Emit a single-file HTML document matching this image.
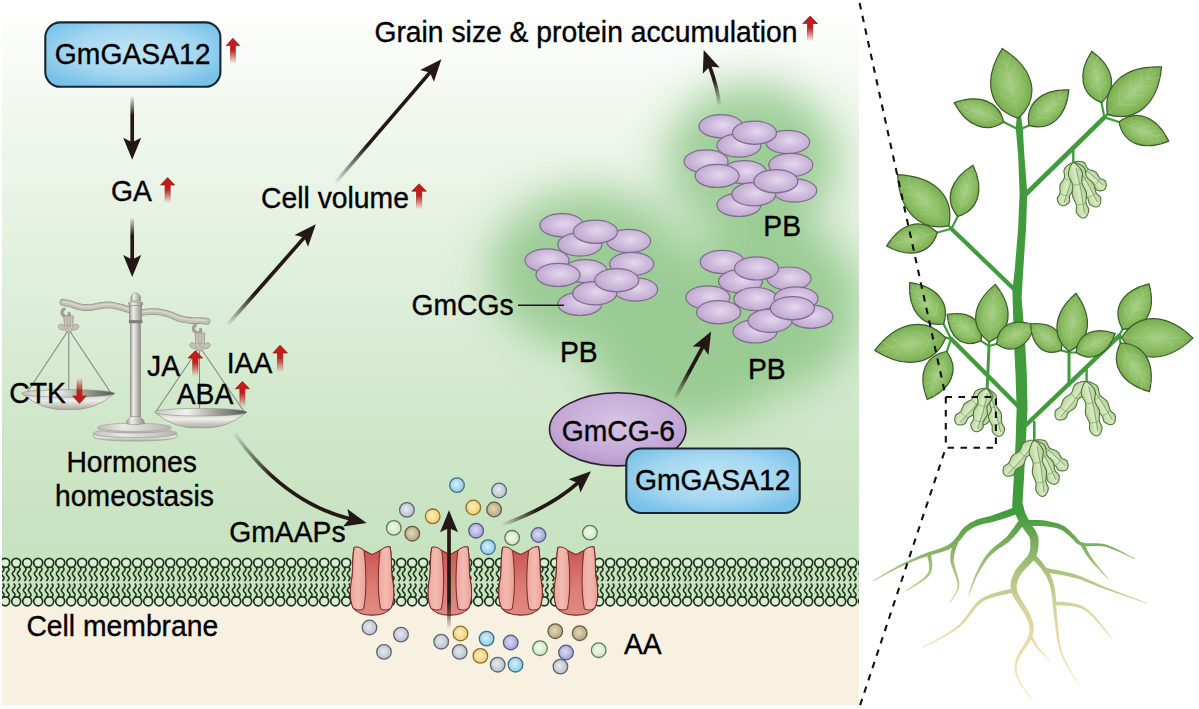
<!DOCTYPE html><html><head><meta charset="utf-8"><style>html,body{margin:0;padding:0;background:#fff;}svg{display:block;}</style></head><body><svg width="1199" height="709" viewBox="0 0 1199 709" font-family='"Liberation Sans", sans-serif'>
<defs>
 <linearGradient id="bg" x1="0" y1="0" x2="0" y2="1" gradientUnits="objectBoundingBox">
  <stop offset="0" stop-color="#ffffff"/>
  <stop offset="0.15" stop-color="#f4f9f2"/>
  <stop offset="0.45" stop-color="#e2f0de"/>
  <stop offset="0.78" stop-color="#cde6c7"/>
  <stop offset="1" stop-color="#c6e2bf"/>
 </linearGradient>
 <radialGradient id="blue" cx="0.5" cy="0.45" r="0.6">
  <stop offset="0" stop-color="#c0e5f6"/>
  <stop offset="0.6" stop-color="#a4d6f0"/>
  <stop offset="1" stop-color="#78c2e9"/>
 </radialGradient>
 <radialGradient id="purp" cx="0.5" cy="0.4" r="0.6">
  <stop offset="0" stop-color="#d7c5e5"/>
  <stop offset="0.7" stop-color="#c5aad7"/>
  <stop offset="1" stop-color="#b698c9"/>
 </radialGradient>
 <radialGradient id="pb" cx="0.55" cy="0.45" r="0.6">
  <stop offset="0" stop-color="#e4d8ed"/>
  <stop offset="0.5" stop-color="#cfbcdd"/>
  <stop offset="1" stop-color="#bca5ce"/>
 </radialGradient>
 <linearGradient id="redar" x1="0" y1="0" x2="0" y2="1">
  <stop offset="0" stop-color="#c21c1c"/>
  <stop offset="0.45" stop-color="#c21c1c"/>
  <stop offset="1" stop-color="#c21c1c" stop-opacity="0"/>
 </linearGradient>
 <linearGradient id="redard" x1="0" y1="1" x2="0" y2="0">
  <stop offset="0" stop-color="#c21c1c"/>
  <stop offset="0.45" stop-color="#c21c1c"/>
  <stop offset="1" stop-color="#c21c1c" stop-opacity="0"/>
 </linearGradient>
 <filter id="blur20" x="-50%" y="-50%" width="200%" height="200%"><feGaussianBlur stdDeviation="22"/></filter>
 <clipPath id="panelclip"><rect x="2" y="5" width="857" height="700.5"/></clipPath>
</defs>
<rect width="1199" height="709" fill="#ffffff"/><g clip-path="url(#panelclip)"><rect x="2" y="5" width="857" height="560" fill="url(#bg)"/><rect x="2" y="560" width="857" height="145.5" fill="#f8f0e0"/><rect x="2" y="555" width="857" height="47" fill="#c8e3c0"/><g filter="url(#blur20)" fill="#8fc688" opacity="0.85"><ellipse cx="752" cy="160" rx="86" ry="76"/><ellipse cx="590" cy="270" rx="100" ry="80"/><ellipse cx="768" cy="305" rx="92" ry="88"/><ellipse cx="690" cy="360" rx="95" ry="65"/></g></g><g clip-path="url(#panelclip)"><path d="M2.70,567.00 L3.47,567.88 L3.97,568.75 L4.00,569.62 L3.57,570.50 L2.82,571.38 L2.02,572.25 L1.48,573.12 L1.37,574.00 L1.75,574.88 L2.47,575.75 L3.27,576.62 L3.87,577.50 L4.04,578.38 L3.73,579.25 L3.05,580.12 L2.24,581.00 M7.70,567.00 L8.47,567.88 L8.97,568.75 L9.00,569.62 L8.57,570.50 L7.82,571.38 L7.03,572.25 L6.48,573.12 L6.37,574.00 L6.75,574.88 L7.47,575.75 L8.27,576.62 L8.87,577.50 L9.04,578.38 L8.73,579.25 L8.05,580.12 L7.24,581.00 M2.70,583.50 L3.47,584.38 L3.97,585.25 L4.00,586.12 L3.57,587.00 L2.82,587.88 L2.02,588.75 L1.48,589.62 L1.37,590.50 L1.75,591.38 L2.47,592.25 L3.27,593.12 L3.87,594.00 L4.04,594.88 L3.73,595.75 L3.05,596.62 L2.24,597.50 M7.70,583.50 L8.47,584.38 L8.97,585.25 L9.00,586.12 L8.57,587.00 L7.82,587.88 L7.03,588.75 L6.48,589.62 L6.37,590.50 L6.75,591.38 L7.47,592.25 L8.27,593.12 L8.87,594.00 L9.04,594.88 L8.73,595.75 L8.05,596.62 L7.24,597.50 M13.70,567.00 L14.47,567.88 L14.97,568.75 L15.00,569.62 L14.57,570.50 L13.82,571.38 L13.02,572.25 L12.48,573.12 L12.37,574.00 L12.75,574.88 L13.47,575.75 L14.27,576.62 L14.87,577.50 L15.04,578.38 L14.73,579.25 L14.05,580.12 L13.24,581.00 M18.70,567.00 L19.47,567.88 L19.97,568.75 L20.00,569.62 L19.57,570.50 L18.82,571.38 L18.02,572.25 L17.48,573.12 L17.37,574.00 L17.75,574.88 L18.47,575.75 L19.27,576.62 L19.87,577.50 L20.04,578.38 L19.73,579.25 L19.05,580.12 L18.24,581.00 M13.70,583.50 L14.47,584.38 L14.97,585.25 L15.00,586.12 L14.57,587.00 L13.82,587.88 L13.02,588.75 L12.48,589.62 L12.37,590.50 L12.75,591.38 L13.47,592.25 L14.27,593.12 L14.87,594.00 L15.04,594.88 L14.73,595.75 L14.05,596.62 L13.24,597.50 M18.70,583.50 L19.47,584.38 L19.97,585.25 L20.00,586.12 L19.57,587.00 L18.82,587.88 L18.02,588.75 L17.48,589.62 L17.37,590.50 L17.75,591.38 L18.47,592.25 L19.27,593.12 L19.87,594.00 L20.04,594.88 L19.73,595.75 L19.05,596.62 L18.24,597.50 M24.70,567.00 L25.47,567.88 L25.97,568.75 L26.00,569.62 L25.57,570.50 L24.82,571.38 L24.02,572.25 L23.48,573.12 L23.37,574.00 L23.75,574.88 L24.47,575.75 L25.27,576.62 L25.87,577.50 L26.04,578.38 L25.73,579.25 L25.05,580.12 L24.24,581.00 M29.70,567.00 L30.47,567.88 L30.97,568.75 L31.00,569.62 L30.57,570.50 L29.82,571.38 L29.02,572.25 L28.48,573.12 L28.37,574.00 L28.75,574.88 L29.47,575.75 L30.27,576.62 L30.87,577.50 L31.04,578.38 L30.73,579.25 L30.05,580.12 L29.24,581.00 M24.70,583.50 L25.47,584.38 L25.97,585.25 L26.00,586.12 L25.57,587.00 L24.82,587.88 L24.02,588.75 L23.48,589.62 L23.37,590.50 L23.75,591.38 L24.47,592.25 L25.27,593.12 L25.87,594.00 L26.04,594.88 L25.73,595.75 L25.05,596.62 L24.24,597.50 M29.70,583.50 L30.47,584.38 L30.97,585.25 L31.00,586.12 L30.57,587.00 L29.82,587.88 L29.02,588.75 L28.48,589.62 L28.37,590.50 L28.75,591.38 L29.47,592.25 L30.27,593.12 L30.87,594.00 L31.04,594.88 L30.73,595.75 L30.05,596.62 L29.24,597.50 M35.70,567.00 L36.47,567.88 L36.97,568.75 L37.00,569.62 L36.57,570.50 L35.82,571.38 L35.03,572.25 L34.48,573.12 L34.37,574.00 L34.75,574.88 L35.47,575.75 L36.27,576.62 L36.87,577.50 L37.04,578.38 L36.73,579.25 L36.05,580.12 L35.24,581.00 M40.70,567.00 L41.47,567.88 L41.97,568.75 L42.00,569.62 L41.57,570.50 L40.82,571.38 L40.03,572.25 L39.48,573.12 L39.37,574.00 L39.75,574.88 L40.47,575.75 L41.27,576.62 L41.87,577.50 L42.04,578.38 L41.73,579.25 L41.05,580.12 L40.24,581.00 M35.70,583.50 L36.47,584.38 L36.97,585.25 L37.00,586.12 L36.57,587.00 L35.82,587.88 L35.03,588.75 L34.48,589.62 L34.37,590.50 L34.75,591.38 L35.47,592.25 L36.27,593.12 L36.87,594.00 L37.04,594.88 L36.73,595.75 L36.05,596.62 L35.24,597.50 M40.70,583.50 L41.47,584.38 L41.97,585.25 L42.00,586.12 L41.57,587.00 L40.82,587.88 L40.03,588.75 L39.48,589.62 L39.37,590.50 L39.75,591.38 L40.47,592.25 L41.27,593.12 L41.87,594.00 L42.04,594.88 L41.73,595.75 L41.05,596.62 L40.24,597.50 M46.70,567.00 L47.47,567.88 L47.97,568.75 L48.00,569.62 L47.57,570.50 L46.82,571.38 L46.03,572.25 L45.48,573.12 L45.37,574.00 L45.75,574.88 L46.47,575.75 L47.27,576.62 L47.87,577.50 L48.04,578.38 L47.73,579.25 L47.05,580.12 L46.24,581.00 M51.70,567.00 L52.47,567.88 L52.97,568.75 L53.00,569.62 L52.57,570.50 L51.82,571.38 L51.03,572.25 L50.48,573.12 L50.37,574.00 L50.75,574.88 L51.47,575.75 L52.27,576.62 L52.87,577.50 L53.04,578.38 L52.73,579.25 L52.05,580.12 L51.24,581.00 M46.70,583.50 L47.47,584.38 L47.97,585.25 L48.00,586.12 L47.57,587.00 L46.82,587.88 L46.03,588.75 L45.48,589.62 L45.37,590.50 L45.75,591.38 L46.47,592.25 L47.27,593.12 L47.87,594.00 L48.04,594.88 L47.73,595.75 L47.05,596.62 L46.24,597.50 M51.70,583.50 L52.47,584.38 L52.97,585.25 L53.00,586.12 L52.57,587.00 L51.82,587.88 L51.03,588.75 L50.48,589.62 L50.37,590.50 L50.75,591.38 L51.47,592.25 L52.27,593.12 L52.87,594.00 L53.04,594.88 L52.73,595.75 L52.05,596.62 L51.24,597.50 M57.70,567.00 L58.47,567.88 L58.97,568.75 L59.00,569.62 L58.57,570.50 L57.82,571.38 L57.03,572.25 L56.48,573.12 L56.37,574.00 L56.75,574.88 L57.47,575.75 L58.27,576.62 L58.87,577.50 L59.04,578.38 L58.73,579.25 L58.05,580.12 L57.24,581.00 M62.70,567.00 L63.47,567.88 L63.97,568.75 L64.00,569.62 L63.57,570.50 L62.82,571.38 L62.03,572.25 L61.48,573.12 L61.37,574.00 L61.75,574.88 L62.47,575.75 L63.27,576.62 L63.87,577.50 L64.04,578.38 L63.73,579.25 L63.05,580.12 L62.24,581.00 M57.70,583.50 L58.47,584.38 L58.97,585.25 L59.00,586.12 L58.57,587.00 L57.82,587.88 L57.03,588.75 L56.48,589.62 L56.37,590.50 L56.75,591.38 L57.47,592.25 L58.27,593.12 L58.87,594.00 L59.04,594.88 L58.73,595.75 L58.05,596.62 L57.24,597.50 M62.70,583.50 L63.47,584.38 L63.97,585.25 L64.00,586.12 L63.57,587.00 L62.82,587.88 L62.03,588.75 L61.48,589.62 L61.37,590.50 L61.75,591.38 L62.47,592.25 L63.27,593.12 L63.87,594.00 L64.04,594.88 L63.73,595.75 L63.05,596.62 L62.24,597.50 M68.70,567.00 L69.47,567.88 L69.97,568.75 L70.00,569.62 L69.57,570.50 L68.82,571.38 L68.03,572.25 L67.48,573.12 L67.37,574.00 L67.75,574.88 L68.47,575.75 L69.27,576.62 L69.87,577.50 L70.04,578.38 L69.73,579.25 L69.05,580.12 L68.24,581.00 M73.70,567.00 L74.47,567.88 L74.97,568.75 L75.00,569.62 L74.57,570.50 L73.82,571.38 L73.03,572.25 L72.48,573.12 L72.37,574.00 L72.75,574.88 L73.47,575.75 L74.27,576.62 L74.87,577.50 L75.04,578.38 L74.73,579.25 L74.05,580.12 L73.24,581.00 M68.70,583.50 L69.47,584.38 L69.97,585.25 L70.00,586.12 L69.57,587.00 L68.82,587.88 L68.03,588.75 L67.48,589.62 L67.37,590.50 L67.75,591.38 L68.47,592.25 L69.27,593.12 L69.87,594.00 L70.04,594.88 L69.73,595.75 L69.05,596.62 L68.24,597.50 M73.70,583.50 L74.47,584.38 L74.97,585.25 L75.00,586.12 L74.57,587.00 L73.82,587.88 L73.03,588.75 L72.48,589.62 L72.37,590.50 L72.75,591.38 L73.47,592.25 L74.27,593.12 L74.87,594.00 L75.04,594.88 L74.73,595.75 L74.05,596.62 L73.24,597.50 M79.70,567.00 L80.47,567.88 L80.97,568.75 L81.00,569.62 L80.57,570.50 L79.82,571.38 L79.03,572.25 L78.48,573.12 L78.37,574.00 L78.75,574.88 L79.47,575.75 L80.27,576.62 L80.87,577.50 L81.04,578.38 L80.73,579.25 L80.05,580.12 L79.24,581.00 M84.70,567.00 L85.47,567.88 L85.97,568.75 L86.00,569.62 L85.57,570.50 L84.82,571.38 L84.03,572.25 L83.48,573.12 L83.37,574.00 L83.75,574.88 L84.47,575.75 L85.27,576.62 L85.87,577.50 L86.04,578.38 L85.73,579.25 L85.05,580.12 L84.24,581.00 M79.70,583.50 L80.47,584.38 L80.97,585.25 L81.00,586.12 L80.57,587.00 L79.82,587.88 L79.03,588.75 L78.48,589.62 L78.37,590.50 L78.75,591.38 L79.47,592.25 L80.27,593.12 L80.87,594.00 L81.04,594.88 L80.73,595.75 L80.05,596.62 L79.24,597.50 M84.70,583.50 L85.47,584.38 L85.97,585.25 L86.00,586.12 L85.57,587.00 L84.82,587.88 L84.03,588.75 L83.48,589.62 L83.37,590.50 L83.75,591.38 L84.47,592.25 L85.27,593.12 L85.87,594.00 L86.04,594.88 L85.73,595.75 L85.05,596.62 L84.24,597.50 M90.70,567.00 L91.47,567.88 L91.97,568.75 L92.00,569.62 L91.57,570.50 L90.82,571.38 L90.03,572.25 L89.48,573.12 L89.37,574.00 L89.75,574.88 L90.47,575.75 L91.27,576.62 L91.87,577.50 L92.04,578.38 L91.73,579.25 L91.05,580.12 L90.24,581.00 M95.70,567.00 L96.47,567.88 L96.97,568.75 L97.00,569.62 L96.57,570.50 L95.82,571.38 L95.03,572.25 L94.48,573.12 L94.37,574.00 L94.75,574.88 L95.47,575.75 L96.27,576.62 L96.87,577.50 L97.04,578.38 L96.73,579.25 L96.05,580.12 L95.24,581.00 M90.70,583.50 L91.47,584.38 L91.97,585.25 L92.00,586.12 L91.57,587.00 L90.82,587.88 L90.03,588.75 L89.48,589.62 L89.37,590.50 L89.75,591.38 L90.47,592.25 L91.27,593.12 L91.87,594.00 L92.04,594.88 L91.73,595.75 L91.05,596.62 L90.24,597.50 M95.70,583.50 L96.47,584.38 L96.97,585.25 L97.00,586.12 L96.57,587.00 L95.82,587.88 L95.03,588.75 L94.48,589.62 L94.37,590.50 L94.75,591.38 L95.47,592.25 L96.27,593.12 L96.87,594.00 L97.04,594.88 L96.73,595.75 L96.05,596.62 L95.24,597.50 M101.70,567.00 L102.47,567.88 L102.97,568.75 L103.00,569.62 L102.57,570.50 L101.82,571.38 L101.03,572.25 L100.48,573.12 L100.37,574.00 L100.75,574.88 L101.47,575.75 L102.27,576.62 L102.87,577.50 L103.04,578.38 L102.73,579.25 L102.05,580.12 L101.24,581.00 M106.70,567.00 L107.47,567.88 L107.97,568.75 L108.00,569.62 L107.57,570.50 L106.82,571.38 L106.03,572.25 L105.48,573.12 L105.37,574.00 L105.75,574.88 L106.47,575.75 L107.27,576.62 L107.87,577.50 L108.04,578.38 L107.73,579.25 L107.05,580.12 L106.24,581.00 M101.70,583.50 L102.47,584.38 L102.97,585.25 L103.00,586.12 L102.57,587.00 L101.82,587.88 L101.03,588.75 L100.48,589.62 L100.37,590.50 L100.75,591.38 L101.47,592.25 L102.27,593.12 L102.87,594.00 L103.04,594.88 L102.73,595.75 L102.05,596.62 L101.24,597.50 M106.70,583.50 L107.47,584.38 L107.97,585.25 L108.00,586.12 L107.57,587.00 L106.82,587.88 L106.03,588.75 L105.48,589.62 L105.37,590.50 L105.75,591.38 L106.47,592.25 L107.27,593.12 L107.87,594.00 L108.04,594.88 L107.73,595.75 L107.05,596.62 L106.24,597.50 M112.70,567.00 L113.47,567.88 L113.97,568.75 L114.00,569.62 L113.57,570.50 L112.82,571.38 L112.03,572.25 L111.48,573.12 L111.37,574.00 L111.75,574.88 L112.47,575.75 L113.27,576.62 L113.87,577.50 L114.04,578.38 L113.73,579.25 L113.05,580.12 L112.24,581.00 M117.70,567.00 L118.47,567.88 L118.97,568.75 L119.00,569.62 L118.57,570.50 L117.82,571.38 L117.03,572.25 L116.48,573.12 L116.37,574.00 L116.75,574.88 L117.47,575.75 L118.27,576.62 L118.87,577.50 L119.04,578.38 L118.73,579.25 L118.05,580.12 L117.24,581.00 M112.70,583.50 L113.47,584.38 L113.97,585.25 L114.00,586.12 L113.57,587.00 L112.82,587.88 L112.03,588.75 L111.48,589.62 L111.37,590.50 L111.75,591.38 L112.47,592.25 L113.27,593.12 L113.87,594.00 L114.04,594.88 L113.73,595.75 L113.05,596.62 L112.24,597.50 M117.70,583.50 L118.47,584.38 L118.97,585.25 L119.00,586.12 L118.57,587.00 L117.82,587.88 L117.03,588.75 L116.48,589.62 L116.37,590.50 L116.75,591.38 L117.47,592.25 L118.27,593.12 L118.87,594.00 L119.04,594.88 L118.73,595.75 L118.05,596.62 L117.24,597.50 M123.70,567.00 L124.47,567.88 L124.97,568.75 L125.00,569.62 L124.57,570.50 L123.82,571.38 L123.03,572.25 L122.48,573.12 L122.37,574.00 L122.75,574.88 L123.47,575.75 L124.27,576.62 L124.87,577.50 L125.04,578.38 L124.73,579.25 L124.05,580.12 L123.24,581.00 M128.70,567.00 L129.47,567.88 L129.97,568.75 L130.00,569.62 L129.57,570.50 L128.82,571.38 L128.02,572.25 L127.48,573.12 L127.37,574.00 L127.75,574.88 L128.47,575.75 L129.27,576.62 L129.87,577.50 L130.04,578.38 L129.73,579.25 L129.05,580.12 L128.24,581.00 M123.70,583.50 L124.47,584.38 L124.97,585.25 L125.00,586.12 L124.57,587.00 L123.82,587.88 L123.03,588.75 L122.48,589.62 L122.37,590.50 L122.75,591.38 L123.47,592.25 L124.27,593.12 L124.87,594.00 L125.04,594.88 L124.73,595.75 L124.05,596.62 L123.24,597.50 M128.70,583.50 L129.47,584.38 L129.97,585.25 L130.00,586.12 L129.57,587.00 L128.82,587.88 L128.02,588.75 L127.48,589.62 L127.37,590.50 L127.75,591.38 L128.47,592.25 L129.27,593.12 L129.87,594.00 L130.04,594.88 L129.73,595.75 L129.05,596.62 L128.24,597.50 M134.70,567.00 L135.47,567.88 L135.97,568.75 L136.00,569.62 L135.57,570.50 L134.82,571.38 L134.02,572.25 L133.48,573.12 L133.37,574.00 L133.75,574.88 L134.47,575.75 L135.27,576.62 L135.87,577.50 L136.04,578.38 L135.73,579.25 L135.05,580.12 L134.24,581.00 M139.70,567.00 L140.47,567.88 L140.97,568.75 L141.00,569.62 L140.57,570.50 L139.82,571.38 L139.02,572.25 L138.48,573.12 L138.37,574.00 L138.75,574.88 L139.47,575.75 L140.27,576.62 L140.87,577.50 L141.04,578.38 L140.73,579.25 L140.05,580.12 L139.24,581.00 M134.70,583.50 L135.47,584.38 L135.97,585.25 L136.00,586.12 L135.57,587.00 L134.82,587.88 L134.02,588.75 L133.48,589.62 L133.37,590.50 L133.75,591.38 L134.47,592.25 L135.27,593.12 L135.87,594.00 L136.04,594.88 L135.73,595.75 L135.05,596.62 L134.24,597.50 M139.70,583.50 L140.47,584.38 L140.97,585.25 L141.00,586.12 L140.57,587.00 L139.82,587.88 L139.02,588.75 L138.48,589.62 L138.37,590.50 L138.75,591.38 L139.47,592.25 L140.27,593.12 L140.87,594.00 L141.04,594.88 L140.73,595.75 L140.05,596.62 L139.24,597.50 M145.70,567.00 L146.47,567.88 L146.97,568.75 L147.00,569.62 L146.57,570.50 L145.82,571.38 L145.02,572.25 L144.48,573.12 L144.37,574.00 L144.75,574.88 L145.47,575.75 L146.27,576.62 L146.87,577.50 L147.04,578.38 L146.73,579.25 L146.05,580.12 L145.24,581.00 M150.70,567.00 L151.47,567.88 L151.97,568.75 L152.00,569.62 L151.57,570.50 L150.82,571.38 L150.02,572.25 L149.48,573.12 L149.37,574.00 L149.75,574.88 L150.47,575.75 L151.27,576.62 L151.87,577.50 L152.04,578.38 L151.73,579.25 L151.05,580.12 L150.24,581.00 M145.70,583.50 L146.47,584.38 L146.97,585.25 L147.00,586.12 L146.57,587.00 L145.82,587.88 L145.02,588.75 L144.48,589.62 L144.37,590.50 L144.75,591.38 L145.47,592.25 L146.27,593.12 L146.87,594.00 L147.04,594.88 L146.73,595.75 L146.05,596.62 L145.24,597.50 M150.70,583.50 L151.47,584.38 L151.97,585.25 L152.00,586.12 L151.57,587.00 L150.82,587.88 L150.02,588.75 L149.48,589.62 L149.37,590.50 L149.75,591.38 L150.47,592.25 L151.27,593.12 L151.87,594.00 L152.04,594.88 L151.73,595.75 L151.05,596.62 L150.24,597.50 M156.70,567.00 L157.47,567.88 L157.97,568.75 L158.00,569.62 L157.57,570.50 L156.82,571.38 L156.02,572.25 L155.48,573.12 L155.37,574.00 L155.75,574.88 L156.47,575.75 L157.27,576.62 L157.87,577.50 L158.04,578.38 L157.73,579.25 L157.05,580.12 L156.24,581.00 M161.70,567.00 L162.47,567.88 L162.97,568.75 L163.00,569.62 L162.57,570.50 L161.82,571.38 L161.02,572.25 L160.48,573.12 L160.37,574.00 L160.75,574.88 L161.47,575.75 L162.27,576.62 L162.87,577.50 L163.04,578.38 L162.73,579.25 L162.05,580.12 L161.24,581.00 M156.70,583.50 L157.47,584.38 L157.97,585.25 L158.00,586.12 L157.57,587.00 L156.82,587.88 L156.02,588.75 L155.48,589.62 L155.37,590.50 L155.75,591.38 L156.47,592.25 L157.27,593.12 L157.87,594.00 L158.04,594.88 L157.73,595.75 L157.05,596.62 L156.24,597.50 M161.70,583.50 L162.47,584.38 L162.97,585.25 L163.00,586.12 L162.57,587.00 L161.82,587.88 L161.02,588.75 L160.48,589.62 L160.37,590.50 L160.75,591.38 L161.47,592.25 L162.27,593.12 L162.87,594.00 L163.04,594.88 L162.73,595.75 L162.05,596.62 L161.24,597.50 M167.70,567.00 L168.47,567.88 L168.97,568.75 L169.00,569.62 L168.57,570.50 L167.82,571.38 L167.02,572.25 L166.48,573.12 L166.37,574.00 L166.75,574.88 L167.47,575.75 L168.27,576.62 L168.87,577.50 L169.04,578.38 L168.73,579.25 L168.05,580.12 L167.24,581.00 M172.70,567.00 L173.47,567.88 L173.97,568.75 L174.00,569.62 L173.57,570.50 L172.82,571.38 L172.02,572.25 L171.48,573.12 L171.37,574.00 L171.75,574.88 L172.47,575.75 L173.27,576.62 L173.87,577.50 L174.04,578.38 L173.73,579.25 L173.05,580.12 L172.24,581.00 M167.70,583.50 L168.47,584.38 L168.97,585.25 L169.00,586.12 L168.57,587.00 L167.82,587.88 L167.02,588.75 L166.48,589.62 L166.37,590.50 L166.75,591.38 L167.47,592.25 L168.27,593.12 L168.87,594.00 L169.04,594.88 L168.73,595.75 L168.05,596.62 L167.24,597.50 M172.70,583.50 L173.47,584.38 L173.97,585.25 L174.00,586.12 L173.57,587.00 L172.82,587.88 L172.02,588.75 L171.48,589.62 L171.37,590.50 L171.75,591.38 L172.47,592.25 L173.27,593.12 L173.87,594.00 L174.04,594.88 L173.73,595.75 L173.05,596.62 L172.24,597.50 M178.70,567.00 L179.47,567.88 L179.97,568.75 L180.00,569.62 L179.57,570.50 L178.82,571.38 L178.02,572.25 L177.48,573.12 L177.37,574.00 L177.75,574.88 L178.47,575.75 L179.27,576.62 L179.87,577.50 L180.04,578.38 L179.73,579.25 L179.05,580.12 L178.24,581.00 M183.70,567.00 L184.47,567.88 L184.97,568.75 L185.00,569.62 L184.57,570.50 L183.82,571.38 L183.02,572.25 L182.48,573.12 L182.37,574.00 L182.75,574.88 L183.47,575.75 L184.27,576.62 L184.87,577.50 L185.04,578.38 L184.73,579.25 L184.05,580.12 L183.24,581.00 M178.70,583.50 L179.47,584.38 L179.97,585.25 L180.00,586.12 L179.57,587.00 L178.82,587.88 L178.02,588.75 L177.48,589.62 L177.37,590.50 L177.75,591.38 L178.47,592.25 L179.27,593.12 L179.87,594.00 L180.04,594.88 L179.73,595.75 L179.05,596.62 L178.24,597.50 M183.70,583.50 L184.47,584.38 L184.97,585.25 L185.00,586.12 L184.57,587.00 L183.82,587.88 L183.02,588.75 L182.48,589.62 L182.37,590.50 L182.75,591.38 L183.47,592.25 L184.27,593.12 L184.87,594.00 L185.04,594.88 L184.73,595.75 L184.05,596.62 L183.24,597.50 M189.70,567.00 L190.47,567.88 L190.97,568.75 L191.00,569.62 L190.57,570.50 L189.82,571.38 L189.02,572.25 L188.48,573.12 L188.37,574.00 L188.75,574.88 L189.47,575.75 L190.27,576.62 L190.87,577.50 L191.04,578.38 L190.73,579.25 L190.05,580.12 L189.24,581.00 M194.70,567.00 L195.47,567.88 L195.97,568.75 L196.00,569.62 L195.57,570.50 L194.82,571.38 L194.02,572.25 L193.48,573.12 L193.37,574.00 L193.75,574.88 L194.47,575.75 L195.27,576.62 L195.87,577.50 L196.04,578.38 L195.73,579.25 L195.05,580.12 L194.24,581.00 M189.70,583.50 L190.47,584.38 L190.97,585.25 L191.00,586.12 L190.57,587.00 L189.82,587.88 L189.02,588.75 L188.48,589.62 L188.37,590.50 L188.75,591.38 L189.47,592.25 L190.27,593.12 L190.87,594.00 L191.04,594.88 L190.73,595.75 L190.05,596.62 L189.24,597.50 M194.70,583.50 L195.47,584.38 L195.97,585.25 L196.00,586.12 L195.57,587.00 L194.82,587.88 L194.02,588.75 L193.48,589.62 L193.37,590.50 L193.75,591.38 L194.47,592.25 L195.27,593.12 L195.87,594.00 L196.04,594.88 L195.73,595.75 L195.05,596.62 L194.24,597.50 M200.70,567.00 L201.47,567.88 L201.97,568.75 L202.00,569.62 L201.57,570.50 L200.82,571.38 L200.02,572.25 L199.48,573.12 L199.37,574.00 L199.75,574.88 L200.47,575.75 L201.27,576.62 L201.87,577.50 L202.04,578.38 L201.73,579.25 L201.05,580.12 L200.24,581.00 M205.70,567.00 L206.47,567.88 L206.97,568.75 L207.00,569.62 L206.57,570.50 L205.82,571.38 L205.02,572.25 L204.48,573.12 L204.37,574.00 L204.75,574.88 L205.47,575.75 L206.27,576.62 L206.87,577.50 L207.04,578.38 L206.73,579.25 L206.05,580.12 L205.24,581.00 M200.70,583.50 L201.47,584.38 L201.97,585.25 L202.00,586.12 L201.57,587.00 L200.82,587.88 L200.02,588.75 L199.48,589.62 L199.37,590.50 L199.75,591.38 L200.47,592.25 L201.27,593.12 L201.87,594.00 L202.04,594.88 L201.73,595.75 L201.05,596.62 L200.24,597.50 M205.70,583.50 L206.47,584.38 L206.97,585.25 L207.00,586.12 L206.57,587.00 L205.82,587.88 L205.02,588.75 L204.48,589.62 L204.37,590.50 L204.75,591.38 L205.47,592.25 L206.27,593.12 L206.87,594.00 L207.04,594.88 L206.73,595.75 L206.05,596.62 L205.24,597.50 M211.70,567.00 L212.47,567.88 L212.97,568.75 L213.00,569.62 L212.57,570.50 L211.82,571.38 L211.02,572.25 L210.48,573.12 L210.37,574.00 L210.75,574.88 L211.47,575.75 L212.27,576.62 L212.87,577.50 L213.04,578.38 L212.73,579.25 L212.05,580.12 L211.24,581.00 M216.70,567.00 L217.47,567.88 L217.97,568.75 L218.00,569.62 L217.57,570.50 L216.82,571.38 L216.02,572.25 L215.48,573.12 L215.37,574.00 L215.75,574.88 L216.47,575.75 L217.27,576.62 L217.87,577.50 L218.04,578.38 L217.73,579.25 L217.05,580.12 L216.24,581.00 M211.70,583.50 L212.47,584.38 L212.97,585.25 L213.00,586.12 L212.57,587.00 L211.82,587.88 L211.02,588.75 L210.48,589.62 L210.37,590.50 L210.75,591.38 L211.47,592.25 L212.27,593.12 L212.87,594.00 L213.04,594.88 L212.73,595.75 L212.05,596.62 L211.24,597.50 M216.70,583.50 L217.47,584.38 L217.97,585.25 L218.00,586.12 L217.57,587.00 L216.82,587.88 L216.02,588.75 L215.48,589.62 L215.37,590.50 L215.75,591.38 L216.47,592.25 L217.27,593.12 L217.87,594.00 L218.04,594.88 L217.73,595.75 L217.05,596.62 L216.24,597.50 M222.70,567.00 L223.47,567.88 L223.97,568.75 L224.00,569.62 L223.57,570.50 L222.82,571.38 L222.02,572.25 L221.48,573.12 L221.37,574.00 L221.75,574.88 L222.47,575.75 L223.27,576.62 L223.87,577.50 L224.04,578.38 L223.73,579.25 L223.05,580.12 L222.24,581.00 M227.70,567.00 L228.47,567.88 L228.97,568.75 L229.00,569.62 L228.57,570.50 L227.82,571.38 L227.02,572.25 L226.48,573.12 L226.37,574.00 L226.75,574.88 L227.47,575.75 L228.27,576.62 L228.87,577.50 L229.04,578.38 L228.73,579.25 L228.05,580.12 L227.24,581.00 M222.70,583.50 L223.47,584.38 L223.97,585.25 L224.00,586.12 L223.57,587.00 L222.82,587.88 L222.02,588.75 L221.48,589.62 L221.37,590.50 L221.75,591.38 L222.47,592.25 L223.27,593.12 L223.87,594.00 L224.04,594.88 L223.73,595.75 L223.05,596.62 L222.24,597.50 M227.70,583.50 L228.47,584.38 L228.97,585.25 L229.00,586.12 L228.57,587.00 L227.82,587.88 L227.02,588.75 L226.48,589.62 L226.37,590.50 L226.75,591.38 L227.47,592.25 L228.27,593.12 L228.87,594.00 L229.04,594.88 L228.73,595.75 L228.05,596.62 L227.24,597.50 M233.70,567.00 L234.47,567.88 L234.97,568.75 L235.00,569.62 L234.57,570.50 L233.82,571.38 L233.02,572.25 L232.48,573.12 L232.37,574.00 L232.75,574.88 L233.47,575.75 L234.27,576.62 L234.87,577.50 L235.04,578.38 L234.73,579.25 L234.05,580.12 L233.24,581.00 M238.70,567.00 L239.47,567.88 L239.97,568.75 L240.00,569.62 L239.57,570.50 L238.82,571.38 L238.02,572.25 L237.48,573.12 L237.37,574.00 L237.75,574.88 L238.47,575.75 L239.27,576.62 L239.87,577.50 L240.04,578.38 L239.73,579.25 L239.05,580.12 L238.24,581.00 M233.70,583.50 L234.47,584.38 L234.97,585.25 L235.00,586.12 L234.57,587.00 L233.82,587.88 L233.02,588.75 L232.48,589.62 L232.37,590.50 L232.75,591.38 L233.47,592.25 L234.27,593.12 L234.87,594.00 L235.04,594.88 L234.73,595.75 L234.05,596.62 L233.24,597.50 M238.70,583.50 L239.47,584.38 L239.97,585.25 L240.00,586.12 L239.57,587.00 L238.82,587.88 L238.02,588.75 L237.48,589.62 L237.37,590.50 L237.75,591.38 L238.47,592.25 L239.27,593.12 L239.87,594.00 L240.04,594.88 L239.73,595.75 L239.05,596.62 L238.24,597.50 M244.70,567.00 L245.47,567.88 L245.97,568.75 L246.00,569.62 L245.57,570.50 L244.82,571.38 L244.02,572.25 L243.48,573.12 L243.37,574.00 L243.75,574.88 L244.47,575.75 L245.27,576.62 L245.87,577.50 L246.04,578.38 L245.73,579.25 L245.05,580.12 L244.24,581.00 M249.70,567.00 L250.47,567.88 L250.97,568.75 L251.00,569.62 L250.57,570.50 L249.82,571.38 L249.02,572.25 L248.48,573.12 L248.37,574.00 L248.75,574.88 L249.47,575.75 L250.27,576.62 L250.87,577.50 L251.04,578.38 L250.73,579.25 L250.05,580.12 L249.24,581.00 M244.70,583.50 L245.47,584.38 L245.97,585.25 L246.00,586.12 L245.57,587.00 L244.82,587.88 L244.02,588.75 L243.48,589.62 L243.37,590.50 L243.75,591.38 L244.47,592.25 L245.27,593.12 L245.87,594.00 L246.04,594.88 L245.73,595.75 L245.05,596.62 L244.24,597.50 M249.70,583.50 L250.47,584.38 L250.97,585.25 L251.00,586.12 L250.57,587.00 L249.82,587.88 L249.02,588.75 L248.48,589.62 L248.37,590.50 L248.75,591.38 L249.47,592.25 L250.27,593.12 L250.87,594.00 L251.04,594.88 L250.73,595.75 L250.05,596.62 L249.24,597.50 M255.70,567.00 L256.47,567.88 L256.97,568.75 L257.00,569.62 L256.57,570.50 L255.82,571.38 L255.02,572.25 L254.48,573.12 L254.37,574.00 L254.75,574.88 L255.47,575.75 L256.27,576.62 L256.87,577.50 L257.04,578.38 L256.73,579.25 L256.05,580.12 L255.24,581.00 M260.70,567.00 L261.47,567.88 L261.97,568.75 L262.00,569.62 L261.57,570.50 L260.82,571.38 L260.02,572.25 L259.48,573.12 L259.37,574.00 L259.75,574.88 L260.47,575.75 L261.27,576.62 L261.87,577.50 L262.04,578.38 L261.73,579.25 L261.05,580.12 L260.24,581.00 M255.70,583.50 L256.47,584.38 L256.97,585.25 L257.00,586.12 L256.57,587.00 L255.82,587.88 L255.02,588.75 L254.48,589.62 L254.37,590.50 L254.75,591.38 L255.47,592.25 L256.27,593.12 L256.87,594.00 L257.04,594.88 L256.73,595.75 L256.05,596.62 L255.24,597.50 M260.70,583.50 L261.47,584.38 L261.97,585.25 L262.00,586.12 L261.57,587.00 L260.82,587.88 L260.02,588.75 L259.48,589.62 L259.37,590.50 L259.75,591.38 L260.47,592.25 L261.27,593.12 L261.87,594.00 L262.04,594.88 L261.73,595.75 L261.05,596.62 L260.24,597.50 M266.70,567.00 L267.47,567.88 L267.97,568.75 L268.00,569.62 L267.57,570.50 L266.82,571.38 L266.02,572.25 L265.48,573.12 L265.37,574.00 L265.75,574.88 L266.47,575.75 L267.27,576.62 L267.87,577.50 L268.04,578.38 L267.73,579.25 L267.05,580.12 L266.24,581.00 M271.70,567.00 L272.47,567.88 L272.97,568.75 L273.00,569.62 L272.57,570.50 L271.82,571.38 L271.02,572.25 L270.48,573.12 L270.37,574.00 L270.75,574.88 L271.47,575.75 L272.27,576.62 L272.87,577.50 L273.04,578.38 L272.73,579.25 L272.05,580.12 L271.24,581.00 M266.70,583.50 L267.47,584.38 L267.97,585.25 L268.00,586.12 L267.57,587.00 L266.82,587.88 L266.02,588.75 L265.48,589.62 L265.37,590.50 L265.75,591.38 L266.47,592.25 L267.27,593.12 L267.87,594.00 L268.04,594.88 L267.73,595.75 L267.05,596.62 L266.24,597.50 M271.70,583.50 L272.47,584.38 L272.97,585.25 L273.00,586.12 L272.57,587.00 L271.82,587.88 L271.02,588.75 L270.48,589.62 L270.37,590.50 L270.75,591.38 L271.47,592.25 L272.27,593.12 L272.87,594.00 L273.04,594.88 L272.73,595.75 L272.05,596.62 L271.24,597.50 M277.70,567.00 L278.47,567.88 L278.97,568.75 L279.00,569.62 L278.57,570.50 L277.82,571.38 L277.02,572.25 L276.48,573.12 L276.37,574.00 L276.75,574.88 L277.47,575.75 L278.27,576.62 L278.87,577.50 L279.04,578.38 L278.73,579.25 L278.05,580.12 L277.24,581.00 M282.70,567.00 L283.47,567.88 L283.97,568.75 L284.00,569.62 L283.57,570.50 L282.82,571.38 L282.02,572.25 L281.48,573.12 L281.37,574.00 L281.75,574.88 L282.47,575.75 L283.27,576.62 L283.87,577.50 L284.04,578.38 L283.73,579.25 L283.05,580.12 L282.24,581.00 M277.70,583.50 L278.47,584.38 L278.97,585.25 L279.00,586.12 L278.57,587.00 L277.82,587.88 L277.02,588.75 L276.48,589.62 L276.37,590.50 L276.75,591.38 L277.47,592.25 L278.27,593.12 L278.87,594.00 L279.04,594.88 L278.73,595.75 L278.05,596.62 L277.24,597.50 M282.70,583.50 L283.47,584.38 L283.97,585.25 L284.00,586.12 L283.57,587.00 L282.82,587.88 L282.02,588.75 L281.48,589.62 L281.37,590.50 L281.75,591.38 L282.47,592.25 L283.27,593.12 L283.87,594.00 L284.04,594.88 L283.73,595.75 L283.05,596.62 L282.24,597.50 M288.70,567.00 L289.47,567.88 L289.97,568.75 L290.00,569.62 L289.57,570.50 L288.82,571.38 L288.02,572.25 L287.48,573.12 L287.37,574.00 L287.75,574.88 L288.47,575.75 L289.27,576.62 L289.87,577.50 L290.04,578.38 L289.73,579.25 L289.05,580.12 L288.24,581.00 M293.70,567.00 L294.47,567.88 L294.97,568.75 L295.00,569.62 L294.57,570.50 L293.82,571.38 L293.02,572.25 L292.48,573.12 L292.37,574.00 L292.75,574.88 L293.47,575.75 L294.27,576.62 L294.87,577.50 L295.04,578.38 L294.73,579.25 L294.05,580.12 L293.24,581.00 M288.70,583.50 L289.47,584.38 L289.97,585.25 L290.00,586.12 L289.57,587.00 L288.82,587.88 L288.02,588.75 L287.48,589.62 L287.37,590.50 L287.75,591.38 L288.47,592.25 L289.27,593.12 L289.87,594.00 L290.04,594.88 L289.73,595.75 L289.05,596.62 L288.24,597.50 M293.70,583.50 L294.47,584.38 L294.97,585.25 L295.00,586.12 L294.57,587.00 L293.82,587.88 L293.02,588.75 L292.48,589.62 L292.37,590.50 L292.75,591.38 L293.47,592.25 L294.27,593.12 L294.87,594.00 L295.04,594.88 L294.73,595.75 L294.05,596.62 L293.24,597.50 M299.70,567.00 L300.47,567.88 L300.97,568.75 L301.00,569.62 L300.57,570.50 L299.82,571.38 L299.02,572.25 L298.48,573.12 L298.37,574.00 L298.75,574.88 L299.47,575.75 L300.27,576.62 L300.87,577.50 L301.04,578.38 L300.73,579.25 L300.05,580.12 L299.24,581.00 M304.70,567.00 L305.47,567.88 L305.97,568.75 L306.00,569.62 L305.57,570.50 L304.82,571.38 L304.02,572.25 L303.48,573.12 L303.37,574.00 L303.75,574.88 L304.47,575.75 L305.27,576.62 L305.87,577.50 L306.04,578.38 L305.73,579.25 L305.05,580.12 L304.24,581.00 M299.70,583.50 L300.47,584.38 L300.97,585.25 L301.00,586.12 L300.57,587.00 L299.82,587.88 L299.02,588.75 L298.48,589.62 L298.37,590.50 L298.75,591.38 L299.47,592.25 L300.27,593.12 L300.87,594.00 L301.04,594.88 L300.73,595.75 L300.05,596.62 L299.24,597.50 M304.70,583.50 L305.47,584.38 L305.97,585.25 L306.00,586.12 L305.57,587.00 L304.82,587.88 L304.02,588.75 L303.48,589.62 L303.37,590.50 L303.75,591.38 L304.47,592.25 L305.27,593.12 L305.87,594.00 L306.04,594.88 L305.73,595.75 L305.05,596.62 L304.24,597.50 M310.70,567.00 L311.47,567.88 L311.97,568.75 L312.00,569.62 L311.57,570.50 L310.82,571.38 L310.02,572.25 L309.48,573.12 L309.37,574.00 L309.75,574.88 L310.47,575.75 L311.27,576.62 L311.87,577.50 L312.04,578.38 L311.73,579.25 L311.05,580.12 L310.24,581.00 M315.70,567.00 L316.47,567.88 L316.97,568.75 L317.00,569.62 L316.57,570.50 L315.82,571.38 L315.02,572.25 L314.48,573.12 L314.37,574.00 L314.75,574.88 L315.47,575.75 L316.27,576.62 L316.87,577.50 L317.04,578.38 L316.73,579.25 L316.05,580.12 L315.24,581.00 M310.70,583.50 L311.47,584.38 L311.97,585.25 L312.00,586.12 L311.57,587.00 L310.82,587.88 L310.02,588.75 L309.48,589.62 L309.37,590.50 L309.75,591.38 L310.47,592.25 L311.27,593.12 L311.87,594.00 L312.04,594.88 L311.73,595.75 L311.05,596.62 L310.24,597.50 M315.70,583.50 L316.47,584.38 L316.97,585.25 L317.00,586.12 L316.57,587.00 L315.82,587.88 L315.02,588.75 L314.48,589.62 L314.37,590.50 L314.75,591.38 L315.47,592.25 L316.27,593.12 L316.87,594.00 L317.04,594.88 L316.73,595.75 L316.05,596.62 L315.24,597.50 M321.70,567.00 L322.47,567.88 L322.97,568.75 L323.00,569.62 L322.57,570.50 L321.82,571.38 L321.02,572.25 L320.48,573.12 L320.37,574.00 L320.75,574.88 L321.47,575.75 L322.27,576.62 L322.87,577.50 L323.04,578.38 L322.73,579.25 L322.05,580.12 L321.24,581.00 M326.70,567.00 L327.47,567.88 L327.97,568.75 L328.00,569.62 L327.57,570.50 L326.82,571.38 L326.02,572.25 L325.48,573.12 L325.37,574.00 L325.75,574.88 L326.47,575.75 L327.27,576.62 L327.87,577.50 L328.04,578.38 L327.73,579.25 L327.05,580.12 L326.24,581.00 M321.70,583.50 L322.47,584.38 L322.97,585.25 L323.00,586.12 L322.57,587.00 L321.82,587.88 L321.02,588.75 L320.48,589.62 L320.37,590.50 L320.75,591.38 L321.47,592.25 L322.27,593.12 L322.87,594.00 L323.04,594.88 L322.73,595.75 L322.05,596.62 L321.24,597.50 M326.70,583.50 L327.47,584.38 L327.97,585.25 L328.00,586.12 L327.57,587.00 L326.82,587.88 L326.02,588.75 L325.48,589.62 L325.37,590.50 L325.75,591.38 L326.47,592.25 L327.27,593.12 L327.87,594.00 L328.04,594.88 L327.73,595.75 L327.05,596.62 L326.24,597.50 M332.70,567.00 L333.47,567.88 L333.97,568.75 L334.00,569.62 L333.57,570.50 L332.82,571.38 L332.02,572.25 L331.48,573.12 L331.37,574.00 L331.75,574.88 L332.47,575.75 L333.27,576.62 L333.87,577.50 L334.04,578.38 L333.73,579.25 L333.05,580.12 L332.24,581.00 M337.70,567.00 L338.47,567.88 L338.97,568.75 L339.00,569.62 L338.57,570.50 L337.82,571.38 L337.02,572.25 L336.48,573.12 L336.37,574.00 L336.75,574.88 L337.47,575.75 L338.27,576.62 L338.87,577.50 L339.04,578.38 L338.73,579.25 L338.05,580.12 L337.24,581.00 M332.70,583.50 L333.47,584.38 L333.97,585.25 L334.00,586.12 L333.57,587.00 L332.82,587.88 L332.02,588.75 L331.48,589.62 L331.37,590.50 L331.75,591.38 L332.47,592.25 L333.27,593.12 L333.87,594.00 L334.04,594.88 L333.73,595.75 L333.05,596.62 L332.24,597.50 M337.70,583.50 L338.47,584.38 L338.97,585.25 L339.00,586.12 L338.57,587.00 L337.82,587.88 L337.02,588.75 L336.48,589.62 L336.37,590.50 L336.75,591.38 L337.47,592.25 L338.27,593.12 L338.87,594.00 L339.04,594.88 L338.73,595.75 L338.05,596.62 L337.24,597.50 M343.70,567.00 L344.47,567.88 L344.97,568.75 L345.00,569.62 L344.57,570.50 L343.82,571.38 L343.02,572.25 L342.48,573.12 L342.37,574.00 L342.75,574.88 L343.47,575.75 L344.27,576.62 L344.87,577.50 L345.04,578.38 L344.73,579.25 L344.05,580.12 L343.24,581.00 M348.70,567.00 L349.47,567.88 L349.97,568.75 L350.00,569.62 L349.57,570.50 L348.82,571.38 L348.02,572.25 L347.48,573.12 L347.37,574.00 L347.75,574.88 L348.47,575.75 L349.27,576.62 L349.87,577.50 L350.04,578.38 L349.73,579.25 L349.05,580.12 L348.24,581.00 M343.70,583.50 L344.47,584.38 L344.97,585.25 L345.00,586.12 L344.57,587.00 L343.82,587.88 L343.02,588.75 L342.48,589.62 L342.37,590.50 L342.75,591.38 L343.47,592.25 L344.27,593.12 L344.87,594.00 L345.04,594.88 L344.73,595.75 L344.05,596.62 L343.24,597.50 M348.70,583.50 L349.47,584.38 L349.97,585.25 L350.00,586.12 L349.57,587.00 L348.82,587.88 L348.02,588.75 L347.48,589.62 L347.37,590.50 L347.75,591.38 L348.47,592.25 L349.27,593.12 L349.87,594.00 L350.04,594.88 L349.73,595.75 L349.05,596.62 L348.24,597.50 M354.70,567.00 L355.47,567.88 L355.97,568.75 L356.00,569.62 L355.57,570.50 L354.82,571.38 L354.02,572.25 L353.48,573.12 L353.37,574.00 L353.75,574.88 L354.47,575.75 L355.27,576.62 L355.87,577.50 L356.04,578.38 L355.73,579.25 L355.05,580.12 L354.24,581.00 M359.70,567.00 L360.47,567.88 L360.97,568.75 L361.00,569.62 L360.57,570.50 L359.82,571.38 L359.02,572.25 L358.48,573.12 L358.37,574.00 L358.75,574.88 L359.47,575.75 L360.27,576.62 L360.87,577.50 L361.04,578.38 L360.73,579.25 L360.05,580.12 L359.24,581.00 M354.70,583.50 L355.47,584.38 L355.97,585.25 L356.00,586.12 L355.57,587.00 L354.82,587.88 L354.02,588.75 L353.48,589.62 L353.37,590.50 L353.75,591.38 L354.47,592.25 L355.27,593.12 L355.87,594.00 L356.04,594.88 L355.73,595.75 L355.05,596.62 L354.24,597.50 M359.70,583.50 L360.47,584.38 L360.97,585.25 L361.00,586.12 L360.57,587.00 L359.82,587.88 L359.02,588.75 L358.48,589.62 L358.37,590.50 L358.75,591.38 L359.47,592.25 L360.27,593.12 L360.87,594.00 L361.04,594.88 L360.73,595.75 L360.05,596.62 L359.24,597.50 M365.70,567.00 L366.47,567.88 L366.97,568.75 L367.00,569.62 L366.57,570.50 L365.82,571.38 L365.02,572.25 L364.48,573.12 L364.37,574.00 L364.75,574.88 L365.47,575.75 L366.27,576.62 L366.87,577.50 L367.04,578.38 L366.73,579.25 L366.05,580.12 L365.24,581.00 M370.70,567.00 L371.47,567.88 L371.97,568.75 L372.00,569.62 L371.57,570.50 L370.82,571.38 L370.02,572.25 L369.48,573.12 L369.37,574.00 L369.75,574.88 L370.47,575.75 L371.27,576.62 L371.87,577.50 L372.04,578.38 L371.73,579.25 L371.05,580.12 L370.24,581.00 M365.70,583.50 L366.47,584.38 L366.97,585.25 L367.00,586.12 L366.57,587.00 L365.82,587.88 L365.02,588.75 L364.48,589.62 L364.37,590.50 L364.75,591.38 L365.47,592.25 L366.27,593.12 L366.87,594.00 L367.04,594.88 L366.73,595.75 L366.05,596.62 L365.24,597.50 M370.70,583.50 L371.47,584.38 L371.97,585.25 L372.00,586.12 L371.57,587.00 L370.82,587.88 L370.02,588.75 L369.48,589.62 L369.37,590.50 L369.75,591.38 L370.47,592.25 L371.27,593.12 L371.87,594.00 L372.04,594.88 L371.73,595.75 L371.05,596.62 L370.24,597.50 M376.70,567.00 L377.47,567.88 L377.97,568.75 L378.00,569.62 L377.57,570.50 L376.82,571.38 L376.02,572.25 L375.48,573.12 L375.37,574.00 L375.75,574.88 L376.47,575.75 L377.27,576.62 L377.87,577.50 L378.04,578.38 L377.73,579.25 L377.05,580.12 L376.24,581.00 M381.70,567.00 L382.47,567.88 L382.97,568.75 L383.00,569.62 L382.57,570.50 L381.82,571.38 L381.02,572.25 L380.48,573.12 L380.37,574.00 L380.75,574.88 L381.47,575.75 L382.27,576.62 L382.87,577.50 L383.04,578.38 L382.73,579.25 L382.05,580.12 L381.24,581.00 M376.70,583.50 L377.47,584.38 L377.97,585.25 L378.00,586.12 L377.57,587.00 L376.82,587.88 L376.02,588.75 L375.48,589.62 L375.37,590.50 L375.75,591.38 L376.47,592.25 L377.27,593.12 L377.87,594.00 L378.04,594.88 L377.73,595.75 L377.05,596.62 L376.24,597.50 M381.70,583.50 L382.47,584.38 L382.97,585.25 L383.00,586.12 L382.57,587.00 L381.82,587.88 L381.02,588.75 L380.48,589.62 L380.37,590.50 L380.75,591.38 L381.47,592.25 L382.27,593.12 L382.87,594.00 L383.04,594.88 L382.73,595.75 L382.05,596.62 L381.24,597.50 M387.70,567.00 L388.47,567.88 L388.97,568.75 L389.00,569.62 L388.57,570.50 L387.82,571.38 L387.02,572.25 L386.48,573.12 L386.37,574.00 L386.75,574.88 L387.47,575.75 L388.27,576.62 L388.87,577.50 L389.04,578.38 L388.73,579.25 L388.05,580.12 L387.24,581.00 M392.70,567.00 L393.47,567.88 L393.97,568.75 L394.00,569.62 L393.57,570.50 L392.82,571.38 L392.02,572.25 L391.48,573.12 L391.37,574.00 L391.75,574.88 L392.47,575.75 L393.27,576.62 L393.87,577.50 L394.04,578.38 L393.73,579.25 L393.05,580.12 L392.24,581.00 M387.70,583.50 L388.47,584.38 L388.97,585.25 L389.00,586.12 L388.57,587.00 L387.82,587.88 L387.02,588.75 L386.48,589.62 L386.37,590.50 L386.75,591.38 L387.47,592.25 L388.27,593.12 L388.87,594.00 L389.04,594.88 L388.73,595.75 L388.05,596.62 L387.24,597.50 M392.70,583.50 L393.47,584.38 L393.97,585.25 L394.00,586.12 L393.57,587.00 L392.82,587.88 L392.02,588.75 L391.48,589.62 L391.37,590.50 L391.75,591.38 L392.47,592.25 L393.27,593.12 L393.87,594.00 L394.04,594.88 L393.73,595.75 L393.05,596.62 L392.24,597.50 M398.70,567.00 L399.47,567.88 L399.97,568.75 L400.00,569.62 L399.57,570.50 L398.82,571.38 L398.02,572.25 L397.48,573.12 L397.37,574.00 L397.75,574.88 L398.47,575.75 L399.27,576.62 L399.87,577.50 L400.04,578.38 L399.73,579.25 L399.05,580.12 L398.24,581.00 M403.70,567.00 L404.47,567.88 L404.97,568.75 L405.00,569.62 L404.57,570.50 L403.82,571.38 L403.02,572.25 L402.48,573.12 L402.37,574.00 L402.75,574.88 L403.47,575.75 L404.27,576.62 L404.87,577.50 L405.04,578.38 L404.73,579.25 L404.05,580.12 L403.24,581.00 M398.70,583.50 L399.47,584.38 L399.97,585.25 L400.00,586.12 L399.57,587.00 L398.82,587.88 L398.02,588.75 L397.48,589.62 L397.37,590.50 L397.75,591.38 L398.47,592.25 L399.27,593.12 L399.87,594.00 L400.04,594.88 L399.73,595.75 L399.05,596.62 L398.24,597.50 M403.70,583.50 L404.47,584.38 L404.97,585.25 L405.00,586.12 L404.57,587.00 L403.82,587.88 L403.02,588.75 L402.48,589.62 L402.37,590.50 L402.75,591.38 L403.47,592.25 L404.27,593.12 L404.87,594.00 L405.04,594.88 L404.73,595.75 L404.05,596.62 L403.24,597.50 M409.70,567.00 L410.47,567.88 L410.97,568.75 L411.00,569.62 L410.57,570.50 L409.82,571.38 L409.02,572.25 L408.48,573.12 L408.37,574.00 L408.75,574.88 L409.47,575.75 L410.27,576.62 L410.87,577.50 L411.04,578.38 L410.73,579.25 L410.05,580.12 L409.24,581.00 M414.70,567.00 L415.47,567.88 L415.97,568.75 L416.00,569.62 L415.57,570.50 L414.82,571.38 L414.02,572.25 L413.48,573.12 L413.37,574.00 L413.75,574.88 L414.47,575.75 L415.27,576.62 L415.87,577.50 L416.04,578.38 L415.73,579.25 L415.05,580.12 L414.24,581.00 M409.70,583.50 L410.47,584.38 L410.97,585.25 L411.00,586.12 L410.57,587.00 L409.82,587.88 L409.02,588.75 L408.48,589.62 L408.37,590.50 L408.75,591.38 L409.47,592.25 L410.27,593.12 L410.87,594.00 L411.04,594.88 L410.73,595.75 L410.05,596.62 L409.24,597.50 M414.70,583.50 L415.47,584.38 L415.97,585.25 L416.00,586.12 L415.57,587.00 L414.82,587.88 L414.02,588.75 L413.48,589.62 L413.37,590.50 L413.75,591.38 L414.47,592.25 L415.27,593.12 L415.87,594.00 L416.04,594.88 L415.73,595.75 L415.05,596.62 L414.24,597.50 M420.70,567.00 L421.47,567.88 L421.97,568.75 L422.00,569.62 L421.57,570.50 L420.82,571.38 L420.02,572.25 L419.48,573.12 L419.37,574.00 L419.75,574.88 L420.47,575.75 L421.27,576.62 L421.87,577.50 L422.04,578.38 L421.73,579.25 L421.05,580.12 L420.24,581.00 M425.70,567.00 L426.47,567.88 L426.97,568.75 L427.00,569.62 L426.57,570.50 L425.82,571.38 L425.02,572.25 L424.48,573.12 L424.37,574.00 L424.75,574.88 L425.47,575.75 L426.27,576.62 L426.87,577.50 L427.04,578.38 L426.73,579.25 L426.05,580.12 L425.24,581.00 M420.70,583.50 L421.47,584.38 L421.97,585.25 L422.00,586.12 L421.57,587.00 L420.82,587.88 L420.02,588.75 L419.48,589.62 L419.37,590.50 L419.75,591.38 L420.47,592.25 L421.27,593.12 L421.87,594.00 L422.04,594.88 L421.73,595.75 L421.05,596.62 L420.24,597.50 M425.70,583.50 L426.47,584.38 L426.97,585.25 L427.00,586.12 L426.57,587.00 L425.82,587.88 L425.02,588.75 L424.48,589.62 L424.37,590.50 L424.75,591.38 L425.47,592.25 L426.27,593.12 L426.87,594.00 L427.04,594.88 L426.73,595.75 L426.05,596.62 L425.24,597.50 M431.70,567.00 L432.47,567.88 L432.97,568.75 L433.00,569.62 L432.57,570.50 L431.82,571.38 L431.02,572.25 L430.48,573.12 L430.37,574.00 L430.75,574.88 L431.47,575.75 L432.27,576.62 L432.87,577.50 L433.04,578.38 L432.73,579.25 L432.05,580.12 L431.24,581.00 M436.70,567.00 L437.47,567.88 L437.97,568.75 L438.00,569.62 L437.57,570.50 L436.82,571.38 L436.02,572.25 L435.48,573.12 L435.37,574.00 L435.75,574.88 L436.47,575.75 L437.27,576.62 L437.87,577.50 L438.04,578.38 L437.73,579.25 L437.05,580.12 L436.24,581.00 M431.70,583.50 L432.47,584.38 L432.97,585.25 L433.00,586.12 L432.57,587.00 L431.82,587.88 L431.02,588.75 L430.48,589.62 L430.37,590.50 L430.75,591.38 L431.47,592.25 L432.27,593.12 L432.87,594.00 L433.04,594.88 L432.73,595.75 L432.05,596.62 L431.24,597.50 M436.70,583.50 L437.47,584.38 L437.97,585.25 L438.00,586.12 L437.57,587.00 L436.82,587.88 L436.02,588.75 L435.48,589.62 L435.37,590.50 L435.75,591.38 L436.47,592.25 L437.27,593.12 L437.87,594.00 L438.04,594.88 L437.73,595.75 L437.05,596.62 L436.24,597.50 M442.70,567.00 L443.47,567.88 L443.97,568.75 L444.00,569.62 L443.57,570.50 L442.82,571.38 L442.02,572.25 L441.48,573.12 L441.37,574.00 L441.75,574.88 L442.47,575.75 L443.27,576.62 L443.87,577.50 L444.04,578.38 L443.73,579.25 L443.05,580.12 L442.24,581.00 M447.70,567.00 L448.47,567.88 L448.97,568.75 L449.00,569.62 L448.57,570.50 L447.82,571.38 L447.02,572.25 L446.48,573.12 L446.37,574.00 L446.75,574.88 L447.47,575.75 L448.27,576.62 L448.87,577.50 L449.04,578.38 L448.73,579.25 L448.05,580.12 L447.24,581.00 M442.70,583.50 L443.47,584.38 L443.97,585.25 L444.00,586.12 L443.57,587.00 L442.82,587.88 L442.02,588.75 L441.48,589.62 L441.37,590.50 L441.75,591.38 L442.47,592.25 L443.27,593.12 L443.87,594.00 L444.04,594.88 L443.73,595.75 L443.05,596.62 L442.24,597.50 M447.70,583.50 L448.47,584.38 L448.97,585.25 L449.00,586.12 L448.57,587.00 L447.82,587.88 L447.02,588.75 L446.48,589.62 L446.37,590.50 L446.75,591.38 L447.47,592.25 L448.27,593.12 L448.87,594.00 L449.04,594.88 L448.73,595.75 L448.05,596.62 L447.24,597.50 M453.70,567.00 L454.47,567.88 L454.97,568.75 L455.00,569.62 L454.57,570.50 L453.82,571.38 L453.02,572.25 L452.48,573.12 L452.37,574.00 L452.75,574.88 L453.47,575.75 L454.27,576.62 L454.87,577.50 L455.04,578.38 L454.73,579.25 L454.05,580.12 L453.24,581.00 M458.70,567.00 L459.47,567.88 L459.97,568.75 L460.00,569.62 L459.57,570.50 L458.82,571.38 L458.02,572.25 L457.48,573.12 L457.37,574.00 L457.75,574.88 L458.47,575.75 L459.27,576.62 L459.87,577.50 L460.04,578.38 L459.73,579.25 L459.05,580.12 L458.24,581.00 M453.70,583.50 L454.47,584.38 L454.97,585.25 L455.00,586.12 L454.57,587.00 L453.82,587.88 L453.02,588.75 L452.48,589.62 L452.37,590.50 L452.75,591.38 L453.47,592.25 L454.27,593.12 L454.87,594.00 L455.04,594.88 L454.73,595.75 L454.05,596.62 L453.24,597.50 M458.70,583.50 L459.47,584.38 L459.97,585.25 L460.00,586.12 L459.57,587.00 L458.82,587.88 L458.02,588.75 L457.48,589.62 L457.37,590.50 L457.75,591.38 L458.47,592.25 L459.27,593.12 L459.87,594.00 L460.04,594.88 L459.73,595.75 L459.05,596.62 L458.24,597.50 M464.70,567.00 L465.47,567.88 L465.97,568.75 L466.00,569.62 L465.57,570.50 L464.82,571.38 L464.02,572.25 L463.48,573.12 L463.37,574.00 L463.75,574.88 L464.47,575.75 L465.27,576.62 L465.87,577.50 L466.04,578.38 L465.73,579.25 L465.05,580.12 L464.24,581.00 M469.70,567.00 L470.47,567.88 L470.97,568.75 L471.00,569.62 L470.57,570.50 L469.82,571.38 L469.02,572.25 L468.48,573.12 L468.37,574.00 L468.75,574.88 L469.47,575.75 L470.27,576.62 L470.87,577.50 L471.04,578.38 L470.73,579.25 L470.05,580.12 L469.24,581.00 M464.70,583.50 L465.47,584.38 L465.97,585.25 L466.00,586.12 L465.57,587.00 L464.82,587.88 L464.02,588.75 L463.48,589.62 L463.37,590.50 L463.75,591.38 L464.47,592.25 L465.27,593.12 L465.87,594.00 L466.04,594.88 L465.73,595.75 L465.05,596.62 L464.24,597.50 M469.70,583.50 L470.47,584.38 L470.97,585.25 L471.00,586.12 L470.57,587.00 L469.82,587.88 L469.02,588.75 L468.48,589.62 L468.37,590.50 L468.75,591.38 L469.47,592.25 L470.27,593.12 L470.87,594.00 L471.04,594.88 L470.73,595.75 L470.05,596.62 L469.24,597.50 M475.70,567.00 L476.47,567.88 L476.97,568.75 L477.00,569.62 L476.57,570.50 L475.82,571.38 L475.02,572.25 L474.48,573.12 L474.37,574.00 L474.75,574.88 L475.47,575.75 L476.27,576.62 L476.87,577.50 L477.04,578.38 L476.73,579.25 L476.05,580.12 L475.24,581.00 M480.70,567.00 L481.47,567.88 L481.97,568.75 L482.00,569.62 L481.57,570.50 L480.82,571.38 L480.02,572.25 L479.48,573.12 L479.37,574.00 L479.75,574.88 L480.47,575.75 L481.27,576.62 L481.87,577.50 L482.04,578.38 L481.73,579.25 L481.05,580.12 L480.24,581.00 M475.70,583.50 L476.47,584.38 L476.97,585.25 L477.00,586.12 L476.57,587.00 L475.82,587.88 L475.02,588.75 L474.48,589.62 L474.37,590.50 L474.75,591.38 L475.47,592.25 L476.27,593.12 L476.87,594.00 L477.04,594.88 L476.73,595.75 L476.05,596.62 L475.24,597.50 M480.70,583.50 L481.47,584.38 L481.97,585.25 L482.00,586.12 L481.57,587.00 L480.82,587.88 L480.02,588.75 L479.48,589.62 L479.37,590.50 L479.75,591.38 L480.47,592.25 L481.27,593.12 L481.87,594.00 L482.04,594.88 L481.73,595.75 L481.05,596.62 L480.24,597.50 M486.70,567.00 L487.47,567.88 L487.97,568.75 L488.00,569.62 L487.57,570.50 L486.82,571.38 L486.02,572.25 L485.48,573.12 L485.37,574.00 L485.75,574.88 L486.47,575.75 L487.27,576.62 L487.87,577.50 L488.04,578.38 L487.73,579.25 L487.05,580.12 L486.24,581.00 M491.70,567.00 L492.47,567.88 L492.97,568.75 L493.00,569.62 L492.57,570.50 L491.82,571.38 L491.02,572.25 L490.48,573.12 L490.37,574.00 L490.75,574.88 L491.47,575.75 L492.27,576.62 L492.87,577.50 L493.04,578.38 L492.73,579.25 L492.05,580.12 L491.24,581.00 M486.70,583.50 L487.47,584.38 L487.97,585.25 L488.00,586.12 L487.57,587.00 L486.82,587.88 L486.02,588.75 L485.48,589.62 L485.37,590.50 L485.75,591.38 L486.47,592.25 L487.27,593.12 L487.87,594.00 L488.04,594.88 L487.73,595.75 L487.05,596.62 L486.24,597.50 M491.70,583.50 L492.47,584.38 L492.97,585.25 L493.00,586.12 L492.57,587.00 L491.82,587.88 L491.02,588.75 L490.48,589.62 L490.37,590.50 L490.75,591.38 L491.47,592.25 L492.27,593.12 L492.87,594.00 L493.04,594.88 L492.73,595.75 L492.05,596.62 L491.24,597.50 M497.70,567.00 L498.47,567.88 L498.97,568.75 L499.00,569.62 L498.57,570.50 L497.82,571.38 L497.02,572.25 L496.48,573.12 L496.37,574.00 L496.75,574.88 L497.47,575.75 L498.27,576.62 L498.87,577.50 L499.04,578.38 L498.73,579.25 L498.05,580.12 L497.24,581.00 M502.70,567.00 L503.47,567.88 L503.97,568.75 L504.00,569.62 L503.57,570.50 L502.82,571.38 L502.02,572.25 L501.48,573.12 L501.37,574.00 L501.75,574.88 L502.47,575.75 L503.27,576.62 L503.87,577.50 L504.04,578.38 L503.73,579.25 L503.05,580.12 L502.24,581.00 M497.70,583.50 L498.47,584.38 L498.97,585.25 L499.00,586.12 L498.57,587.00 L497.82,587.88 L497.02,588.75 L496.48,589.62 L496.37,590.50 L496.75,591.38 L497.47,592.25 L498.27,593.12 L498.87,594.00 L499.04,594.88 L498.73,595.75 L498.05,596.62 L497.24,597.50 M502.70,583.50 L503.47,584.38 L503.97,585.25 L504.00,586.12 L503.57,587.00 L502.82,587.88 L502.02,588.75 L501.48,589.62 L501.37,590.50 L501.75,591.38 L502.47,592.25 L503.27,593.12 L503.87,594.00 L504.04,594.88 L503.73,595.75 L503.05,596.62 L502.24,597.50 M508.70,567.00 L509.47,567.88 L509.97,568.75 L510.00,569.62 L509.57,570.50 L508.82,571.38 L508.02,572.25 L507.48,573.12 L507.37,574.00 L507.75,574.88 L508.47,575.75 L509.27,576.62 L509.87,577.50 L510.04,578.38 L509.73,579.25 L509.05,580.12 L508.24,581.00 M513.70,567.00 L514.47,567.88 L514.97,568.75 L515.00,569.62 L514.57,570.50 L513.82,571.38 L513.03,572.25 L512.48,573.12 L512.37,574.00 L512.75,574.88 L513.47,575.75 L514.27,576.62 L514.87,577.50 L515.04,578.38 L514.73,579.25 L514.05,580.12 L513.24,581.00 M508.70,583.50 L509.47,584.38 L509.97,585.25 L510.00,586.12 L509.57,587.00 L508.82,587.88 L508.02,588.75 L507.48,589.62 L507.37,590.50 L507.75,591.38 L508.47,592.25 L509.27,593.12 L509.87,594.00 L510.04,594.88 L509.73,595.75 L509.05,596.62 L508.24,597.50 M513.70,583.50 L514.47,584.38 L514.97,585.25 L515.00,586.12 L514.57,587.00 L513.82,587.88 L513.03,588.75 L512.48,589.62 L512.37,590.50 L512.75,591.38 L513.47,592.25 L514.27,593.12 L514.87,594.00 L515.04,594.88 L514.73,595.75 L514.05,596.62 L513.24,597.50 M519.70,567.00 L520.47,567.88 L520.97,568.75 L521.00,569.62 L520.57,570.50 L519.82,571.38 L519.03,572.25 L518.48,573.12 L518.37,574.00 L518.75,574.88 L519.47,575.75 L520.27,576.62 L520.87,577.50 L521.04,578.38 L520.73,579.25 L520.05,580.12 L519.24,581.00 M524.70,567.00 L525.47,567.88 L525.97,568.75 L526.00,569.62 L525.57,570.50 L524.82,571.38 L524.03,572.25 L523.48,573.12 L523.37,574.00 L523.75,574.88 L524.47,575.75 L525.27,576.62 L525.87,577.50 L526.04,578.38 L525.73,579.25 L525.05,580.12 L524.24,581.00 M519.70,583.50 L520.47,584.38 L520.97,585.25 L521.00,586.12 L520.57,587.00 L519.82,587.88 L519.03,588.75 L518.48,589.62 L518.37,590.50 L518.75,591.38 L519.47,592.25 L520.27,593.12 L520.87,594.00 L521.04,594.88 L520.73,595.75 L520.05,596.62 L519.24,597.50 M524.70,583.50 L525.47,584.38 L525.97,585.25 L526.00,586.12 L525.57,587.00 L524.82,587.88 L524.03,588.75 L523.48,589.62 L523.37,590.50 L523.75,591.38 L524.47,592.25 L525.27,593.12 L525.87,594.00 L526.04,594.88 L525.73,595.75 L525.05,596.62 L524.24,597.50 M530.70,567.00 L531.47,567.88 L531.97,568.75 L532.00,569.62 L531.57,570.50 L530.82,571.38 L530.03,572.25 L529.48,573.12 L529.37,574.00 L529.75,574.88 L530.47,575.75 L531.27,576.62 L531.87,577.50 L532.04,578.38 L531.73,579.25 L531.05,580.12 L530.24,581.00 M535.70,567.00 L536.47,567.88 L536.97,568.75 L537.00,569.62 L536.57,570.50 L535.82,571.38 L535.03,572.25 L534.48,573.12 L534.37,574.00 L534.75,574.88 L535.47,575.75 L536.27,576.62 L536.87,577.50 L537.04,578.38 L536.73,579.25 L536.05,580.12 L535.24,581.00 M530.70,583.50 L531.47,584.38 L531.97,585.25 L532.00,586.12 L531.57,587.00 L530.82,587.88 L530.03,588.75 L529.48,589.62 L529.37,590.50 L529.75,591.38 L530.47,592.25 L531.27,593.12 L531.87,594.00 L532.04,594.88 L531.73,595.75 L531.05,596.62 L530.24,597.50 M535.70,583.50 L536.47,584.38 L536.97,585.25 L537.00,586.12 L536.57,587.00 L535.82,587.88 L535.03,588.75 L534.48,589.62 L534.37,590.50 L534.75,591.38 L535.47,592.25 L536.27,593.12 L536.87,594.00 L537.04,594.88 L536.73,595.75 L536.05,596.62 L535.24,597.50 M541.70,567.00 L542.47,567.88 L542.97,568.75 L543.00,569.62 L542.57,570.50 L541.82,571.38 L541.03,572.25 L540.48,573.12 L540.37,574.00 L540.75,574.88 L541.47,575.75 L542.27,576.62 L542.87,577.50 L543.04,578.38 L542.73,579.25 L542.05,580.12 L541.24,581.00 M546.70,567.00 L547.47,567.88 L547.97,568.75 L548.00,569.62 L547.57,570.50 L546.82,571.38 L546.03,572.25 L545.48,573.12 L545.37,574.00 L545.75,574.88 L546.47,575.75 L547.27,576.62 L547.87,577.50 L548.04,578.38 L547.73,579.25 L547.05,580.12 L546.24,581.00 M541.70,583.50 L542.47,584.38 L542.97,585.25 L543.00,586.12 L542.57,587.00 L541.82,587.88 L541.03,588.75 L540.48,589.62 L540.37,590.50 L540.75,591.38 L541.47,592.25 L542.27,593.12 L542.87,594.00 L543.04,594.88 L542.73,595.75 L542.05,596.62 L541.24,597.50 M546.70,583.50 L547.47,584.38 L547.97,585.25 L548.00,586.12 L547.57,587.00 L546.82,587.88 L546.03,588.75 L545.48,589.62 L545.37,590.50 L545.75,591.38 L546.47,592.25 L547.27,593.12 L547.87,594.00 L548.04,594.88 L547.73,595.75 L547.05,596.62 L546.24,597.50 M552.70,567.00 L553.47,567.88 L553.97,568.75 L554.00,569.62 L553.57,570.50 L552.82,571.38 L552.03,572.25 L551.48,573.12 L551.37,574.00 L551.75,574.88 L552.47,575.75 L553.27,576.62 L553.87,577.50 L554.04,578.38 L553.73,579.25 L553.05,580.12 L552.24,581.00 M557.70,567.00 L558.47,567.88 L558.97,568.75 L559.00,569.62 L558.57,570.50 L557.82,571.38 L557.03,572.25 L556.48,573.12 L556.37,574.00 L556.75,574.88 L557.47,575.75 L558.27,576.62 L558.87,577.50 L559.04,578.38 L558.73,579.25 L558.05,580.12 L557.24,581.00 M552.70,583.50 L553.47,584.38 L553.97,585.25 L554.00,586.12 L553.57,587.00 L552.82,587.88 L552.03,588.75 L551.48,589.62 L551.37,590.50 L551.75,591.38 L552.47,592.25 L553.27,593.12 L553.87,594.00 L554.04,594.88 L553.73,595.75 L553.05,596.62 L552.24,597.50 M557.70,583.50 L558.47,584.38 L558.97,585.25 L559.00,586.12 L558.57,587.00 L557.82,587.88 L557.03,588.75 L556.48,589.62 L556.37,590.50 L556.75,591.38 L557.47,592.25 L558.27,593.12 L558.87,594.00 L559.04,594.88 L558.73,595.75 L558.05,596.62 L557.24,597.50 M563.70,567.00 L564.47,567.88 L564.97,568.75 L565.00,569.62 L564.57,570.50 L563.82,571.38 L563.03,572.25 L562.48,573.12 L562.37,574.00 L562.75,574.88 L563.47,575.75 L564.27,576.62 L564.87,577.50 L565.04,578.38 L564.73,579.25 L564.05,580.12 L563.24,581.00 M568.70,567.00 L569.47,567.88 L569.97,568.75 L570.00,569.62 L569.57,570.50 L568.82,571.38 L568.03,572.25 L567.48,573.12 L567.37,574.00 L567.75,574.88 L568.47,575.75 L569.27,576.62 L569.87,577.50 L570.04,578.38 L569.73,579.25 L569.05,580.12 L568.24,581.00 M563.70,583.50 L564.47,584.38 L564.97,585.25 L565.00,586.12 L564.57,587.00 L563.82,587.88 L563.03,588.75 L562.48,589.62 L562.37,590.50 L562.75,591.38 L563.47,592.25 L564.27,593.12 L564.87,594.00 L565.04,594.88 L564.73,595.75 L564.05,596.62 L563.24,597.50 M568.70,583.50 L569.47,584.38 L569.97,585.25 L570.00,586.12 L569.57,587.00 L568.82,587.88 L568.03,588.75 L567.48,589.62 L567.37,590.50 L567.75,591.38 L568.47,592.25 L569.27,593.12 L569.87,594.00 L570.04,594.88 L569.73,595.75 L569.05,596.62 L568.24,597.50 M574.70,567.00 L575.47,567.88 L575.97,568.75 L576.00,569.62 L575.57,570.50 L574.82,571.38 L574.03,572.25 L573.48,573.12 L573.37,574.00 L573.75,574.88 L574.47,575.75 L575.27,576.62 L575.87,577.50 L576.04,578.38 L575.73,579.25 L575.05,580.12 L574.24,581.00 M579.70,567.00 L580.47,567.88 L580.97,568.75 L581.00,569.62 L580.57,570.50 L579.82,571.38 L579.03,572.25 L578.48,573.12 L578.37,574.00 L578.75,574.88 L579.47,575.75 L580.27,576.62 L580.87,577.50 L581.04,578.38 L580.73,579.25 L580.05,580.12 L579.24,581.00 M574.70,583.50 L575.47,584.38 L575.97,585.25 L576.00,586.12 L575.57,587.00 L574.82,587.88 L574.03,588.75 L573.48,589.62 L573.37,590.50 L573.75,591.38 L574.47,592.25 L575.27,593.12 L575.87,594.00 L576.04,594.88 L575.73,595.75 L575.05,596.62 L574.24,597.50 M579.70,583.50 L580.47,584.38 L580.97,585.25 L581.00,586.12 L580.57,587.00 L579.82,587.88 L579.03,588.75 L578.48,589.62 L578.37,590.50 L578.75,591.38 L579.47,592.25 L580.27,593.12 L580.87,594.00 L581.04,594.88 L580.73,595.75 L580.05,596.62 L579.24,597.50 M585.70,567.00 L586.47,567.88 L586.97,568.75 L587.00,569.62 L586.57,570.50 L585.82,571.38 L585.03,572.25 L584.48,573.12 L584.37,574.00 L584.75,574.88 L585.47,575.75 L586.27,576.62 L586.87,577.50 L587.04,578.38 L586.73,579.25 L586.05,580.12 L585.24,581.00 M590.70,567.00 L591.47,567.88 L591.97,568.75 L592.00,569.62 L591.57,570.50 L590.82,571.38 L590.03,572.25 L589.48,573.12 L589.37,574.00 L589.75,574.88 L590.47,575.75 L591.27,576.62 L591.87,577.50 L592.04,578.38 L591.73,579.25 L591.05,580.12 L590.24,581.00 M585.70,583.50 L586.47,584.38 L586.97,585.25 L587.00,586.12 L586.57,587.00 L585.82,587.88 L585.03,588.75 L584.48,589.62 L584.37,590.50 L584.75,591.38 L585.47,592.25 L586.27,593.12 L586.87,594.00 L587.04,594.88 L586.73,595.75 L586.05,596.62 L585.24,597.50 M590.70,583.50 L591.47,584.38 L591.97,585.25 L592.00,586.12 L591.57,587.00 L590.82,587.88 L590.03,588.75 L589.48,589.62 L589.37,590.50 L589.75,591.38 L590.47,592.25 L591.27,593.12 L591.87,594.00 L592.04,594.88 L591.73,595.75 L591.05,596.62 L590.24,597.50 M596.70,567.00 L597.47,567.88 L597.97,568.75 L598.00,569.62 L597.57,570.50 L596.82,571.38 L596.03,572.25 L595.48,573.12 L595.37,574.00 L595.75,574.88 L596.47,575.75 L597.27,576.62 L597.87,577.50 L598.04,578.38 L597.73,579.25 L597.05,580.12 L596.24,581.00 M601.70,567.00 L602.47,567.88 L602.97,568.75 L603.00,569.62 L602.57,570.50 L601.82,571.38 L601.03,572.25 L600.48,573.12 L600.37,574.00 L600.75,574.88 L601.47,575.75 L602.27,576.62 L602.87,577.50 L603.04,578.38 L602.73,579.25 L602.05,580.12 L601.24,581.00 M596.70,583.50 L597.47,584.38 L597.97,585.25 L598.00,586.12 L597.57,587.00 L596.82,587.88 L596.03,588.75 L595.48,589.62 L595.37,590.50 L595.75,591.38 L596.47,592.25 L597.27,593.12 L597.87,594.00 L598.04,594.88 L597.73,595.75 L597.05,596.62 L596.24,597.50 M601.70,583.50 L602.47,584.38 L602.97,585.25 L603.00,586.12 L602.57,587.00 L601.82,587.88 L601.03,588.75 L600.48,589.62 L600.37,590.50 L600.75,591.38 L601.47,592.25 L602.27,593.12 L602.87,594.00 L603.04,594.88 L602.73,595.75 L602.05,596.62 L601.24,597.50 M607.70,567.00 L608.47,567.88 L608.97,568.75 L609.00,569.62 L608.57,570.50 L607.82,571.38 L607.03,572.25 L606.48,573.12 L606.37,574.00 L606.75,574.88 L607.47,575.75 L608.27,576.62 L608.87,577.50 L609.04,578.38 L608.73,579.25 L608.05,580.12 L607.24,581.00 M612.70,567.00 L613.47,567.88 L613.97,568.75 L614.00,569.62 L613.57,570.50 L612.82,571.38 L612.03,572.25 L611.48,573.12 L611.37,574.00 L611.75,574.88 L612.47,575.75 L613.27,576.62 L613.87,577.50 L614.04,578.38 L613.73,579.25 L613.05,580.12 L612.24,581.00 M607.70,583.50 L608.47,584.38 L608.97,585.25 L609.00,586.12 L608.57,587.00 L607.82,587.88 L607.03,588.75 L606.48,589.62 L606.37,590.50 L606.75,591.38 L607.47,592.25 L608.27,593.12 L608.87,594.00 L609.04,594.88 L608.73,595.75 L608.05,596.62 L607.24,597.50 M612.70,583.50 L613.47,584.38 L613.97,585.25 L614.00,586.12 L613.57,587.00 L612.82,587.88 L612.03,588.75 L611.48,589.62 L611.37,590.50 L611.75,591.38 L612.47,592.25 L613.27,593.12 L613.87,594.00 L614.04,594.88 L613.73,595.75 L613.05,596.62 L612.24,597.50 M618.70,567.00 L619.47,567.88 L619.97,568.75 L620.00,569.62 L619.57,570.50 L618.82,571.38 L618.03,572.25 L617.48,573.12 L617.37,574.00 L617.75,574.88 L618.47,575.75 L619.27,576.62 L619.87,577.50 L620.04,578.38 L619.73,579.25 L619.05,580.12 L618.24,581.00 M623.70,567.00 L624.47,567.88 L624.97,568.75 L625.00,569.62 L624.57,570.50 L623.82,571.38 L623.03,572.25 L622.48,573.12 L622.37,574.00 L622.75,574.88 L623.47,575.75 L624.27,576.62 L624.87,577.50 L625.04,578.38 L624.73,579.25 L624.05,580.12 L623.24,581.00 M618.70,583.50 L619.47,584.38 L619.97,585.25 L620.00,586.12 L619.57,587.00 L618.82,587.88 L618.03,588.75 L617.48,589.62 L617.37,590.50 L617.75,591.38 L618.47,592.25 L619.27,593.12 L619.87,594.00 L620.04,594.88 L619.73,595.75 L619.05,596.62 L618.24,597.50 M623.70,583.50 L624.47,584.38 L624.97,585.25 L625.00,586.12 L624.57,587.00 L623.82,587.88 L623.03,588.75 L622.48,589.62 L622.37,590.50 L622.75,591.38 L623.47,592.25 L624.27,593.12 L624.87,594.00 L625.04,594.88 L624.73,595.75 L624.05,596.62 L623.24,597.50 M629.70,567.00 L630.47,567.88 L630.97,568.75 L631.00,569.62 L630.57,570.50 L629.82,571.38 L629.03,572.25 L628.48,573.12 L628.37,574.00 L628.75,574.88 L629.47,575.75 L630.27,576.62 L630.87,577.50 L631.04,578.38 L630.73,579.25 L630.05,580.12 L629.24,581.00 M634.70,567.00 L635.47,567.88 L635.97,568.75 L636.00,569.62 L635.57,570.50 L634.82,571.38 L634.03,572.25 L633.48,573.12 L633.37,574.00 L633.75,574.88 L634.47,575.75 L635.27,576.62 L635.87,577.50 L636.04,578.38 L635.73,579.25 L635.05,580.12 L634.24,581.00 M629.70,583.50 L630.47,584.38 L630.97,585.25 L631.00,586.12 L630.57,587.00 L629.82,587.88 L629.03,588.75 L628.48,589.62 L628.37,590.50 L628.75,591.38 L629.47,592.25 L630.27,593.12 L630.87,594.00 L631.04,594.88 L630.73,595.75 L630.05,596.62 L629.24,597.50 M634.70,583.50 L635.47,584.38 L635.97,585.25 L636.00,586.12 L635.57,587.00 L634.82,587.88 L634.03,588.75 L633.48,589.62 L633.37,590.50 L633.75,591.38 L634.47,592.25 L635.27,593.12 L635.87,594.00 L636.04,594.88 L635.73,595.75 L635.05,596.62 L634.24,597.50 M640.70,567.00 L641.47,567.88 L641.97,568.75 L642.00,569.62 L641.57,570.50 L640.82,571.38 L640.03,572.25 L639.48,573.12 L639.37,574.00 L639.75,574.88 L640.47,575.75 L641.27,576.62 L641.87,577.50 L642.04,578.38 L641.73,579.25 L641.05,580.12 L640.24,581.00 M645.70,567.00 L646.47,567.88 L646.97,568.75 L647.00,569.62 L646.57,570.50 L645.82,571.38 L645.03,572.25 L644.48,573.12 L644.37,574.00 L644.75,574.88 L645.47,575.75 L646.27,576.62 L646.87,577.50 L647.04,578.38 L646.73,579.25 L646.05,580.12 L645.24,581.00 M640.70,583.50 L641.47,584.38 L641.97,585.25 L642.00,586.12 L641.57,587.00 L640.82,587.88 L640.03,588.75 L639.48,589.62 L639.37,590.50 L639.75,591.38 L640.47,592.25 L641.27,593.12 L641.87,594.00 L642.04,594.88 L641.73,595.75 L641.05,596.62 L640.24,597.50 M645.70,583.50 L646.47,584.38 L646.97,585.25 L647.00,586.12 L646.57,587.00 L645.82,587.88 L645.03,588.75 L644.48,589.62 L644.37,590.50 L644.75,591.38 L645.47,592.25 L646.27,593.12 L646.87,594.00 L647.04,594.88 L646.73,595.75 L646.05,596.62 L645.24,597.50 M651.70,567.00 L652.47,567.88 L652.97,568.75 L653.00,569.62 L652.57,570.50 L651.82,571.38 L651.03,572.25 L650.48,573.12 L650.37,574.00 L650.75,574.88 L651.47,575.75 L652.27,576.62 L652.87,577.50 L653.04,578.38 L652.73,579.25 L652.05,580.12 L651.24,581.00 M656.70,567.00 L657.47,567.88 L657.97,568.75 L658.00,569.62 L657.57,570.50 L656.82,571.38 L656.03,572.25 L655.48,573.12 L655.37,574.00 L655.75,574.88 L656.47,575.75 L657.27,576.62 L657.87,577.50 L658.04,578.38 L657.73,579.25 L657.05,580.12 L656.24,581.00 M651.70,583.50 L652.47,584.38 L652.97,585.25 L653.00,586.12 L652.57,587.00 L651.82,587.88 L651.03,588.75 L650.48,589.62 L650.37,590.50 L650.75,591.38 L651.47,592.25 L652.27,593.12 L652.87,594.00 L653.04,594.88 L652.73,595.75 L652.05,596.62 L651.24,597.50 M656.70,583.50 L657.47,584.38 L657.97,585.25 L658.00,586.12 L657.57,587.00 L656.82,587.88 L656.03,588.75 L655.48,589.62 L655.37,590.50 L655.75,591.38 L656.47,592.25 L657.27,593.12 L657.87,594.00 L658.04,594.88 L657.73,595.75 L657.05,596.62 L656.24,597.50 M662.70,567.00 L663.47,567.88 L663.97,568.75 L664.00,569.62 L663.57,570.50 L662.82,571.38 L662.03,572.25 L661.48,573.12 L661.37,574.00 L661.75,574.88 L662.47,575.75 L663.27,576.62 L663.87,577.50 L664.04,578.38 L663.73,579.25 L663.05,580.12 L662.24,581.00 M667.70,567.00 L668.47,567.88 L668.97,568.75 L669.00,569.62 L668.57,570.50 L667.82,571.38 L667.03,572.25 L666.48,573.12 L666.37,574.00 L666.75,574.88 L667.47,575.75 L668.27,576.62 L668.87,577.50 L669.04,578.38 L668.73,579.25 L668.05,580.12 L667.24,581.00 M662.70,583.50 L663.47,584.38 L663.97,585.25 L664.00,586.12 L663.57,587.00 L662.82,587.88 L662.03,588.75 L661.48,589.62 L661.37,590.50 L661.75,591.38 L662.47,592.25 L663.27,593.12 L663.87,594.00 L664.04,594.88 L663.73,595.75 L663.05,596.62 L662.24,597.50 M667.70,583.50 L668.47,584.38 L668.97,585.25 L669.00,586.12 L668.57,587.00 L667.82,587.88 L667.03,588.75 L666.48,589.62 L666.37,590.50 L666.75,591.38 L667.47,592.25 L668.27,593.12 L668.87,594.00 L669.04,594.88 L668.73,595.75 L668.05,596.62 L667.24,597.50 M673.70,567.00 L674.47,567.88 L674.97,568.75 L675.00,569.62 L674.57,570.50 L673.82,571.38 L673.03,572.25 L672.48,573.12 L672.37,574.00 L672.75,574.88 L673.47,575.75 L674.27,576.62 L674.87,577.50 L675.04,578.38 L674.73,579.25 L674.05,580.12 L673.24,581.00 M678.70,567.00 L679.47,567.88 L679.97,568.75 L680.00,569.62 L679.57,570.50 L678.82,571.38 L678.03,572.25 L677.48,573.12 L677.37,574.00 L677.75,574.88 L678.47,575.75 L679.27,576.62 L679.87,577.50 L680.04,578.38 L679.73,579.25 L679.05,580.12 L678.24,581.00 M673.70,583.50 L674.47,584.38 L674.97,585.25 L675.00,586.12 L674.57,587.00 L673.82,587.88 L673.03,588.75 L672.48,589.62 L672.37,590.50 L672.75,591.38 L673.47,592.25 L674.27,593.12 L674.87,594.00 L675.04,594.88 L674.73,595.75 L674.05,596.62 L673.24,597.50 M678.70,583.50 L679.47,584.38 L679.97,585.25 L680.00,586.12 L679.57,587.00 L678.82,587.88 L678.03,588.75 L677.48,589.62 L677.37,590.50 L677.75,591.38 L678.47,592.25 L679.27,593.12 L679.87,594.00 L680.04,594.88 L679.73,595.75 L679.05,596.62 L678.24,597.50 M684.70,567.00 L685.47,567.88 L685.97,568.75 L686.00,569.62 L685.57,570.50 L684.82,571.38 L684.03,572.25 L683.48,573.12 L683.37,574.00 L683.75,574.88 L684.47,575.75 L685.27,576.62 L685.87,577.50 L686.04,578.38 L685.73,579.25 L685.05,580.12 L684.24,581.00 M689.70,567.00 L690.47,567.88 L690.97,568.75 L691.00,569.62 L690.57,570.50 L689.82,571.38 L689.03,572.25 L688.48,573.12 L688.37,574.00 L688.75,574.88 L689.47,575.75 L690.27,576.62 L690.87,577.50 L691.04,578.38 L690.73,579.25 L690.05,580.12 L689.24,581.00 M684.70,583.50 L685.47,584.38 L685.97,585.25 L686.00,586.12 L685.57,587.00 L684.82,587.88 L684.03,588.75 L683.48,589.62 L683.37,590.50 L683.75,591.38 L684.47,592.25 L685.27,593.12 L685.87,594.00 L686.04,594.88 L685.73,595.75 L685.05,596.62 L684.24,597.50 M689.70,583.50 L690.47,584.38 L690.97,585.25 L691.00,586.12 L690.57,587.00 L689.82,587.88 L689.03,588.75 L688.48,589.62 L688.37,590.50 L688.75,591.38 L689.47,592.25 L690.27,593.12 L690.87,594.00 L691.04,594.88 L690.73,595.75 L690.05,596.62 L689.24,597.50 M695.70,567.00 L696.47,567.88 L696.97,568.75 L697.00,569.62 L696.57,570.50 L695.82,571.38 L695.03,572.25 L694.48,573.12 L694.37,574.00 L694.75,574.88 L695.47,575.75 L696.27,576.62 L696.87,577.50 L697.04,578.38 L696.73,579.25 L696.05,580.12 L695.24,581.00 M700.70,567.00 L701.47,567.88 L701.97,568.75 L702.00,569.62 L701.57,570.50 L700.82,571.38 L700.03,572.25 L699.48,573.12 L699.37,574.00 L699.75,574.88 L700.47,575.75 L701.27,576.62 L701.87,577.50 L702.04,578.38 L701.73,579.25 L701.05,580.12 L700.24,581.00 M695.70,583.50 L696.47,584.38 L696.97,585.25 L697.00,586.12 L696.57,587.00 L695.82,587.88 L695.03,588.75 L694.48,589.62 L694.37,590.50 L694.75,591.38 L695.47,592.25 L696.27,593.12 L696.87,594.00 L697.04,594.88 L696.73,595.75 L696.05,596.62 L695.24,597.50 M700.70,583.50 L701.47,584.38 L701.97,585.25 L702.00,586.12 L701.57,587.00 L700.82,587.88 L700.03,588.75 L699.48,589.62 L699.37,590.50 L699.75,591.38 L700.47,592.25 L701.27,593.12 L701.87,594.00 L702.04,594.88 L701.73,595.75 L701.05,596.62 L700.24,597.50 M706.70,567.00 L707.47,567.88 L707.97,568.75 L708.00,569.62 L707.57,570.50 L706.82,571.38 L706.03,572.25 L705.48,573.12 L705.37,574.00 L705.75,574.88 L706.47,575.75 L707.27,576.62 L707.87,577.50 L708.04,578.38 L707.73,579.25 L707.05,580.12 L706.24,581.00 M711.70,567.00 L712.47,567.88 L712.97,568.75 L713.00,569.62 L712.57,570.50 L711.82,571.38 L711.03,572.25 L710.48,573.12 L710.37,574.00 L710.75,574.88 L711.47,575.75 L712.27,576.62 L712.87,577.50 L713.04,578.38 L712.73,579.25 L712.05,580.12 L711.24,581.00 M706.70,583.50 L707.47,584.38 L707.97,585.25 L708.00,586.12 L707.57,587.00 L706.82,587.88 L706.03,588.75 L705.48,589.62 L705.37,590.50 L705.75,591.38 L706.47,592.25 L707.27,593.12 L707.87,594.00 L708.04,594.88 L707.73,595.75 L707.05,596.62 L706.24,597.50 M711.70,583.50 L712.47,584.38 L712.97,585.25 L713.00,586.12 L712.57,587.00 L711.82,587.88 L711.03,588.75 L710.48,589.62 L710.37,590.50 L710.75,591.38 L711.47,592.25 L712.27,593.12 L712.87,594.00 L713.04,594.88 L712.73,595.75 L712.05,596.62 L711.24,597.50 M717.70,567.00 L718.47,567.88 L718.97,568.75 L719.00,569.62 L718.57,570.50 L717.82,571.38 L717.03,572.25 L716.48,573.12 L716.37,574.00 L716.75,574.88 L717.47,575.75 L718.27,576.62 L718.87,577.50 L719.04,578.38 L718.73,579.25 L718.05,580.12 L717.24,581.00 M722.70,567.00 L723.47,567.88 L723.97,568.75 L724.00,569.62 L723.57,570.50 L722.82,571.38 L722.03,572.25 L721.48,573.12 L721.37,574.00 L721.75,574.88 L722.47,575.75 L723.27,576.62 L723.87,577.50 L724.04,578.38 L723.73,579.25 L723.05,580.12 L722.24,581.00 M717.70,583.50 L718.47,584.38 L718.97,585.25 L719.00,586.12 L718.57,587.00 L717.82,587.88 L717.03,588.75 L716.48,589.62 L716.37,590.50 L716.75,591.38 L717.47,592.25 L718.27,593.12 L718.87,594.00 L719.04,594.88 L718.73,595.75 L718.05,596.62 L717.24,597.50 M722.70,583.50 L723.47,584.38 L723.97,585.25 L724.00,586.12 L723.57,587.00 L722.82,587.88 L722.03,588.75 L721.48,589.62 L721.37,590.50 L721.75,591.38 L722.47,592.25 L723.27,593.12 L723.87,594.00 L724.04,594.88 L723.73,595.75 L723.05,596.62 L722.24,597.50 M728.70,567.00 L729.47,567.88 L729.97,568.75 L730.00,569.62 L729.57,570.50 L728.82,571.38 L728.03,572.25 L727.48,573.12 L727.37,574.00 L727.75,574.88 L728.47,575.75 L729.27,576.62 L729.87,577.50 L730.04,578.38 L729.73,579.25 L729.05,580.12 L728.24,581.00 M733.70,567.00 L734.47,567.88 L734.97,568.75 L735.00,569.62 L734.57,570.50 L733.82,571.38 L733.03,572.25 L732.48,573.12 L732.37,574.00 L732.75,574.88 L733.47,575.75 L734.27,576.62 L734.87,577.50 L735.04,578.38 L734.73,579.25 L734.05,580.12 L733.24,581.00 M728.70,583.50 L729.47,584.38 L729.97,585.25 L730.00,586.12 L729.57,587.00 L728.82,587.88 L728.03,588.75 L727.48,589.62 L727.37,590.50 L727.75,591.38 L728.47,592.25 L729.27,593.12 L729.87,594.00 L730.04,594.88 L729.73,595.75 L729.05,596.62 L728.24,597.50 M733.70,583.50 L734.47,584.38 L734.97,585.25 L735.00,586.12 L734.57,587.00 L733.82,587.88 L733.03,588.75 L732.48,589.62 L732.37,590.50 L732.75,591.38 L733.47,592.25 L734.27,593.12 L734.87,594.00 L735.04,594.88 L734.73,595.75 L734.05,596.62 L733.24,597.50 M739.70,567.00 L740.47,567.88 L740.97,568.75 L741.00,569.62 L740.57,570.50 L739.82,571.38 L739.03,572.25 L738.48,573.12 L738.37,574.00 L738.75,574.88 L739.47,575.75 L740.27,576.62 L740.87,577.50 L741.04,578.38 L740.73,579.25 L740.05,580.12 L739.24,581.00 M744.70,567.00 L745.47,567.88 L745.97,568.75 L746.00,569.62 L745.57,570.50 L744.82,571.38 L744.03,572.25 L743.48,573.12 L743.37,574.00 L743.75,574.88 L744.47,575.75 L745.27,576.62 L745.87,577.50 L746.04,578.38 L745.73,579.25 L745.05,580.12 L744.24,581.00 M739.70,583.50 L740.47,584.38 L740.97,585.25 L741.00,586.12 L740.57,587.00 L739.82,587.88 L739.03,588.75 L738.48,589.62 L738.37,590.50 L738.75,591.38 L739.47,592.25 L740.27,593.12 L740.87,594.00 L741.04,594.88 L740.73,595.75 L740.05,596.62 L739.24,597.50 M744.70,583.50 L745.47,584.38 L745.97,585.25 L746.00,586.12 L745.57,587.00 L744.82,587.88 L744.03,588.75 L743.48,589.62 L743.37,590.50 L743.75,591.38 L744.47,592.25 L745.27,593.12 L745.87,594.00 L746.04,594.88 L745.73,595.75 L745.05,596.62 L744.24,597.50 M750.70,567.00 L751.47,567.88 L751.97,568.75 L752.00,569.62 L751.57,570.50 L750.82,571.38 L750.03,572.25 L749.48,573.12 L749.37,574.00 L749.75,574.88 L750.47,575.75 L751.27,576.62 L751.87,577.50 L752.04,578.38 L751.73,579.25 L751.05,580.12 L750.24,581.00 M755.70,567.00 L756.47,567.88 L756.97,568.75 L757.00,569.62 L756.57,570.50 L755.82,571.38 L755.03,572.25 L754.48,573.12 L754.37,574.00 L754.75,574.88 L755.47,575.75 L756.27,576.62 L756.87,577.50 L757.04,578.38 L756.73,579.25 L756.05,580.12 L755.24,581.00 M750.70,583.50 L751.47,584.38 L751.97,585.25 L752.00,586.12 L751.57,587.00 L750.82,587.88 L750.03,588.75 L749.48,589.62 L749.37,590.50 L749.75,591.38 L750.47,592.25 L751.27,593.12 L751.87,594.00 L752.04,594.88 L751.73,595.75 L751.05,596.62 L750.24,597.50 M755.70,583.50 L756.47,584.38 L756.97,585.25 L757.00,586.12 L756.57,587.00 L755.82,587.88 L755.03,588.75 L754.48,589.62 L754.37,590.50 L754.75,591.38 L755.47,592.25 L756.27,593.12 L756.87,594.00 L757.04,594.88 L756.73,595.75 L756.05,596.62 L755.24,597.50 M761.70,567.00 L762.47,567.88 L762.97,568.75 L763.00,569.62 L762.57,570.50 L761.82,571.38 L761.03,572.25 L760.48,573.12 L760.37,574.00 L760.75,574.88 L761.47,575.75 L762.27,576.62 L762.87,577.50 L763.04,578.38 L762.73,579.25 L762.05,580.12 L761.24,581.00 M766.70,567.00 L767.47,567.88 L767.97,568.75 L768.00,569.62 L767.57,570.50 L766.82,571.38 L766.03,572.25 L765.48,573.12 L765.37,574.00 L765.75,574.88 L766.47,575.75 L767.27,576.62 L767.87,577.50 L768.04,578.38 L767.73,579.25 L767.05,580.12 L766.24,581.00 M761.70,583.50 L762.47,584.38 L762.97,585.25 L763.00,586.12 L762.57,587.00 L761.82,587.88 L761.03,588.75 L760.48,589.62 L760.37,590.50 L760.75,591.38 L761.47,592.25 L762.27,593.12 L762.87,594.00 L763.04,594.88 L762.73,595.75 L762.05,596.62 L761.24,597.50 M766.70,583.50 L767.47,584.38 L767.97,585.25 L768.00,586.12 L767.57,587.00 L766.82,587.88 L766.03,588.75 L765.48,589.62 L765.37,590.50 L765.75,591.38 L766.47,592.25 L767.27,593.12 L767.87,594.00 L768.04,594.88 L767.73,595.75 L767.05,596.62 L766.24,597.50 M772.70,567.00 L773.47,567.88 L773.97,568.75 L774.00,569.62 L773.57,570.50 L772.82,571.38 L772.03,572.25 L771.48,573.12 L771.37,574.00 L771.75,574.88 L772.47,575.75 L773.27,576.62 L773.87,577.50 L774.04,578.38 L773.73,579.25 L773.05,580.12 L772.24,581.00 M777.70,567.00 L778.47,567.88 L778.97,568.75 L779.00,569.62 L778.57,570.50 L777.82,571.38 L777.03,572.25 L776.48,573.12 L776.37,574.00 L776.75,574.88 L777.47,575.75 L778.27,576.62 L778.87,577.50 L779.04,578.38 L778.73,579.25 L778.05,580.12 L777.24,581.00 M772.70,583.50 L773.47,584.38 L773.97,585.25 L774.00,586.12 L773.57,587.00 L772.82,587.88 L772.03,588.75 L771.48,589.62 L771.37,590.50 L771.75,591.38 L772.47,592.25 L773.27,593.12 L773.87,594.00 L774.04,594.88 L773.73,595.75 L773.05,596.62 L772.24,597.50 M777.70,583.50 L778.47,584.38 L778.97,585.25 L779.00,586.12 L778.57,587.00 L777.82,587.88 L777.03,588.75 L776.48,589.62 L776.37,590.50 L776.75,591.38 L777.47,592.25 L778.27,593.12 L778.87,594.00 L779.04,594.88 L778.73,595.75 L778.05,596.62 L777.24,597.50 M783.70,567.00 L784.47,567.88 L784.97,568.75 L785.00,569.62 L784.57,570.50 L783.82,571.38 L783.03,572.25 L782.48,573.12 L782.37,574.00 L782.75,574.88 L783.47,575.75 L784.27,576.62 L784.87,577.50 L785.04,578.38 L784.73,579.25 L784.05,580.12 L783.24,581.00 M788.70,567.00 L789.47,567.88 L789.97,568.75 L790.00,569.62 L789.57,570.50 L788.82,571.38 L788.03,572.25 L787.48,573.12 L787.37,574.00 L787.75,574.88 L788.47,575.75 L789.27,576.62 L789.87,577.50 L790.04,578.38 L789.73,579.25 L789.05,580.12 L788.24,581.00 M783.70,583.50 L784.47,584.38 L784.97,585.25 L785.00,586.12 L784.57,587.00 L783.82,587.88 L783.03,588.75 L782.48,589.62 L782.37,590.50 L782.75,591.38 L783.47,592.25 L784.27,593.12 L784.87,594.00 L785.04,594.88 L784.73,595.75 L784.05,596.62 L783.24,597.50 M788.70,583.50 L789.47,584.38 L789.97,585.25 L790.00,586.12 L789.57,587.00 L788.82,587.88 L788.03,588.75 L787.48,589.62 L787.37,590.50 L787.75,591.38 L788.47,592.25 L789.27,593.12 L789.87,594.00 L790.04,594.88 L789.73,595.75 L789.05,596.62 L788.24,597.50 M794.70,567.00 L795.47,567.88 L795.97,568.75 L796.00,569.62 L795.57,570.50 L794.82,571.38 L794.03,572.25 L793.48,573.12 L793.37,574.00 L793.75,574.88 L794.47,575.75 L795.27,576.62 L795.87,577.50 L796.04,578.38 L795.73,579.25 L795.05,580.12 L794.24,581.00 M799.70,567.00 L800.47,567.88 L800.97,568.75 L801.00,569.62 L800.57,570.50 L799.82,571.38 L799.03,572.25 L798.48,573.12 L798.37,574.00 L798.75,574.88 L799.47,575.75 L800.27,576.62 L800.87,577.50 L801.04,578.38 L800.73,579.25 L800.05,580.12 L799.24,581.00 M794.70,583.50 L795.47,584.38 L795.97,585.25 L796.00,586.12 L795.57,587.00 L794.82,587.88 L794.03,588.75 L793.48,589.62 L793.37,590.50 L793.75,591.38 L794.47,592.25 L795.27,593.12 L795.87,594.00 L796.04,594.88 L795.73,595.75 L795.05,596.62 L794.24,597.50 M799.70,583.50 L800.47,584.38 L800.97,585.25 L801.00,586.12 L800.57,587.00 L799.82,587.88 L799.03,588.75 L798.48,589.62 L798.37,590.50 L798.75,591.38 L799.47,592.25 L800.27,593.12 L800.87,594.00 L801.04,594.88 L800.73,595.75 L800.05,596.62 L799.24,597.50 M805.70,567.00 L806.47,567.88 L806.97,568.75 L807.00,569.62 L806.57,570.50 L805.82,571.38 L805.03,572.25 L804.48,573.12 L804.37,574.00 L804.75,574.88 L805.47,575.75 L806.27,576.62 L806.87,577.50 L807.04,578.38 L806.73,579.25 L806.05,580.12 L805.24,581.00 M810.70,567.00 L811.47,567.88 L811.97,568.75 L812.00,569.62 L811.57,570.50 L810.82,571.38 L810.03,572.25 L809.48,573.12 L809.37,574.00 L809.75,574.88 L810.47,575.75 L811.27,576.62 L811.87,577.50 L812.04,578.38 L811.73,579.25 L811.05,580.12 L810.24,581.00 M805.70,583.50 L806.47,584.38 L806.97,585.25 L807.00,586.12 L806.57,587.00 L805.82,587.88 L805.03,588.75 L804.48,589.62 L804.37,590.50 L804.75,591.38 L805.47,592.25 L806.27,593.12 L806.87,594.00 L807.04,594.88 L806.73,595.75 L806.05,596.62 L805.24,597.50 M810.70,583.50 L811.47,584.38 L811.97,585.25 L812.00,586.12 L811.57,587.00 L810.82,587.88 L810.03,588.75 L809.48,589.62 L809.37,590.50 L809.75,591.38 L810.47,592.25 L811.27,593.12 L811.87,594.00 L812.04,594.88 L811.73,595.75 L811.05,596.62 L810.24,597.50 M816.70,567.00 L817.47,567.88 L817.97,568.75 L818.00,569.62 L817.57,570.50 L816.82,571.38 L816.03,572.25 L815.48,573.12 L815.37,574.00 L815.75,574.88 L816.47,575.75 L817.27,576.62 L817.87,577.50 L818.04,578.38 L817.73,579.25 L817.05,580.12 L816.24,581.00 M821.70,567.00 L822.47,567.88 L822.97,568.75 L823.00,569.62 L822.57,570.50 L821.82,571.38 L821.03,572.25 L820.48,573.12 L820.37,574.00 L820.75,574.88 L821.47,575.75 L822.27,576.62 L822.87,577.50 L823.04,578.38 L822.73,579.25 L822.05,580.12 L821.24,581.00 M816.70,583.50 L817.47,584.38 L817.97,585.25 L818.00,586.12 L817.57,587.00 L816.82,587.88 L816.03,588.75 L815.48,589.62 L815.37,590.50 L815.75,591.38 L816.47,592.25 L817.27,593.12 L817.87,594.00 L818.04,594.88 L817.73,595.75 L817.05,596.62 L816.24,597.50 M821.70,583.50 L822.47,584.38 L822.97,585.25 L823.00,586.12 L822.57,587.00 L821.82,587.88 L821.03,588.75 L820.48,589.62 L820.37,590.50 L820.75,591.38 L821.47,592.25 L822.27,593.12 L822.87,594.00 L823.04,594.88 L822.73,595.75 L822.05,596.62 L821.24,597.50 M827.70,567.00 L828.47,567.88 L828.97,568.75 L829.00,569.62 L828.57,570.50 L827.82,571.38 L827.03,572.25 L826.48,573.12 L826.37,574.00 L826.75,574.88 L827.47,575.75 L828.27,576.62 L828.87,577.50 L829.04,578.38 L828.73,579.25 L828.05,580.12 L827.24,581.00 M832.70,567.00 L833.47,567.88 L833.97,568.75 L834.00,569.62 L833.57,570.50 L832.82,571.38 L832.03,572.25 L831.48,573.12 L831.37,574.00 L831.75,574.88 L832.47,575.75 L833.27,576.62 L833.87,577.50 L834.04,578.38 L833.73,579.25 L833.05,580.12 L832.24,581.00 M827.70,583.50 L828.47,584.38 L828.97,585.25 L829.00,586.12 L828.57,587.00 L827.82,587.88 L827.03,588.75 L826.48,589.62 L826.37,590.50 L826.75,591.38 L827.47,592.25 L828.27,593.12 L828.87,594.00 L829.04,594.88 L828.73,595.75 L828.05,596.62 L827.24,597.50 M832.70,583.50 L833.47,584.38 L833.97,585.25 L834.00,586.12 L833.57,587.00 L832.82,587.88 L832.03,588.75 L831.48,589.62 L831.37,590.50 L831.75,591.38 L832.47,592.25 L833.27,593.12 L833.87,594.00 L834.04,594.88 L833.73,595.75 L833.05,596.62 L832.24,597.50 M838.70,567.00 L839.47,567.88 L839.97,568.75 L840.00,569.62 L839.57,570.50 L838.82,571.38 L838.03,572.25 L837.48,573.12 L837.37,574.00 L837.75,574.88 L838.47,575.75 L839.27,576.62 L839.87,577.50 L840.04,578.38 L839.73,579.25 L839.05,580.12 L838.24,581.00 M843.70,567.00 L844.47,567.88 L844.97,568.75 L845.00,569.62 L844.57,570.50 L843.82,571.38 L843.03,572.25 L842.48,573.12 L842.37,574.00 L842.75,574.88 L843.47,575.75 L844.27,576.62 L844.87,577.50 L845.04,578.38 L844.73,579.25 L844.05,580.12 L843.24,581.00 M838.70,583.50 L839.47,584.38 L839.97,585.25 L840.00,586.12 L839.57,587.00 L838.82,587.88 L838.03,588.75 L837.48,589.62 L837.37,590.50 L837.75,591.38 L838.47,592.25 L839.27,593.12 L839.87,594.00 L840.04,594.88 L839.73,595.75 L839.05,596.62 L838.24,597.50 M843.70,583.50 L844.47,584.38 L844.97,585.25 L845.00,586.12 L844.57,587.00 L843.82,587.88 L843.03,588.75 L842.48,589.62 L842.37,590.50 L842.75,591.38 L843.47,592.25 L844.27,593.12 L844.87,594.00 L845.04,594.88 L844.73,595.75 L844.05,596.62 L843.24,597.50 M849.70,567.00 L850.47,567.88 L850.97,568.75 L851.00,569.62 L850.57,570.50 L849.82,571.38 L849.03,572.25 L848.48,573.12 L848.37,574.00 L848.75,574.88 L849.47,575.75 L850.27,576.62 L850.87,577.50 L851.04,578.38 L850.73,579.25 L850.05,580.12 L849.24,581.00 M854.70,567.00 L855.47,567.88 L855.97,568.75 L856.00,569.62 L855.57,570.50 L854.82,571.38 L854.03,572.25 L853.48,573.12 L853.37,574.00 L853.75,574.88 L854.47,575.75 L855.27,576.62 L855.87,577.50 L856.04,578.38 L855.73,579.25 L855.05,580.12 L854.24,581.00 M849.70,583.50 L850.47,584.38 L850.97,585.25 L851.00,586.12 L850.57,587.00 L849.82,587.88 L849.03,588.75 L848.48,589.62 L848.37,590.50 L848.75,591.38 L849.47,592.25 L850.27,593.12 L850.87,594.00 L851.04,594.88 L850.73,595.75 L850.05,596.62 L849.24,597.50 M854.70,583.50 L855.47,584.38 L855.97,585.25 L856.00,586.12 L855.57,587.00 L854.82,587.88 L854.03,588.75 L853.48,589.62 L853.37,590.50 L853.75,591.38 L854.47,592.25 L855.27,593.12 L855.87,594.00 L856.04,594.88 L855.73,595.75 L855.05,596.62 L854.24,597.50 M860.70,567.00 L861.47,567.88 L861.97,568.75 L862.00,569.62 L861.57,570.50 L860.82,571.38 L860.03,572.25 L859.48,573.12 L859.37,574.00 L859.75,574.88 L860.47,575.75 L861.27,576.62 L861.87,577.50 L862.04,578.38 L861.73,579.25 L861.05,580.12 L860.24,581.00 M865.70,567.00 L866.47,567.88 L866.97,568.75 L867.00,569.62 L866.57,570.50 L865.82,571.38 L865.03,572.25 L864.48,573.12 L864.37,574.00 L864.75,574.88 L865.47,575.75 L866.27,576.62 L866.87,577.50 L867.04,578.38 L866.73,579.25 L866.05,580.12 L865.24,581.00 M860.70,583.50 L861.47,584.38 L861.97,585.25 L862.00,586.12 L861.57,587.00 L860.82,587.88 L860.03,588.75 L859.48,589.62 L859.37,590.50 L859.75,591.38 L860.47,592.25 L861.27,593.12 L861.87,594.00 L862.04,594.88 L861.73,595.75 L861.05,596.62 L860.24,597.50 M865.70,583.50 L866.47,584.38 L866.97,585.25 L867.00,586.12 L866.57,587.00 L865.82,587.88 L865.03,588.75 L864.48,589.62 L864.37,590.50 L864.75,591.38 L865.47,592.25 L866.27,593.12 L866.87,594.00 L867.04,594.88 L866.73,595.75 L866.05,596.62 L865.24,597.50" fill="none" stroke="#22381f" stroke-width="1.6"/><g fill="#dbecd4" stroke="#1d321c" stroke-width="1.7"><circle cx="5.2" cy="562.8" r="4.5"/><circle cx="5.2" cy="601.3" r="4.5"/><circle cx="16.2" cy="562.8" r="4.5"/><circle cx="16.2" cy="601.3" r="4.5"/><circle cx="27.2" cy="562.8" r="4.5"/><circle cx="27.2" cy="601.3" r="4.5"/><circle cx="38.2" cy="562.8" r="4.5"/><circle cx="38.2" cy="601.3" r="4.5"/><circle cx="49.2" cy="562.8" r="4.5"/><circle cx="49.2" cy="601.3" r="4.5"/><circle cx="60.2" cy="562.8" r="4.5"/><circle cx="60.2" cy="601.3" r="4.5"/><circle cx="71.2" cy="562.8" r="4.5"/><circle cx="71.2" cy="601.3" r="4.5"/><circle cx="82.2" cy="562.8" r="4.5"/><circle cx="82.2" cy="601.3" r="4.5"/><circle cx="93.2" cy="562.8" r="4.5"/><circle cx="93.2" cy="601.3" r="4.5"/><circle cx="104.2" cy="562.8" r="4.5"/><circle cx="104.2" cy="601.3" r="4.5"/><circle cx="115.2" cy="562.8" r="4.5"/><circle cx="115.2" cy="601.3" r="4.5"/><circle cx="126.2" cy="562.8" r="4.5"/><circle cx="126.2" cy="601.3" r="4.5"/><circle cx="137.2" cy="562.8" r="4.5"/><circle cx="137.2" cy="601.3" r="4.5"/><circle cx="148.2" cy="562.8" r="4.5"/><circle cx="148.2" cy="601.3" r="4.5"/><circle cx="159.2" cy="562.8" r="4.5"/><circle cx="159.2" cy="601.3" r="4.5"/><circle cx="170.2" cy="562.8" r="4.5"/><circle cx="170.2" cy="601.3" r="4.5"/><circle cx="181.2" cy="562.8" r="4.5"/><circle cx="181.2" cy="601.3" r="4.5"/><circle cx="192.2" cy="562.8" r="4.5"/><circle cx="192.2" cy="601.3" r="4.5"/><circle cx="203.2" cy="562.8" r="4.5"/><circle cx="203.2" cy="601.3" r="4.5"/><circle cx="214.2" cy="562.8" r="4.5"/><circle cx="214.2" cy="601.3" r="4.5"/><circle cx="225.2" cy="562.8" r="4.5"/><circle cx="225.2" cy="601.3" r="4.5"/><circle cx="236.2" cy="562.8" r="4.5"/><circle cx="236.2" cy="601.3" r="4.5"/><circle cx="247.2" cy="562.8" r="4.5"/><circle cx="247.2" cy="601.3" r="4.5"/><circle cx="258.2" cy="562.8" r="4.5"/><circle cx="258.2" cy="601.3" r="4.5"/><circle cx="269.2" cy="562.8" r="4.5"/><circle cx="269.2" cy="601.3" r="4.5"/><circle cx="280.2" cy="562.8" r="4.5"/><circle cx="280.2" cy="601.3" r="4.5"/><circle cx="291.2" cy="562.8" r="4.5"/><circle cx="291.2" cy="601.3" r="4.5"/><circle cx="302.2" cy="562.8" r="4.5"/><circle cx="302.2" cy="601.3" r="4.5"/><circle cx="313.2" cy="562.8" r="4.5"/><circle cx="313.2" cy="601.3" r="4.5"/><circle cx="324.2" cy="562.8" r="4.5"/><circle cx="324.2" cy="601.3" r="4.5"/><circle cx="335.2" cy="562.8" r="4.5"/><circle cx="335.2" cy="601.3" r="4.5"/><circle cx="346.2" cy="562.8" r="4.5"/><circle cx="346.2" cy="601.3" r="4.5"/><circle cx="357.2" cy="562.8" r="4.5"/><circle cx="357.2" cy="601.3" r="4.5"/><circle cx="368.2" cy="562.8" r="4.5"/><circle cx="368.2" cy="601.3" r="4.5"/><circle cx="379.2" cy="562.8" r="4.5"/><circle cx="379.2" cy="601.3" r="4.5"/><circle cx="390.2" cy="562.8" r="4.5"/><circle cx="390.2" cy="601.3" r="4.5"/><circle cx="401.2" cy="562.8" r="4.5"/><circle cx="401.2" cy="601.3" r="4.5"/><circle cx="412.2" cy="562.8" r="4.5"/><circle cx="412.2" cy="601.3" r="4.5"/><circle cx="423.2" cy="562.8" r="4.5"/><circle cx="423.2" cy="601.3" r="4.5"/><circle cx="434.2" cy="562.8" r="4.5"/><circle cx="434.2" cy="601.3" r="4.5"/><circle cx="445.2" cy="562.8" r="4.5"/><circle cx="445.2" cy="601.3" r="4.5"/><circle cx="456.2" cy="562.8" r="4.5"/><circle cx="456.2" cy="601.3" r="4.5"/><circle cx="467.2" cy="562.8" r="4.5"/><circle cx="467.2" cy="601.3" r="4.5"/><circle cx="478.2" cy="562.8" r="4.5"/><circle cx="478.2" cy="601.3" r="4.5"/><circle cx="489.2" cy="562.8" r="4.5"/><circle cx="489.2" cy="601.3" r="4.5"/><circle cx="500.2" cy="562.8" r="4.5"/><circle cx="500.2" cy="601.3" r="4.5"/><circle cx="511.2" cy="562.8" r="4.5"/><circle cx="511.2" cy="601.3" r="4.5"/><circle cx="522.2" cy="562.8" r="4.5"/><circle cx="522.2" cy="601.3" r="4.5"/><circle cx="533.2" cy="562.8" r="4.5"/><circle cx="533.2" cy="601.3" r="4.5"/><circle cx="544.2" cy="562.8" r="4.5"/><circle cx="544.2" cy="601.3" r="4.5"/><circle cx="555.2" cy="562.8" r="4.5"/><circle cx="555.2" cy="601.3" r="4.5"/><circle cx="566.2" cy="562.8" r="4.5"/><circle cx="566.2" cy="601.3" r="4.5"/><circle cx="577.2" cy="562.8" r="4.5"/><circle cx="577.2" cy="601.3" r="4.5"/><circle cx="588.2" cy="562.8" r="4.5"/><circle cx="588.2" cy="601.3" r="4.5"/><circle cx="599.2" cy="562.8" r="4.5"/><circle cx="599.2" cy="601.3" r="4.5"/><circle cx="610.2" cy="562.8" r="4.5"/><circle cx="610.2" cy="601.3" r="4.5"/><circle cx="621.2" cy="562.8" r="4.5"/><circle cx="621.2" cy="601.3" r="4.5"/><circle cx="632.2" cy="562.8" r="4.5"/><circle cx="632.2" cy="601.3" r="4.5"/><circle cx="643.2" cy="562.8" r="4.5"/><circle cx="643.2" cy="601.3" r="4.5"/><circle cx="654.2" cy="562.8" r="4.5"/><circle cx="654.2" cy="601.3" r="4.5"/><circle cx="665.2" cy="562.8" r="4.5"/><circle cx="665.2" cy="601.3" r="4.5"/><circle cx="676.2" cy="562.8" r="4.5"/><circle cx="676.2" cy="601.3" r="4.5"/><circle cx="687.2" cy="562.8" r="4.5"/><circle cx="687.2" cy="601.3" r="4.5"/><circle cx="698.2" cy="562.8" r="4.5"/><circle cx="698.2" cy="601.3" r="4.5"/><circle cx="709.2" cy="562.8" r="4.5"/><circle cx="709.2" cy="601.3" r="4.5"/><circle cx="720.2" cy="562.8" r="4.5"/><circle cx="720.2" cy="601.3" r="4.5"/><circle cx="731.2" cy="562.8" r="4.5"/><circle cx="731.2" cy="601.3" r="4.5"/><circle cx="742.2" cy="562.8" r="4.5"/><circle cx="742.2" cy="601.3" r="4.5"/><circle cx="753.2" cy="562.8" r="4.5"/><circle cx="753.2" cy="601.3" r="4.5"/><circle cx="764.2" cy="562.8" r="4.5"/><circle cx="764.2" cy="601.3" r="4.5"/><circle cx="775.2" cy="562.8" r="4.5"/><circle cx="775.2" cy="601.3" r="4.5"/><circle cx="786.2" cy="562.8" r="4.5"/><circle cx="786.2" cy="601.3" r="4.5"/><circle cx="797.2" cy="562.8" r="4.5"/><circle cx="797.2" cy="601.3" r="4.5"/><circle cx="808.2" cy="562.8" r="4.5"/><circle cx="808.2" cy="601.3" r="4.5"/><circle cx="819.2" cy="562.8" r="4.5"/><circle cx="819.2" cy="601.3" r="4.5"/><circle cx="830.2" cy="562.8" r="4.5"/><circle cx="830.2" cy="601.3" r="4.5"/><circle cx="841.2" cy="562.8" r="4.5"/><circle cx="841.2" cy="601.3" r="4.5"/><circle cx="852.2" cy="562.8" r="4.5"/><circle cx="852.2" cy="601.3" r="4.5"/><circle cx="863.2" cy="562.8" r="4.5"/><circle cx="863.2" cy="601.3" r="4.5"/></g></g><linearGradient id="chan" x1="0" y1="0" x2="0" y2="1"><stop offset="0" stop-color="#c9514f"/><stop offset="0.6" stop-color="#dc7d76"/><stop offset="1" stop-color="#e08a82"/></linearGradient><linearGradient id="lobe" x1="0" y1="0" x2="1" y2="0"><stop offset="0" stop-color="#eca69d"/><stop offset="0.5" stop-color="#f4bab1"/><stop offset="1" stop-color="#eba095"/></linearGradient><path d="M354.10,547.50 C358.10,546.00 364.10,551.00 372.10,554.50 C380.10,551.00 386.10,546.00 390.10,547.00 C392.10,557.00 391.10,569.00 392.10,577.00 C394.10,587.00 395.10,599.00 391.10,608.00 C384.10,617.50 360.10,617.50 353.10,608.00 C349.10,599.00 350.10,587.00 352.10,577.00 C353.10,569.00 352.10,557.00 354.10,547.50 Z" fill="url(#chan)" stroke="#6e2b27" stroke-width="1.1"/><path d="M354.10,547.50 C357.10,546.00 362.10,548.00 364.10,551.00 C366.10,567.00 367.10,592.00 363.60,609.00 C359.10,611.00 355.10,609.50 353.10,608.00 C349.10,599.00 350.10,587.00 352.10,577.00 C353.10,569.00 352.10,557.00 354.10,547.50 Z" fill="url(#lobe)" stroke="#6e2b27" stroke-width="1"/><path d="M390.10,547.00 C387.10,546.00 382.10,548.00 380.10,551.00 C378.10,567.00 377.10,592.00 380.60,609.00 C385.10,611.00 389.10,609.50 391.10,608.00 C395.10,599.00 394.10,587.00 392.10,577.00 C391.10,569.00 392.10,557.00 390.10,547.00 Z" fill="url(#lobe)" stroke="#6e2b27" stroke-width="1"/><path d="M431.80,547.50 C435.80,546.00 441.80,551.00 449.80,554.50 C457.80,551.00 463.80,546.00 467.80,547.00 C469.80,557.00 468.80,569.00 469.80,577.00 C471.80,587.00 472.80,599.00 468.80,608.00 C461.80,617.50 437.80,617.50 430.80,608.00 C426.80,599.00 427.80,587.00 429.80,577.00 C430.80,569.00 429.80,557.00 431.80,547.50 Z" fill="url(#chan)" stroke="#6e2b27" stroke-width="1.1"/><path d="M431.80,547.50 C434.80,546.00 439.80,548.00 441.80,551.00 C443.80,567.00 444.80,592.00 441.30,609.00 C436.80,611.00 432.80,609.50 430.80,608.00 C426.80,599.00 427.80,587.00 429.80,577.00 C430.80,569.00 429.80,557.00 431.80,547.50 Z" fill="url(#lobe)" stroke="#6e2b27" stroke-width="1"/><path d="M467.80,547.00 C464.80,546.00 459.80,548.00 457.80,551.00 C455.80,567.00 454.80,592.00 458.30,609.00 C462.80,611.00 466.80,609.50 468.80,608.00 C472.80,599.00 471.80,587.00 469.80,577.00 C468.80,569.00 469.80,557.00 467.80,547.00 Z" fill="url(#lobe)" stroke="#6e2b27" stroke-width="1"/><path d="M502.60,547.50 C506.60,546.00 512.60,551.00 520.60,554.50 C528.60,551.00 534.60,546.00 538.60,547.00 C540.60,557.00 539.60,569.00 540.60,577.00 C542.60,587.00 543.60,599.00 539.60,608.00 C532.60,617.50 508.60,617.50 501.60,608.00 C497.60,599.00 498.60,587.00 500.60,577.00 C501.60,569.00 500.60,557.00 502.60,547.50 Z" fill="url(#chan)" stroke="#6e2b27" stroke-width="1.1"/><path d="M502.60,547.50 C505.60,546.00 510.60,548.00 512.60,551.00 C514.60,567.00 515.60,592.00 512.10,609.00 C507.60,611.00 503.60,609.50 501.60,608.00 C497.60,599.00 498.60,587.00 500.60,577.00 C501.60,569.00 500.60,557.00 502.60,547.50 Z" fill="url(#lobe)" stroke="#6e2b27" stroke-width="1"/><path d="M538.60,547.00 C535.60,546.00 530.60,548.00 528.60,551.00 C526.60,567.00 525.60,592.00 529.10,609.00 C533.60,611.00 537.60,609.50 539.60,608.00 C543.60,599.00 542.60,587.00 540.60,577.00 C539.60,569.00 540.60,557.00 538.60,547.00 Z" fill="url(#lobe)" stroke="#6e2b27" stroke-width="1"/><path d="M557.90,547.50 C561.90,546.00 567.90,551.00 575.90,554.50 C583.90,551.00 589.90,546.00 593.90,547.00 C595.90,557.00 594.90,569.00 595.90,577.00 C597.90,587.00 598.90,599.00 594.90,608.00 C587.90,617.50 563.90,617.50 556.90,608.00 C552.90,599.00 553.90,587.00 555.90,577.00 C556.90,569.00 555.90,557.00 557.90,547.50 Z" fill="url(#chan)" stroke="#6e2b27" stroke-width="1.1"/><path d="M557.90,547.50 C560.90,546.00 565.90,548.00 567.90,551.00 C569.90,567.00 570.90,592.00 567.40,609.00 C562.90,611.00 558.90,609.50 556.90,608.00 C552.90,599.00 553.90,587.00 555.90,577.00 C556.90,569.00 555.90,557.00 557.90,547.50 Z" fill="url(#lobe)" stroke="#6e2b27" stroke-width="1"/><path d="M593.90,547.00 C590.90,546.00 585.90,548.00 583.90,551.00 C581.90,567.00 580.90,592.00 584.40,609.00 C588.90,611.00 592.90,609.50 594.90,608.00 C598.90,599.00 597.90,587.00 595.90,577.00 C594.90,569.00 595.90,557.00 593.90,547.00 Z" fill="url(#lobe)" stroke="#6e2b27" stroke-width="1"/><radialGradient id="pcb" cx="0.45" cy="0.45" r="0.55"><stop offset="0" stop-color="#d6f0fb"/><stop offset="1" stop-color="#8ccbea"/></radialGradient><radialGradient id="pcg" cx="0.45" cy="0.45" r="0.55"><stop offset="0" stop-color="#e6eaef"/><stop offset="1" stop-color="#b7c0cd"/></radialGradient><radialGradient id="pcy" cx="0.45" cy="0.45" r="0.55"><stop offset="0" stop-color="#fdf0c0"/><stop offset="1" stop-color="#f1cd6e"/></radialGradient><radialGradient id="pct" cx="0.45" cy="0.45" r="0.55"><stop offset="0" stop-color="#e2dabb"/><stop offset="1" stop-color="#b3a67e"/></radialGradient><radialGradient id="pcl" cx="0.45" cy="0.45" r="0.55"><stop offset="0" stop-color="#f2f9ee"/><stop offset="1" stop-color="#cde5c4"/></radialGradient><radialGradient id="pcp" cx="0.45" cy="0.45" r="0.55"><stop offset="0" stop-color="#dcdcf4"/><stop offset="1" stop-color="#a0a3d5"/></radialGradient><circle cx="457" cy="485.1" r="7.3" fill="url(#pcb)" stroke="#3f6f86" stroke-width="1.3"/><circle cx="499.1" cy="490.5" r="7.3" fill="url(#pcg)" stroke="#5d6670" stroke-width="1.3"/><circle cx="406.9" cy="509.9" r="7.3" fill="url(#pcg)" stroke="#5d6670" stroke-width="1.3"/><circle cx="432.7" cy="516.3" r="7.3" fill="url(#pcy)" stroke="#87702f" stroke-width="1.3"/><circle cx="473.3" cy="507.5" r="7.3" fill="url(#pcy)" stroke="#87702f" stroke-width="1.3"/><circle cx="494.1" cy="509.5" r="7.3" fill="url(#pct)" stroke="#625a42" stroke-width="1.3"/><circle cx="393.8" cy="527.9" r="7.3" fill="url(#pcl)" stroke="#5d7c57" stroke-width="1.3"/><circle cx="412.3" cy="533.7" r="7.3" fill="url(#pct)" stroke="#625a42" stroke-width="1.3"/><circle cx="476.1" cy="530.7" r="7.3" fill="url(#pcp)" stroke="#545a83" stroke-width="1.3"/><circle cx="488" cy="547.2" r="7.3" fill="url(#pcb)" stroke="#3f6f86" stroke-width="1.3"/><circle cx="512.1" cy="537.8" r="7.3" fill="url(#pcl)" stroke="#5d7c57" stroke-width="1.3"/><circle cx="538.5" cy="535" r="7.3" fill="url(#pcp)" stroke="#545a83" stroke-width="1.3"/><circle cx="589.9" cy="532.6" r="7.3" fill="url(#pcl)" stroke="#5d7c57" stroke-width="1.3"/><circle cx="369.5" cy="627.5" r="7.3" fill="url(#pcg)" stroke="#5d6670" stroke-width="1.3"/><circle cx="401" cy="634.6" r="7.3" fill="url(#pcg)" stroke="#5d6670" stroke-width="1.3"/><circle cx="384" cy="651.9" r="7.3" fill="url(#pcg)" stroke="#5d6670" stroke-width="1.3"/><circle cx="441.2" cy="641.7" r="7.3" fill="url(#pcg)" stroke="#5d6670" stroke-width="1.3"/><circle cx="460.5" cy="633.5" r="7.3" fill="url(#pcy)" stroke="#87702f" stroke-width="1.3"/><circle cx="459.7" cy="651.9" r="7.3" fill="url(#pcg)" stroke="#5d6670" stroke-width="1.3"/><circle cx="486.6" cy="638.6" r="7.3" fill="url(#pcb)" stroke="#3f6f86" stroke-width="1.3"/><circle cx="480.4" cy="655.9" r="7.3" fill="url(#pcy)" stroke="#87702f" stroke-width="1.3"/><circle cx="510.7" cy="642.5" r="7.3" fill="url(#pcp)" stroke="#545a83" stroke-width="1.3"/><circle cx="497.7" cy="664.7" r="7.3" fill="url(#pcg)" stroke="#5d6670" stroke-width="1.3"/><circle cx="515.5" cy="664.7" r="7.3" fill="url(#pcb)" stroke="#3f6f86" stroke-width="1.3"/><circle cx="540" cy="648.2" r="7.3" fill="url(#pcl)" stroke="#5d7c57" stroke-width="1.3"/><circle cx="555.3" cy="631.2" r="7.3" fill="url(#pct)" stroke="#625a42" stroke-width="1.3"/><circle cx="579.7" cy="633.2" r="7.3" fill="url(#pct)" stroke="#625a42" stroke-width="1.3"/><circle cx="566" cy="652.5" r="7.3" fill="url(#pcp)" stroke="#545a83" stroke-width="1.3"/><circle cx="560.4" cy="666.6" r="7.3" fill="url(#pcg)" stroke="#5d6670" stroke-width="1.3"/><circle cx="598.7" cy="650.2" r="7.3" fill="url(#pcl)" stroke="#5d7c57" stroke-width="1.3"/><g fill="url(#pb)" stroke="#7e6d8a" stroke-width="1.2"><ellipse cx="561.9" cy="225.2" rx="22" ry="11.6"/><ellipse cx="579.8" cy="244.5" rx="22" ry="11.6"/><ellipse cx="628.6" cy="241.0" rx="22" ry="11.6"/><ellipse cx="595.4" cy="231.7" rx="22" ry="11.6"/><ellipse cx="547.0" cy="260.4" rx="22" ry="11.6"/><ellipse cx="585.2" cy="271.2" rx="22" ry="11.6"/><ellipse cx="558.0" cy="274.9" rx="22" ry="11.6"/><ellipse cx="631.7" cy="264.0" rx="22" ry="11.6"/><ellipse cx="635.6" cy="289.5" rx="22" ry="11.6"/><ellipse cx="579.8" cy="303.9" rx="22" ry="11.6"/><ellipse cx="594.7" cy="293.3" rx="22" ry="11.6"/><ellipse cx="616.7" cy="280.2" rx="22" ry="11.6"/><ellipse cx="721.0" cy="126.2" rx="22" ry="11.6"/><ellipse cx="738.9" cy="145.5" rx="22" ry="11.6"/><ellipse cx="787.7" cy="142.0" rx="22" ry="11.6"/><ellipse cx="754.5" cy="132.7" rx="22" ry="11.6"/><ellipse cx="706.1" cy="161.4" rx="22" ry="11.6"/><ellipse cx="744.3" cy="172.2" rx="22" ry="11.6"/><ellipse cx="717.1" cy="175.9" rx="22" ry="11.6"/><ellipse cx="790.8" cy="165.0" rx="22" ry="11.6"/><ellipse cx="794.7" cy="190.5" rx="22" ry="11.6"/><ellipse cx="738.9" cy="204.9" rx="22" ry="11.6"/><ellipse cx="753.8" cy="194.3" rx="22" ry="11.6"/><ellipse cx="775.8" cy="181.2" rx="22" ry="11.6"/><ellipse cx="722.2" cy="261.9" rx="22" ry="11.6"/><ellipse cx="740.5" cy="281.3" rx="22" ry="11.6"/><ellipse cx="789.0" cy="278.6" rx="22" ry="11.6"/><ellipse cx="756.5" cy="268.4" rx="22" ry="11.6"/><ellipse cx="707.8" cy="297.5" rx="22" ry="11.6"/><ellipse cx="755.8" cy="299.1" rx="22" ry="11.6"/><ellipse cx="718.6" cy="312.2" rx="22" ry="11.6"/><ellipse cx="796.0" cy="298.5" rx="22" ry="11.6"/><ellipse cx="811.0" cy="316.7" rx="22" ry="11.6"/><ellipse cx="755.0" cy="331.4" rx="22" ry="11.6"/><ellipse cx="770.0" cy="320.8" rx="22" ry="11.6"/><ellipse cx="792.4" cy="308.2" rx="22" ry="11.6"/></g><ellipse cx="617.7" cy="429.3" rx="68.2" ry="36.6" fill="url(#purp)" stroke="#2b1f2e" stroke-width="1.6"/><rect x="626.3" y="448.5" width="173.4" height="64.5" rx="15" fill="url(#blue)" stroke="#18242e" stroke-width="2.1"/><rect x="45.3" y="22.4" width="175.1" height="64.4" rx="15" fill="url(#blue)" stroke="#18242e" stroke-width="2.1"/><linearGradient id="metalH" x1="0" y1="0" x2="1" y2="0"><stop offset="0" stop-color="#9d9d93"/><stop offset="0.3" stop-color="#eeeeea"/><stop offset="0.6" stop-color="#c9c9c1"/><stop offset="1" stop-color="#8e8e85"/></linearGradient>
<linearGradient id="panIn" x1="0" y1="0" x2="1" y2="0"><stop offset="0" stop-color="#c8c8c2"/><stop offset="0.35" stop-color="#f2f2ef"/><stop offset="0.7" stop-color="#9a9a94"/><stop offset="1" stop-color="#55554f"/></linearGradient>
<linearGradient id="panOut" x1="0" y1="0" x2="0" y2="1"><stop offset="0" stop-color="#cfcfc9"/><stop offset="0.45" stop-color="#ededea"/><stop offset="1" stop-color="#a9a9a2"/></linearGradient>
<linearGradient id="baseG" x1="0" y1="0" x2="0" y2="1"><stop offset="0" stop-color="#e4e4df"/><stop offset="0.5" stop-color="#cfcfc8"/><stop offset="1" stop-color="#a9a9a1"/></linearGradient><g stroke="#85857a" stroke-width="1.05" fill="none"><path d="M68.5,330 L27,392.5 M68.8,330 L68.8,393 M69,330 L110.6,392.5"/><path d="M199.5,347 L156,411.5 M199.5,347 L199.5,412 M199.8,347 L244,411.5"/></g><path d="M63.0,302.3 L63.7,302.4 L64.7,302.6 L65.9,302.8 L67.2,303.1 L68.6,303.4 L70.0,303.7 L71.5,304.1 L73.1,304.7 L74.8,305.3 L76.6,305.9 L78.3,306.4 L80.0,306.8 L81.7,307.1 L83.3,307.3 L85.0,307.5 L86.7,307.5 L88.3,307.6 L90.0,307.5 L91.7,307.3 L93.3,307.0 L95.0,306.7 L96.7,306.3 L98.3,306.0 L100.0,305.7 L101.7,305.5 L103.3,305.3 L105.0,305.1 L106.7,305.0 L108.3,304.9 L110.0,305.0 L111.7,305.2 L113.4,305.5 L115.1,305.8 L116.8,306.2 L118.4,306.6 L120.0,307.0 L121.5,307.4 L122.9,307.8 L124.2,308.2 L125.5,308.6 L126.7,308.9 L128.0,309.3 L129.2,309.6 L130.4,309.9 L131.6,310.2 L132.7,310.5 L133.9,310.7 L135.0,311.0 L136.1,311.3 L137.1,311.5 L138.2,311.8 L139.2,312.0 L140.3,312.2 L141.5,312.3 L142.8,312.3 L144.1,312.2 L145.5,312.0 L147.0,311.8 L148.5,311.7 L150.0,311.6 L151.6,311.6 L153.2,311.6 L154.9,311.6 L156.6,311.7 L158.3,311.8 L160.0,312.0 L161.7,312.3 L163.3,312.7 L165.0,313.1 L166.7,313.5 L168.3,314.1 L170.0,314.6 L171.7,315.2 L173.3,315.9 L175.0,316.6 L176.7,317.4 L178.3,318.0 L180.0,318.6 L181.7,319.0 L183.3,319.4 L185.0,319.7 L186.7,320.0 L188.3,320.2 L190.0,320.4 L191.7,320.5 L193.4,320.6 L195.2,320.6 L196.9,320.6 L198.5,320.6 L200.0,320.6 L201.4,320.7 L202.8,320.8 L204.1,321.0 L205.3,321.1 L206.3,321.2 L207.0,321.3" fill="none" stroke="#9c998e" stroke-width="6.8" stroke-linecap="round" stroke-linejoin="round"/><path d="M63.0,302.3 L63.7,302.4 L64.7,302.6 L65.9,302.8 L67.2,303.1 L68.6,303.4 L70.0,303.7 L71.5,304.1 L73.1,304.7 L74.8,305.3 L76.6,305.9 L78.3,306.4 L80.0,306.8 L81.7,307.1 L83.3,307.3 L85.0,307.5 L86.7,307.5 L88.3,307.6 L90.0,307.5 L91.7,307.3 L93.3,307.0 L95.0,306.7 L96.7,306.3 L98.3,306.0 L100.0,305.7 L101.7,305.5 L103.3,305.3 L105.0,305.1 L106.7,305.0 L108.3,304.9 L110.0,305.0 L111.7,305.2 L113.4,305.5 L115.1,305.8 L116.8,306.2 L118.4,306.6 L120.0,307.0 L121.5,307.4 L122.9,307.8 L124.2,308.2 L125.5,308.6 L126.7,308.9 L128.0,309.3 L129.2,309.6 L130.4,309.9 L131.6,310.2 L132.7,310.5 L133.9,310.7 L135.0,311.0 L136.1,311.3 L137.1,311.5 L138.2,311.8 L139.2,312.0 L140.3,312.2 L141.5,312.3 L142.8,312.3 L144.1,312.2 L145.5,312.0 L147.0,311.8 L148.5,311.7 L150.0,311.6 L151.6,311.6 L153.2,311.6 L154.9,311.6 L156.6,311.7 L158.3,311.8 L160.0,312.0 L161.7,312.3 L163.3,312.7 L165.0,313.1 L166.7,313.5 L168.3,314.1 L170.0,314.6 L171.7,315.2 L173.3,315.9 L175.0,316.6 L176.7,317.4 L178.3,318.0 L180.0,318.6 L181.7,319.0 L183.3,319.4 L185.0,319.7 L186.7,320.0 L188.3,320.2 L190.0,320.4 L191.7,320.5 L193.4,320.6 L195.2,320.6 L196.9,320.6 L198.5,320.6 L200.0,320.6 L201.4,320.7 L202.8,320.8 L204.1,321.0 L205.3,321.1 L206.3,321.2 L207.0,321.3" fill="none" stroke="#c4c1b7" stroke-width="5.0" stroke-linecap="round" stroke-linejoin="round"/><path d="M63.0,302.3 L63.7,302.4 L64.7,302.6 L65.9,302.8 L67.2,303.1 L68.6,303.4 L70.0,303.7 L71.5,304.1 L73.1,304.7 L74.8,305.3 L76.6,305.9 L78.3,306.4 L80.0,306.8 L81.7,307.1 L83.3,307.3 L85.0,307.5 L86.7,307.5 L88.3,307.6 L90.0,307.5 L91.7,307.3 L93.3,307.0 L95.0,306.7 L96.7,306.3 L98.3,306.0 L100.0,305.7 L101.7,305.5 L103.3,305.3 L105.0,305.1 L106.7,305.0 L108.3,304.9 L110.0,305.0 L111.7,305.2 L113.4,305.5 L115.1,305.8 L116.8,306.2 L118.4,306.6 L120.0,307.0 L121.5,307.4 L122.9,307.8 L124.2,308.2 L125.5,308.6 L126.7,308.9 L128.0,309.3 L129.2,309.6 L130.4,309.9 L131.6,310.2 L132.7,310.5 L133.9,310.7 L135.0,311.0 L136.1,311.3 L137.1,311.5 L138.2,311.8 L139.2,312.0 L140.3,312.2 L141.5,312.3 L142.8,312.3 L144.1,312.2 L145.5,312.0 L147.0,311.8 L148.5,311.7 L150.0,311.6 L151.6,311.6 L153.2,311.6 L154.9,311.6 L156.6,311.7 L158.3,311.8 L160.0,312.0 L161.7,312.3 L163.3,312.7 L165.0,313.1 L166.7,313.5 L168.3,314.1 L170.0,314.6 L171.7,315.2 L173.3,315.9 L175.0,316.6 L176.7,317.4 L178.3,318.0 L180.0,318.6 L181.7,319.0 L183.3,319.4 L185.0,319.7 L186.7,320.0 L188.3,320.2 L190.0,320.4 L191.7,320.5 L193.4,320.6 L195.2,320.6 L196.9,320.6 L198.5,320.6 L200.0,320.6 L201.4,320.7 L202.8,320.8 L204.1,321.0 L205.3,321.1 L206.3,321.2 L207.0,321.3" fill="none" stroke="#dcd9d0" stroke-width="1.4" transform="translate(0,-0.6)"/><path d="M64.1,309 c-3,2 -3,6 1,7.5 c3,1 5,-1 4,-3" fill="none" stroke="#a29f95" stroke-width="3.2" stroke-linecap="round"/><path d="M63.8,316 L73.39999999999999,316 L72.8,326 L64.39999999999999,326 Z" fill="#c6c3b9" stroke="#9c998e" stroke-width="0.9"/><path d="M67.0,317 L67.39999999999999,326 M70.19999999999999,317 L69.8,326" stroke="#a7a49a" stroke-width="0.8"/><path d="M58.099999999999994,326.5 c1,-3 5,-3 6,0 l1.5,2 l3,-2.5 l3,2.5 l1.5,-2 c1,-3 5,-3 6,0 c-1,3 -4,4 -6.5,3.5 l-4,3 l-4,-3 c-2.5,0.5 -5.5,-0.5 -6.5,-3.5 Z" fill="#c3c0b6" stroke="#9c998e" stroke-width="0.8"/><path d="M195.5,325 c-3,2 -3,6 1,7.5 c3,1 5,-1 4,-3" fill="none" stroke="#a29f95" stroke-width="3.2" stroke-linecap="round"/><path d="M195.2,333 L204.8,333 L204.2,344 L195.8,344 Z" fill="#c6c3b9" stroke="#9c998e" stroke-width="0.9"/><path d="M198.4,334 L198.8,344 M201.6,334 L201.2,344" stroke="#a7a49a" stroke-width="0.8"/><path d="M189.5,345.0 c1,-3 5,-3 6,0 l1.5,2 l3,-2.5 l3,2.5 l1.5,-2 c1,-3 5,-3 6,0 c-1,3 -4,4 -6.5,3.5 l-4,3 l-4,-3 c-2.5,0.5 -5.5,-0.5 -6.5,-3.5 Z" fill="#c3c0b6" stroke="#9c998e" stroke-width="0.8"/><rect x="130.4" y="320" width="10" height="102" fill="url(#metalH)" stroke="#8c8c83" stroke-width="0.7"/><rect x="129.6" y="305" width="12" height="16" fill="url(#metalH)" stroke="#8c8c83" stroke-width="0.7"/><rect x="128.8" y="320.2" width="13.6" height="3" fill="#7d7d75"/><rect x="128.6" y="302" width="14" height="3.5" rx="1" fill="url(#metalH)" stroke="#8c8c83" stroke-width="0.6"/><path d="M131,301 C130,297 132,293 135.7,293 C139.4,293 141.4,297 140.4,301 Z" fill="url(#metalH)" stroke="#8c8c83" stroke-width="0.6"/><linearGradient id="diskSide" x1="0" y1="0" x2="0" y2="1"><stop offset="0" stop-color="#cfcfc9"/><stop offset="0.5" stop-color="#e6e6e2"/><stop offset="1" stop-color="#a9a9a2"/></linearGradient><linearGradient id="diskTop" x1="0" y1="0" x2="1" y2="0"><stop offset="0" stop-color="#c3c3bd"/><stop offset="0.35" stop-color="#e8e8e4"/><stop offset="0.7" stop-color="#cfcfc9"/><stop offset="1" stop-color="#b3b3ac"/></linearGradient><path d="M93.3,433.2 A41.8,4.3 0 0 0 176.89999999999998,433.2 L176.89999999999998,436.8 A41.8,4.3 0 0 1 93.3,436.8 Z" fill="url(#diskSide)" stroke="#a2a29a" stroke-width="0.8"/><ellipse cx="135.1" cy="433.2" rx="41.8" ry="4.3" fill="url(#diskTop)" stroke="#a9a9a1" stroke-width="0.8"/><path d="M98.1,427.3 A36.4,4.1 0 0 0 170.9,427.3 L170.9,428.90000000000003 A36.4,4.1 0 0 1 98.1,428.90000000000003 Z" fill="url(#diskSide)" stroke="#a2a29a" stroke-width="0.8"/><ellipse cx="134.5" cy="427.3" rx="36.4" ry="4.1" fill="url(#diskTop)" stroke="#a9a9a1" stroke-width="0.8"/><path d="M126.2,423.5 C127,419 130,418 131,416.5 L140,416.5 C141,418 144,419 144.6,423.5 C140,425 130,425 126.2,423.5 Z" fill="url(#metalH)" stroke="#8c8c83" stroke-width="0.6"/><path d="M21.800000000000004,393.4 Q42.68000000000001,411.5 68.2,409.5 Q93.72,411.5 114.6,393.4 Z" fill="url(#panOut)" stroke="#9a9a92" stroke-width="0.8"/><ellipse cx="68.2" cy="393.4" rx="46.4" ry="3.8" fill="url(#panIn)" stroke="#8e8e88" stroke-width="0.6"/><path d="M154.5,412.2 Q175.245,429.8 200.6,427.8 Q225.95499999999998,429.8 246.7,412.2 Z" fill="url(#panOut)" stroke="#9a9a92" stroke-width="0.8"/><ellipse cx="200.6" cy="412.2" rx="46.1" ry="3.8" fill="url(#panIn)" stroke="#8e8e88" stroke-width="0.6"/><linearGradient id="ag1" gradientUnits="userSpaceOnUse" x1="132.2" y1="96.5" x2="132.2" y2="159.8"><stop offset="0" stop-color="#231815" stop-opacity="0.05"/><stop offset="0.3" stop-color="#231815" stop-opacity="1"/><stop offset="1" stop-color="#231815"/></linearGradient><path d="M132.2,96.5 L132.2,143.1" fill="none" stroke="url(#ag1)" stroke-width="3.7"/><path d="M132.2,159.8 L123.2,137.8 L132.2,142.2 L141.2,137.8 Z" fill="#231815"/><linearGradient id="ag2" gradientUnits="userSpaceOnUse" x1="132.2" y1="218.0" x2="132.2" y2="277"><stop offset="0" stop-color="#231815" stop-opacity="0.05"/><stop offset="0.3" stop-color="#231815" stop-opacity="1"/><stop offset="1" stop-color="#231815"/></linearGradient><path d="M132.2,218.0 L132.2,260.3" fill="none" stroke="url(#ag2)" stroke-width="3.7"/><path d="M132.2,277 L123.2,255.0 L132.2,259.4 L141.2,255.0 Z" fill="#231815"/><linearGradient id="ag3" gradientUnits="userSpaceOnUse" x1="228.3" y1="323.8" x2="315.8" y2="224.3"><stop offset="0" stop-color="#231815" stop-opacity="0.05"/><stop offset="0.3" stop-color="#231815" stop-opacity="1"/><stop offset="1" stop-color="#231815"/></linearGradient><path d="M228.3,323.8 L304.8,236.9" fill="none" stroke="url(#ag3)" stroke-width="3.7"/><path d="M315.8,224.3 L308.0,246.8 L304.2,237.5 L294.5,234.9 Z" fill="#231815"/><linearGradient id="ag4" gradientUnits="userSpaceOnUse" x1="335.6" y1="182.4" x2="441.4" y2="59.2"><stop offset="0" stop-color="#231815" stop-opacity="0.05"/><stop offset="0.3" stop-color="#231815" stop-opacity="1"/><stop offset="1" stop-color="#231815"/></linearGradient><path d="M335.6,182.4 L430.5,71.9" fill="none" stroke="url(#ag4)" stroke-width="3.7"/><path d="M441.4,59.2 L433.9,81.8 L429.9,72.6 L420.2,70.0 Z" fill="#231815"/><linearGradient id="ag5" gradientUnits="userSpaceOnUse" x1="234.7" y1="433.8" x2="366.6" y2="523"><stop offset="0" stop-color="#231815" stop-opacity="0.05"/><stop offset="0.35" stop-color="#231815" stop-opacity="1"/><stop offset="1" stop-color="#231815"/></linearGradient><path d="M234.7,433.8 Q283.6,502.3 350.4,519.0" fill="none" stroke="url(#ag5)" stroke-width="3.7"/><path d="M366.6,523 L343.1,526.4 L349.5,518.7 L347.4,508.9 Z" fill="#231815"/><linearGradient id="ag6" gradientUnits="userSpaceOnUse" x1="449" y1="628" x2="449" y2="510.3"><stop offset="0" stop-color="#231815" stop-opacity="0.05"/><stop offset="0.22" stop-color="#231815" stop-opacity="1"/><stop offset="1" stop-color="#231815"/></linearGradient><path d="M449,628 L449.0,527.0" fill="none" stroke="url(#ag6)" stroke-width="3.7"/><path d="M449,510.3 L458.0,532.3 L449.0,527.9 L440.0,532.3 Z" fill="#231815"/><linearGradient id="ag7" gradientUnits="userSpaceOnUse" x1="503" y1="524.5" x2="591" y2="471.3"><stop offset="0" stop-color="#231815" stop-opacity="0.05"/><stop offset="0.35" stop-color="#231815" stop-opacity="1"/><stop offset="1" stop-color="#231815"/></linearGradient><path d="M503,524.5 Q550.4,507.4 578.5,482.4" fill="none" stroke="url(#ag7)" stroke-width="3.7"/><path d="M591,471.3 L580.5,492.6 L577.8,483.0 L568.6,479.2 Z" fill="#231815"/><linearGradient id="ag8" gradientUnits="userSpaceOnUse" x1="675" y1="398" x2="711.1" y2="331.4"><stop offset="0" stop-color="#231815" stop-opacity="0.05"/><stop offset="0.4" stop-color="#231815" stop-opacity="1"/><stop offset="1" stop-color="#231815"/></linearGradient><path d="M675,398 L703.1,346.1" fill="none" stroke="url(#ag8)" stroke-width="3.7"/><path d="M711.1,331.4 L708.5,355.0 L702.7,346.9 L692.7,346.5 Z" fill="#231815"/><linearGradient id="ag9" gradientUnits="userSpaceOnUse" x1="719.4" y1="105" x2="703.7" y2="50"><stop offset="0" stop-color="#231815" stop-opacity="0.05"/><stop offset="0.45" stop-color="#231815" stop-opacity="1"/><stop offset="1" stop-color="#231815"/></linearGradient><path d="M719.4,105 Q717.6,88 709.4,65.7" fill="none" stroke="url(#ag9)" stroke-width="3.7"/><path d="M703.7,50 L719.7,67.6 L709.7,66.5 L702.8,73.8 Z" fill="#231815"/><line x1="518" y1="305.3" x2="564" y2="305.3" stroke="#231815" stroke-width="1.6"/><linearGradient id="redarS" x1="0" y1="0" x2="0" y2="1"><stop offset="0" stop-color="#8e1414"/><stop offset="0.5" stop-color="#a01818"/><stop offset="1" stop-color="#a01818" stop-opacity="0"/></linearGradient><linearGradient id="redardS" x1="0" y1="1" x2="0" y2="0"><stop offset="0" stop-color="#8e1414"/><stop offset="0.5" stop-color="#a01818"/><stop offset="1" stop-color="#a01818" stop-opacity="0"/></linearGradient><path d="M232.9,38.2 L239.7,45.6 L235.4,45.6 L235.4,63.8 L230.5,63.8 L230.5,45.6 L226.2,45.6 Z" fill="url(#redar)" stroke="url(#redarS)" stroke-width="0.7"/><path d="M167.6,177.6 L174.7,185.0 L170.2,185.0 L170.2,203.0 L165.1,203.0 L165.1,185.0 L160.6,185.0 Z" fill="url(#redar)" stroke="url(#redarS)" stroke-width="0.7"/><path d="M419.1,183.8 L426.4,191.2 L421.7,191.2 L421.7,209.2 L416.5,209.2 L416.5,191.2 L411.8,191.2 Z" fill="url(#redar)" stroke="url(#redarS)" stroke-width="0.7"/><path d="M810.1,16.1 L817.5,23.5 L812.8,23.5 L812.8,41.5 L807.5,41.5 L807.5,23.5 L802.8,23.5 Z" fill="url(#redar)" stroke="url(#redarS)" stroke-width="0.7"/><path d="M195.3,350.7 L202.7,358.0 L198.0,358.0 L198.0,376.0 L192.7,376.0 L192.7,358.0 L188.0,358.0 Z" fill="url(#redar)" stroke="url(#redarS)" stroke-width="0.7"/><path d="M242.4,381.4 L249.4,388.7 L244.9,388.7 L244.9,406.7 L239.9,406.7 L239.9,388.7 L235.4,388.7 Z" fill="url(#redar)" stroke="url(#redarS)" stroke-width="0.7"/><path d="M280.1,345.3 L287.5,353.0 L282.8,353.0 L282.8,372.0 L277.5,372.0 L277.5,353.0 L272.8,353.0 Z" fill="url(#redar)" stroke="url(#redarS)" stroke-width="0.7"/><path d="M79.5,403.4 L86.2,396.0 L81.9,396.0 L81.9,377.9 L77.0,377.9 L77.0,396.0 L72.7,396.0 Z" fill="url(#redard)" stroke="url(#redardS)" stroke-width="0.7"/><g font-size="28.3" fill="#000" stroke="#000" stroke-width="0.35"><text transform="translate(54.8,63.5) scale(1,1.045)">GmGASA12</text><text transform="translate(111,200.6) scale(1,1.045)">GA</text><text transform="translate(261.1,208.1) scale(1,1.045)">Cell volume</text><text transform="translate(374.4,41.6) scale(1,1.045)">Grain size &amp; protein accumulation</text><text transform="translate(147,375.7) scale(1,1.045)">JA</text><text transform="translate(176.7,403.9) scale(1,1.045)">ABA</text><text transform="translate(226.7,372.5) scale(1,1.045)">IAA</text><text transform="translate(9.3,403.3) scale(1,1.045)">CTK</text><text transform="translate(66.4,472.3) scale(1,1.045)">Hormones</text><text transform="translate(55.1,505.7) scale(1,1.045)">homeostasis</text><text transform="translate(229.2,542.2) scale(1,1.045)">GmAAPs</text><text transform="translate(411.5,315.4) scale(1,1.045)">GmCGs</text><text transform="translate(559.9,362.4) scale(1,1.045)">PB</text><text transform="translate(763.3,236.2) scale(1,1.045)">PB</text><text transform="translate(748,378.7) scale(1,1.045)">PB</text><text transform="translate(561.7,440.7) scale(1,1.045)">GmCG-6</text><text transform="translate(634.9,490.3) scale(1,1.045)">GmGASA12</text><text transform="translate(624,654.1) scale(1,1.045)">AA</text><text transform="translate(26.4,635.5) scale(1,1.045)">Cell membrane</text></g><linearGradient id="rootG" gradientUnits="userSpaceOnUse" x1="0" y1="512" x2="0" y2="705">
<stop offset="0" stop-color="#3f9b3c"/><stop offset="0.13" stop-color="#6fa955"/><stop offset="0.3" stop-color="#a9c27e"/>
<stop offset="0.5" stop-color="#d9d39e"/><stop offset="0.75" stop-color="#f0ddb0"/><stop offset="1" stop-color="#f7ead0"/></linearGradient>
<radialGradient id="leafG" cx="0.5" cy="0.5" r="0.55"><stop offset="0" stop-color="#a7cf85"/><stop offset="0.55" stop-color="#8cbd63"/><stop offset="1" stop-color="#71a74b"/></radialGradient>
<linearGradient id="podG" x1="0" y1="0" x2="1" y2="0"><stop offset="0" stop-color="#b7d399"/><stop offset="0.5" stop-color="#d9e9c4"/><stop offset="1" stop-color="#b0cf92"/></linearGradient><g stroke="#3f9b3c" stroke-linecap="round" fill="none"><line x1="1024" y1="196" x2="1104.4" y2="117.4" stroke-width="4.6"/><line x1="1015" y1="290" x2="951.4" y2="228.7" stroke-width="4.2"/><line x1="1019" y1="407" x2="951" y2="338.8" stroke-width="4.4"/><line x1="1026" y1="425" x2="1119.4" y2="335.6" stroke-width="4.4"/><line x1="989" y1="346" x2="987" y2="392" stroke-width="3.0"/><line x1="1069" y1="352.5" x2="1069" y2="385" stroke-width="3.0"/><line x1="1073.3" y1="148" x2="1073.3" y2="166" stroke-width="2.4"/><line x1="1086.6" y1="370" x2="1086.6" y2="383" stroke-width="2.4"/><line x1="1034.3" y1="422" x2="1034.3" y2="442" stroke-width="2.6"/><line x1="1104.4" y1="117.4" x2="1101.5" y2="102.6" stroke-width="2.2"/><line x1="1104.4" y1="117.4" x2="1107.4" y2="114.4" stroke-width="2.2"/><line x1="1104.4" y1="117.4" x2="1119" y2="122" stroke-width="2.2"/><line x1="951.4" y1="228.7" x2="948.8" y2="225.6" stroke-width="2.2"/><line x1="951.4" y1="228.7" x2="957.7" y2="216.5" stroke-width="2.2"/><line x1="951.4" y1="228.7" x2="937.4" y2="232.5" stroke-width="2.2"/><line x1="951" y1="338.8" x2="943.6" y2="324" stroke-width="2.2"/><line x1="951" y1="338.8" x2="945.7" y2="337.7" stroke-width="2.2"/><line x1="951" y1="338.8" x2="946.8" y2="351.5" stroke-width="2.2"/><line x1="989" y1="346" x2="981" y2="340.9" stroke-width="2.2"/><line x1="989" y1="346" x2="989.1" y2="342" stroke-width="2.2"/><line x1="989" y1="346" x2="996.5" y2="344" stroke-width="2.2"/><line x1="1069" y1="352.5" x2="1061.3" y2="350.4" stroke-width="2.2"/><line x1="1069" y1="352.5" x2="1069.1" y2="351.5" stroke-width="2.2"/><line x1="1069" y1="352.5" x2="1076" y2="352.5" stroke-width="2.2"/><line x1="1119.4" y1="335.6" x2="1122.6" y2="329.2" stroke-width="2.2"/><line x1="1119.4" y1="335.6" x2="1121.6" y2="337.7" stroke-width="2.2"/><line x1="1119.4" y1="335.6" x2="1120.5" y2="343" stroke-width="2.2"/><line x1="1017.5" y1="129" x2="1003.7" y2="121.9" stroke-width="2.2"/><line x1="1021" y1="129" x2="1028.9" y2="125.4" stroke-width="2.2"/></g><path d="M1016.8,116 L1015.8,128 L1018.2,156 L1019.6,193 L1018.2,227 L1014.8,269 L1012.4,290 L1012.6,298 L1013.9,341 L1015.6,375 L1016.6,409 L1015.6,442 L1013.9,476 L1012.2,505 L1013,514 L1023.5,514 L1022.4,505 L1024.1,476 L1025.8,442 L1027.5,409 L1026.8,375 L1025.1,341 L1021.6,298 L1022.0,290 L1023.3,269 L1026.1,227 L1027.3,193 L1024.4,156 L1022.8,128 L1021.0,116 Z" fill="#3f9b3c"/><g fill="url(#rootG)"><path d="M1013.8,507.5 L1012.1,508.1 L1009.9,508.9 L1007.2,509.9 L1004.3,511.0 L1001.2,512.2 L998.2,513.3 L995.3,514.3 L992.8,515.2 L990.6,515.9 L988.4,516.5 L986.2,517.0 L984.1,517.6 L982.0,518.1 L979.9,518.7 L977.9,519.3 L975.9,520.1 L974.1,520.9 L972.4,521.7 L970.8,522.6 L969.3,523.5 L967.8,524.5 L966.5,525.5 L965.1,526.5 L963.9,527.6 L962.6,528.8 L961.5,530.1 L960.5,531.5 L959.7,532.7 L958.8,534.0 L958.0,535.2 L957.2,536.3 L956.2,537.4 L955.2,538.5 L954.3,539.7 L953.4,540.7 L952.5,541.7 L951.5,542.6 L950.3,543.6 L948.9,544.6 L947.1,545.6 L944.8,546.6 L942.1,547.7 L939.0,548.8 L935.8,549.9 L932.4,551.0 L928.9,552.1 L925.6,553.3 L922.5,554.5 L919.5,555.7 L916.7,556.9 L913.9,558.2 L911.1,559.4 L908.3,560.7 L905.5,562.0 L902.6,563.5 L899.5,565.1 L896.2,566.9 L892.5,569.0 L888.6,571.2 L884.7,573.5 L881.0,575.7 L877.7,577.7 L874.9,579.4 L872.8,580.7 L873.2,581.3 L875.3,580.2 L878.2,578.6 L881.6,576.8 L885.4,574.7 L889.4,572.6 L893.3,570.5 L897.1,568.6 L900.5,566.9 L903.5,565.5 L906.5,564.2 L909.3,563.0 L912.1,561.8 L914.9,560.7 L917.7,559.6 L920.6,558.5 L923.5,557.5 L926.7,556.4 L930.0,555.4 L933.4,554.4 L936.9,553.4 L940.2,552.5 L943.4,551.5 L946.3,550.5 L948.9,549.4 L951.1,548.3 L952.9,547.2 L954.4,546.1 L955.7,544.9 L956.8,543.8 L957.8,542.7 L958.7,541.7 L959.8,540.6 L960.9,539.4 L961.9,538.1 L962.9,536.9 L963.8,535.6 L964.6,534.5 L965.5,533.4 L966.4,532.5 L967.3,531.6 L968.5,530.7 L969.6,529.9 L970.9,529.0 L972.2,528.3 L973.5,527.5 L974.9,526.8 L976.5,526.2 L978.1,525.5 L979.7,525.0 L981.5,524.5 L983.4,524.0 L985.5,523.6 L987.6,523.1 L989.9,522.7 L992.3,522.1 L994.8,521.4 L997.4,520.6 L1000.4,519.7 L1003.5,518.7 L1006.6,517.7 L1009.6,516.7 L1012.3,515.8 L1014.6,515.1 L1016.2,514.5 Z"/><path d="M953.8,541.4 L953.5,542.7 L953.0,544.4 L952.4,546.4 L951.7,548.8 L951.0,551.5 L950.5,554.2 L950.3,557.2 L950.3,560.1 L950.8,563.2 L951.8,566.5 L953.0,569.8 L954.3,573.2 L955.5,576.6 L956.6,579.8 L957.3,582.8 L957.5,585.5 L957.2,588.0 L956.4,590.6 L955.3,593.1 L953.9,595.5 L952.5,597.8 L951.2,599.8 L950.1,601.5 L949.3,602.8 L949.9,603.2 L950.7,601.9 L951.9,600.3 L953.3,598.3 L954.9,596.1 L956.4,593.7 L957.7,591.1 L958.8,588.4 L959.3,585.5 L959.2,582.5 L958.7,579.3 L957.8,575.8 L956.7,572.4 L955.6,568.9 L954.7,565.6 L954.0,562.6 L953.7,559.9 L953.8,557.4 L954.2,554.9 L954.8,552.4 L955.5,550.0 L956.3,547.8 L957.1,545.8 L957.7,544.0 L958.2,542.6 Z"/><path d="M927.0,554.2 L927.2,555.8 L927.7,557.9 L928.3,560.3 L928.8,563.0 L929.1,565.6 L929.2,568.3 L928.8,570.8 L927.9,573.0 L926.1,575.3 L923.5,577.9 L920.3,580.5 L916.8,583.1 L913.2,585.6 L909.9,587.8 L907.2,589.7 L905.2,591.2 L905.6,591.6 L907.6,590.4 L910.5,588.7 L913.9,586.7 L917.6,584.4 L921.4,582.0 L924.9,579.5 L927.9,577.0 L930.1,574.4 L931.5,571.6 L932.2,568.6 L932.3,565.5 L932.2,562.5 L931.8,559.7 L931.4,557.2 L931.1,555.2 L931.0,553.8 Z"/><path d="M1018.4,521.0 L1017.5,522.3 L1016.3,524.0 L1014.9,526.1 L1013.3,528.3 L1011.6,530.6 L1009.9,532.8 L1008.2,534.9 L1006.7,536.7 L1005.1,538.3 L1003.3,539.8 L1001.5,541.3 L999.6,542.8 L997.7,544.2 L995.8,545.6 L994.1,547.0 L992.5,548.5 L991.1,549.8 L989.9,551.0 L988.7,552.2 L987.7,553.4 L986.6,554.6 L985.6,555.9 L984.6,557.4 L983.5,559.1 L982.3,561.1 L981.1,563.2 L979.8,565.5 L978.6,567.9 L977.4,570.4 L976.2,572.8 L975.1,575.3 L974.1,577.6 L973.2,580.0 L972.3,582.6 L971.4,585.2 L970.7,587.8 L969.9,590.3 L969.3,592.5 L968.8,594.3 L968.4,595.7 L969.0,595.9 L969.5,594.6 L970.2,592.7 L971.0,590.6 L971.8,588.2 L972.8,585.7 L973.8,583.2 L974.8,580.7 L975.9,578.4 L977.0,576.1 L978.2,573.8 L979.5,571.5 L980.9,569.1 L982.2,566.8 L983.6,564.7 L984.9,562.7 L986.1,560.9 L987.3,559.3 L988.3,558.0 L989.3,556.9 L990.3,555.8 L991.4,554.8 L992.5,553.8 L993.7,552.7 L995.1,551.5 L996.7,550.3 L998.4,549.1 L1000.3,547.8 L1002.3,546.5 L1004.3,545.2 L1006.4,543.7 L1008.4,542.2 L1010.3,540.5 L1012.3,538.5 L1014.2,536.4 L1016.2,534.2 L1018.0,531.9 L1019.8,529.7 L1021.3,527.8 L1022.6,526.2 L1023.6,525.0 Z"/><path d="M1013.2,506.3 L1013.4,507.0 L1013.7,508.0 L1014.0,509.2 L1014.4,510.6 L1014.8,512.1 L1015.4,513.7 L1015.9,515.3 L1016.6,516.9 L1017.3,518.4 L1018.1,519.9 L1018.9,521.4 L1019.8,522.8 L1020.6,524.3 L1021.5,525.7 L1022.3,527.0 L1023.2,528.4 L1024.0,529.7 L1025.0,531.0 L1025.9,532.2 L1026.7,533.3 L1027.5,534.3 L1028.2,535.2 L1028.7,536.0 L1029.1,536.8 L1029.4,537.6 L1029.7,538.3 L1029.9,538.9 L1030.1,539.5 L1030.2,540.1 L1030.3,540.8 L1030.3,541.7 L1030.3,542.9 L1030.3,544.3 L1030.3,545.7 L1030.3,547.1 L1030.2,548.5 L1030.1,549.8 L1029.8,551.2 L1029.3,552.6 L1028.7,554.1 L1027.7,555.7 L1026.1,557.6 L1024.2,559.8 L1022.1,562.1 L1020.0,564.5 L1017.9,567.0 L1015.9,569.5 L1014.5,572.1 L1013.4,574.4 L1012.4,576.7 L1011.6,578.9 L1011.0,581.3 L1010.6,583.8 L1010.6,586.4 L1010.9,589.2 L1011.6,592.2 L1012.8,595.5 L1014.7,599.0 L1016.9,602.5 L1019.2,606.1 L1021.6,609.7 L1023.8,613.0 L1025.6,616.1 L1027.0,618.9 L1027.9,621.3 L1028.6,623.5 L1029.2,625.4 L1029.5,627.2 L1029.6,629.0 L1029.5,630.8 L1029.3,632.8 L1028.8,635.0 L1027.9,637.5 L1026.5,640.3 L1024.7,643.3 L1022.7,646.4 L1020.7,649.5 L1018.8,652.6 L1017.2,655.7 L1016.1,658.5 L1015.4,661.1 L1014.9,663.5 L1014.6,665.7 L1014.5,667.9 L1014.6,670.1 L1015.0,672.3 L1015.6,674.6 L1016.5,677.2 L1017.8,680.0 L1019.6,683.3 L1021.8,686.7 L1024.1,690.1 L1026.5,693.4 L1028.6,696.3 L1030.4,698.8 L1031.7,700.6 L1032.3,700.2 L1031.1,698.3 L1029.5,695.7 L1027.4,692.7 L1025.3,689.3 L1023.1,685.9 L1021.1,682.4 L1019.5,679.2 L1018.3,676.4 L1017.6,674.1 L1017.1,671.9 L1016.9,669.8 L1016.8,667.9 L1017.0,666.0 L1017.4,664.0 L1017.9,661.8 L1018.7,659.5 L1019.8,656.9 L1021.4,654.2 L1023.4,651.2 L1025.5,648.2 L1027.6,645.1 L1029.6,642.1 L1031.3,639.1 L1032.4,636.2 L1033.2,633.6 L1033.6,631.2 L1033.8,629.0 L1033.7,626.8 L1033.4,624.6 L1032.9,622.3 L1032.2,619.9 L1031.2,617.1 L1029.9,614.0 L1028.1,610.5 L1025.9,606.9 L1023.7,603.3 L1021.5,599.7 L1019.6,596.3 L1018.1,593.2 L1017.2,590.6 L1016.8,588.3 L1016.7,586.3 L1016.8,584.4 L1017.2,582.7 L1017.7,581.0 L1018.4,579.2 L1019.3,577.3 L1020.3,575.3 L1021.6,573.4 L1023.2,571.4 L1025.2,569.2 L1027.3,567.0 L1029.6,564.8 L1031.7,562.5 L1033.7,560.3 L1035.3,557.9 L1036.5,555.6 L1037.3,553.4 L1037.8,551.3 L1038.2,549.3 L1038.3,547.5 L1038.4,545.9 L1038.5,544.4 L1038.5,543.1 L1038.6,541.8 L1038.6,540.5 L1038.5,539.2 L1038.4,538.0 L1038.1,536.8 L1037.8,535.6 L1037.4,534.5 L1036.9,533.2 L1036.2,531.9 L1035.5,530.5 L1034.7,529.3 L1033.8,528.1 L1033.0,526.9 L1032.2,525.8 L1031.5,524.7 L1030.8,523.6 L1030.1,522.4 L1029.4,521.0 L1028.6,519.7 L1027.9,518.3 L1027.2,516.9 L1026.5,515.6 L1025.9,514.3 L1025.4,513.1 L1025.0,512.0 L1024.6,510.7 L1024.2,509.4 L1023.9,508.0 L1023.6,506.7 L1023.3,505.5 L1023.0,504.5 L1022.8,503.7 Z"/><path d="M1014.4,587.8 L1011.9,588.5 L1008.4,589.4 L1004.2,590.3 L999.5,591.5 L994.6,592.9 L989.7,594.6 L985.2,596.5 L981.1,598.8 L977.6,601.6 L974.6,604.8 L971.9,608.3 L969.3,612.0 L966.7,615.7 L964.0,619.3 L961.1,622.8 L957.8,625.9 L953.8,628.9 L949.1,632.1 L944.1,635.2 L938.9,638.2 L934.0,640.9 L929.4,643.4 L925.6,645.5 L922.9,647.1 L923.1,647.7 L926.0,646.2 L929.8,644.2 L934.4,641.9 L939.5,639.3 L944.8,636.4 L950.0,633.5 L954.8,630.5 L959.0,627.5 L962.6,624.3 L965.8,620.9 L968.7,617.2 L971.4,613.6 L974.1,610.1 L976.8,606.8 L979.7,603.9 L982.9,601.6 L986.6,599.6 L991.0,598.0 L995.7,596.5 L1000.5,595.4 L1005.1,594.4 L1009.3,593.5 L1012.9,592.8 L1015.6,592.2 Z"/><path d="M1029.3,636.3 L1029.9,637.3 L1030.6,638.5 L1031.5,640.0 L1032.5,641.6 L1033.6,643.4 L1034.7,645.2 L1036.0,646.9 L1037.3,648.6 L1038.7,650.2 L1040.4,651.9 L1042.1,653.7 L1044.0,655.5 L1045.7,657.1 L1047.3,658.6 L1048.6,659.8 L1049.6,660.8 L1050.0,660.4 L1049.1,659.4 L1047.8,658.1 L1046.4,656.5 L1044.8,654.7 L1043.1,652.8 L1041.5,650.9 L1040.0,649.1 L1038.7,647.4 L1037.6,645.8 L1036.6,644.0 L1035.6,642.2 L1034.7,640.4 L1033.8,638.7 L1033.1,637.2 L1032.4,635.9 L1031.9,634.9 Z"/><path d="M1028.0,554.9 L1029.2,556.2 L1030.9,557.9 L1032.9,559.9 L1035.1,562.1 L1037.4,564.5 L1039.5,566.8 L1041.4,569.1 L1043.0,571.3 L1044.4,573.4 L1045.5,575.3 L1046.6,577.3 L1047.6,579.3 L1048.4,581.4 L1049.2,583.6 L1050.0,586.1 L1050.7,588.8 L1051.3,591.8 L1051.8,595.1 L1052.2,598.6 L1052.5,602.3 L1052.8,606.1 L1053.2,610.1 L1053.6,614.1 L1054.2,618.2 L1054.8,622.3 L1055.3,626.6 L1055.9,631.1 L1056.5,635.6 L1057.3,640.2 L1058.2,644.8 L1059.3,649.2 L1060.7,653.6 L1062.6,658.1 L1064.9,662.7 L1067.6,667.4 L1070.3,672.0 L1073.0,676.3 L1075.5,680.2 L1077.6,683.4 L1079.0,685.9 L1079.6,685.5 L1078.2,683.0 L1076.2,679.7 L1073.9,675.8 L1071.3,671.4 L1068.7,666.8 L1066.3,662.0 L1064.1,657.4 L1062.5,653.0 L1061.2,648.7 L1060.3,644.3 L1059.5,639.8 L1059.0,635.3 L1058.5,630.8 L1058.1,626.3 L1057.7,622.0 L1057.2,617.8 L1056.8,613.8 L1056.5,609.8 L1056.3,605.9 L1056.1,602.0 L1055.9,598.3 L1055.6,594.7 L1055.2,591.2 L1054.7,588.0 L1054.0,585.0 L1053.3,582.3 L1052.5,579.9 L1051.6,577.5 L1050.6,575.3 L1049.5,573.1 L1048.3,571.0 L1047.0,568.7 L1045.3,566.2 L1043.3,563.7 L1041.1,561.1 L1038.9,558.6 L1036.7,556.2 L1034.8,554.2 L1033.2,552.4 L1032.0,551.1 Z"/><path d="M1044.6,572.2 L1047.0,572.6 L1050.3,573.2 L1054.1,573.8 L1058.4,574.5 L1062.9,575.3 L1067.5,576.2 L1071.8,577.2 L1075.8,578.2 L1079.5,579.3 L1083.0,580.5 L1086.4,581.9 L1089.9,583.3 L1093.4,584.7 L1097.2,586.3 L1101.1,587.8 L1105.4,589.4 L1110.3,591.1 L1115.9,593.1 L1121.9,595.1 L1128.0,597.2 L1133.9,599.1 L1139.2,600.9 L1143.6,602.4 L1146.9,603.5 L1147.1,602.9 L1143.9,601.7 L1139.5,600.0 L1134.2,598.1 L1128.5,595.9 L1122.5,593.6 L1116.5,591.4 L1111.0,589.3 L1106.2,587.4 L1102.0,585.7 L1098.1,584.0 L1094.5,582.3 L1091.0,580.7 L1087.5,579.2 L1084.1,577.7 L1080.5,576.3 L1076.8,575.0 L1072.7,573.8 L1068.3,572.6 L1063.7,571.6 L1059.2,570.6 L1054.9,569.7 L1051.0,569.0 L1047.8,568.3 L1045.4,567.8 Z"/><path d="M1053.8,605.0 L1056.2,605.2 L1059.5,605.4 L1063.4,605.5 L1067.6,605.8 L1072.1,606.3 L1076.5,607.1 L1080.6,608.3 L1084.3,610.1 L1088.0,612.6 L1091.9,616.1 L1095.8,620.2 L1099.7,624.6 L1103.4,628.9 L1106.6,632.9 L1109.4,636.3 L1111.5,638.7 L1111.9,638.3 L1110.0,635.8 L1107.4,632.4 L1104.3,628.2 L1100.9,623.7 L1097.2,619.1 L1093.3,614.7 L1089.5,610.9 L1085.7,607.9 L1081.6,605.8 L1077.2,604.3 L1072.6,603.2 L1068.0,602.5 L1063.7,602.0 L1059.8,601.7 L1056.6,601.4 L1054.2,601.0 Z"/><path d="M1025.0,526.2 L1026.5,526.2 L1028.6,526.2 L1031.1,526.1 L1033.7,526.0 L1036.5,525.9 L1039.3,525.9 L1041.9,526.0 L1044.3,526.2 L1046.5,526.4 L1048.7,526.7 L1050.9,527.0 L1053.0,527.4 L1055.1,527.8 L1057.0,528.3 L1058.8,528.9 L1060.5,529.5 L1062.0,530.3 L1063.4,531.2 L1064.8,532.2 L1066.1,533.3 L1067.4,534.4 L1068.7,535.6 L1070.1,536.8 L1071.4,537.9 L1072.5,538.9 L1073.4,539.8 L1074.3,540.9 L1075.3,542.0 L1076.5,543.2 L1077.9,544.2 L1079.6,545.1 L1081.8,545.8 L1084.2,546.2 L1086.9,546.3 L1089.8,546.2 L1092.8,546.1 L1095.9,545.9 L1099.1,545.9 L1102.3,546.2 L1105.5,546.8 L1109.0,547.9 L1113.1,549.4 L1117.4,551.2 L1121.7,553.1 L1125.9,555.0 L1129.6,556.8 L1132.8,558.3 L1135.1,559.3 L1135.5,558.7 L1133.2,557.5 L1130.1,555.9 L1126.4,553.9 L1122.3,551.8 L1118.1,549.7 L1113.8,547.6 L1109.8,545.9 L1106.1,544.6 L1102.7,543.8 L1099.2,543.4 L1095.9,543.2 L1092.7,543.2 L1089.7,543.2 L1087.0,543.2 L1084.6,543.0 L1082.6,542.6 L1081.1,541.9 L1079.9,541.2 L1078.9,540.4 L1078.1,539.5 L1077.2,538.5 L1076.3,537.3 L1075.3,536.1 L1074.0,534.9 L1072.8,533.8 L1071.6,532.6 L1070.3,531.3 L1069.0,530.1 L1067.6,528.8 L1066.1,527.5 L1064.4,526.3 L1062.5,525.3 L1060.5,524.4 L1058.5,523.6 L1056.3,523.0 L1054.1,522.4 L1051.9,521.9 L1049.6,521.4 L1047.3,521.0 L1044.9,520.6 L1042.3,520.3 L1039.5,520.1 L1036.6,520.0 L1033.7,519.9 L1031.0,519.9 L1028.6,519.8 L1026.5,519.8 L1025.0,519.8 Z"/><path d="M1080.5,545.2 L1081.1,546.2 L1081.9,547.6 L1082.9,549.3 L1084.0,551.2 L1085.2,553.2 L1086.7,555.4 L1088.2,557.6 L1089.9,559.8 L1092.0,562.2 L1094.4,564.9 L1097.1,567.8 L1099.8,570.7 L1102.5,573.5 L1104.9,576.1 L1107.0,578.2 L1108.5,579.8 L1108.9,579.4 L1107.6,577.7 L1105.7,575.4 L1103.4,572.7 L1101.0,569.7 L1098.5,566.6 L1096.0,563.5 L1093.9,560.7 L1092.1,558.2 L1090.6,556.0 L1089.3,553.7 L1088.1,551.5 L1087.0,549.5 L1086.1,547.6 L1085.2,545.8 L1084.5,544.4 L1083.9,543.2 Z"/></g><g transform="translate(1073.1,163) rotate(-51)"><path d="M0.8,0.0 L1.2,0.2 L1.6,0.5 L2.2,0.9 L2.8,1.3 L3.5,1.8 L4.0,2.5 L4.7,3.2 L5.3,4.1 L6.0,5.0 L6.6,6.0 L7.1,7.1 L7.3,8.2 L7.2,9.3 L6.7,10.5 L6.1,11.8 L5.5,13.1 L5.0,14.3 L4.9,15.6 L5.0,16.8 L5.5,18.0 L6.1,19.3 L6.6,20.5 L7.1,21.7 L7.3,23.0 L7.2,24.2 L6.8,25.5 L6.3,26.8 L5.8,28.0 L5.3,29.2 L5.1,30.3 L5.2,31.4 L5.5,32.3 L5.9,33.2 L6.2,34.1 L6.5,34.9 L6.5,35.7 L6.2,36.5 L5.8,37.2 L5.3,38.0 L4.7,38.7 L4.1,39.3 L3.5,39.8 L3.0,40.2 L2.4,40.5 L1.8,40.7 L1.2,40.9 L0.6,41.0 L0.0,41.0 L-0.6,41.0 L-1.1,40.9 L-1.7,40.7 L-2.3,40.5 L-2.8,40.2 L-3.3,39.8 L-3.9,39.3 L-4.5,38.7 L-5.0,38.0 L-5.5,37.2 L-5.9,36.5 L-6.2,35.7 L-6.1,34.9 L-5.9,34.1 L-5.6,33.2 L-5.2,32.3 L-4.9,31.4 L-4.9,30.3 L-5.1,29.2 L-5.5,28.0 L-6.0,26.8 L-6.4,25.5 L-6.8,24.2 L-6.9,23.0 L-6.7,21.7 L-6.3,20.5 L-5.8,19.3 L-5.2,18.0 L-4.8,16.8 L-4.6,15.6 L-4.8,14.3 L-5.2,13.1 L-5.8,11.8 L-6.4,10.5 L-6.8,9.3 L-6.9,8.2 L-6.7,7.1 L-6.3,6.0 L-5.7,5.0 L-5.1,4.1 L-4.4,3.2 L-3.8,2.5 L-3.3,1.8 L-2.8,1.3 L-2.2,0.9 L-1.7,0.5 L-1.2,0.2 L-0.8,0.0 L-0.4,-0.1 L-0.1,-0.2 L0.2,-0.2 L0.5,-0.1 L0.7,-0.0 L0.8,0.0 Z" fill="url(#podG)" stroke="#4b7139" stroke-width="1.05"/><path d="M2.0,4.1 Q3.4,20.5 1.6,37.7" fill="none" stroke="#6f9a5c" stroke-width="0.8"/><path d="M-5.1,15.6 Q0,17.6 5.1,15.6" fill="none" stroke="#7fa76a" stroke-width="0.7"/><path d="M-5.1,30.3 Q0,32.3 5.1,30.3" fill="none" stroke="#7fa76a" stroke-width="0.7"/></g><g transform="translate(1073.1,163) rotate(-30)"><path d="M0.8,0.0 L1.2,0.3 L1.6,0.6 L2.2,1.1 L2.8,1.6 L3.5,2.2 L4.0,3.0 L4.7,3.9 L5.3,5.0 L6.0,6.1 L6.6,7.4 L7.1,8.7 L7.3,10.0 L7.2,11.4 L6.7,12.9 L6.1,14.4 L5.5,15.9 L5.0,17.5 L4.9,19.0 L5.0,20.5 L5.5,22.0 L6.1,23.5 L6.6,25.0 L7.1,26.5 L7.3,28.0 L7.2,29.5 L6.8,31.1 L6.3,32.7 L5.8,34.2 L5.3,35.6 L5.1,37.0 L5.2,38.2 L5.5,39.4 L5.9,40.5 L6.2,41.5 L6.5,42.5 L6.5,43.5 L6.2,44.5 L5.8,45.4 L5.3,46.3 L4.7,47.1 L4.1,47.9 L3.5,48.5 L3.0,49.0 L2.4,49.4 L1.8,49.7 L1.2,49.9 L0.6,50.0 L0.0,50.0 L-0.6,50.0 L-1.1,49.9 L-1.7,49.7 L-2.3,49.4 L-2.8,49.0 L-3.3,48.5 L-3.9,47.9 L-4.5,47.1 L-5.0,46.3 L-5.5,45.4 L-5.9,44.5 L-6.2,43.5 L-6.1,42.5 L-5.9,41.5 L-5.6,40.5 L-5.2,39.4 L-4.9,38.2 L-4.9,37.0 L-5.1,35.6 L-5.5,34.2 L-6.0,32.7 L-6.4,31.1 L-6.8,29.5 L-6.9,28.0 L-6.7,26.5 L-6.3,25.0 L-5.8,23.5 L-5.2,22.0 L-4.8,20.5 L-4.6,19.0 L-4.8,17.5 L-5.2,15.9 L-5.8,14.4 L-6.4,12.9 L-6.8,11.4 L-6.9,10.0 L-6.7,8.7 L-6.3,7.4 L-5.7,6.1 L-5.1,5.0 L-4.4,3.9 L-3.8,3.0 L-3.3,2.2 L-2.8,1.6 L-2.2,1.1 L-1.7,0.6 L-1.2,0.3 L-0.8,0.0 L-0.4,-0.2 L-0.1,-0.2 L0.2,-0.2 L0.5,-0.1 L0.7,-0.0 L0.8,0.0 Z" fill="url(#podG)" stroke="#4b7139" stroke-width="1.05"/><path d="M2.0,5.0 Q3.4,25.0 1.6,46.0" fill="none" stroke="#6f9a5c" stroke-width="0.8"/><path d="M-5.1,19.0 Q0,21.0 5.1,19.0" fill="none" stroke="#7fa76a" stroke-width="0.7"/><path d="M-5.1,37.0 Q0,39.0 5.1,37.0" fill="none" stroke="#7fa76a" stroke-width="0.7"/></g><g transform="translate(1073.1,163) rotate(15)"><path d="M0.8,0.0 L1.2,0.2 L1.6,0.6 L2.2,0.9 L2.8,1.4 L3.5,2.0 L4.0,2.6 L4.7,3.4 L5.3,4.4 L6.0,5.4 L6.6,6.5 L7.1,7.6 L7.3,8.8 L7.2,10.0 L6.7,11.3 L6.1,12.7 L5.5,14.0 L5.0,15.4 L4.9,16.7 L5.0,18.0 L5.5,19.4 L6.1,20.7 L6.6,22.0 L7.1,23.3 L7.3,24.6 L7.2,26.0 L6.8,27.4 L6.3,28.7 L5.8,30.1 L5.3,31.4 L5.1,32.6 L5.2,33.7 L5.5,34.7 L5.9,35.6 L6.2,36.6 L6.5,37.4 L6.5,38.3 L6.2,39.1 L5.8,40.0 L5.3,40.8 L4.7,41.5 L4.1,42.1 L3.5,42.7 L3.0,43.1 L2.4,43.4 L1.8,43.7 L1.2,43.9 L0.6,44.0 L0.0,44.0 L-0.6,44.0 L-1.1,43.9 L-1.7,43.7 L-2.3,43.4 L-2.8,43.1 L-3.3,42.7 L-3.9,42.1 L-4.5,41.5 L-5.0,40.8 L-5.5,40.0 L-5.9,39.1 L-6.2,38.3 L-6.1,37.4 L-5.9,36.6 L-5.6,35.6 L-5.2,34.7 L-4.9,33.7 L-4.9,32.6 L-5.1,31.4 L-5.5,30.1 L-6.0,28.7 L-6.4,27.4 L-6.8,26.0 L-6.9,24.6 L-6.7,23.3 L-6.3,22.0 L-5.8,20.7 L-5.2,19.4 L-4.8,18.0 L-4.6,16.7 L-4.8,15.4 L-5.2,14.0 L-5.8,12.6 L-6.4,11.3 L-6.8,10.0 L-6.9,8.8 L-6.7,7.6 L-6.3,6.5 L-5.7,5.4 L-5.1,4.4 L-4.4,3.4 L-3.8,2.6 L-3.3,2.0 L-2.8,1.4 L-2.2,0.9 L-1.7,0.6 L-1.2,0.2 L-0.8,0.0 L-0.4,-0.2 L-0.1,-0.2 L0.2,-0.2 L0.5,-0.1 L0.7,-0.0 L0.8,0.0 Z" fill="url(#podG)" stroke="#4b7139" stroke-width="1.05"/><path d="M2.0,4.4 Q3.4,22.0 1.6,40.5" fill="none" stroke="#6f9a5c" stroke-width="0.8"/><path d="M-5.1,16.7 Q0,18.7 5.1,16.7" fill="none" stroke="#7fa76a" stroke-width="0.7"/><path d="M-5.1,32.6 Q0,34.6 5.1,32.6" fill="none" stroke="#7fa76a" stroke-width="0.7"/></g><g transform="translate(1073.1,163) rotate(-11)"><path d="M0.8,0.0 L1.2,0.3 L1.6,0.7 L2.2,1.2 L2.8,1.8 L3.5,2.5 L4.0,3.4 L4.7,4.4 L5.3,5.6 L6.0,6.9 L6.6,8.3 L7.1,9.7 L7.3,11.2 L7.2,12.8 L6.7,14.4 L6.1,16.1 L5.5,17.8 L5.0,19.6 L4.9,21.3 L5.0,23.0 L5.5,24.6 L6.1,26.3 L6.6,28.0 L7.1,29.7 L7.3,31.4 L7.2,33.1 L6.8,34.8 L6.3,36.6 L5.8,38.3 L5.3,39.9 L5.1,41.4 L5.2,42.8 L5.5,44.1 L5.9,45.4 L6.2,46.5 L6.5,47.6 L6.5,48.7 L6.2,49.8 L5.8,50.9 L5.3,51.9 L4.7,52.8 L4.1,53.6 L3.5,54.3 L3.0,54.9 L2.4,55.3 L1.8,55.6 L1.2,55.8 L0.6,56.0 L0.0,56.0 L-0.6,56.0 L-1.1,55.8 L-1.7,55.6 L-2.3,55.3 L-2.8,54.9 L-3.3,54.3 L-3.9,53.6 L-4.5,52.8 L-5.0,51.9 L-5.5,50.9 L-5.9,49.8 L-6.2,48.7 L-6.1,47.6 L-5.9,46.5 L-5.6,45.4 L-5.2,44.1 L-4.9,42.8 L-4.9,41.4 L-5.1,39.9 L-5.5,38.3 L-6.0,36.6 L-6.4,34.8 L-6.8,33.1 L-6.9,31.4 L-6.7,29.7 L-6.3,28.0 L-5.8,26.3 L-5.2,24.6 L-4.8,23.0 L-4.6,21.3 L-4.8,19.6 L-5.2,17.8 L-5.8,16.1 L-6.4,14.4 L-6.8,12.8 L-6.9,11.2 L-6.7,9.7 L-6.3,8.3 L-5.7,6.9 L-5.1,5.6 L-4.4,4.4 L-3.8,3.4 L-3.3,2.5 L-2.8,1.8 L-2.2,1.2 L-1.7,0.7 L-1.2,0.3 L-0.8,0.0 L-0.4,-0.2 L-0.1,-0.2 L0.2,-0.2 L0.5,-0.1 L0.7,-0.0 L0.8,0.0 Z" fill="url(#podG)" stroke="#4b7139" stroke-width="1.05"/><path d="M2.0,5.6 Q3.4,28.0 1.6,51.5" fill="none" stroke="#6f9a5c" stroke-width="0.8"/><path d="M-5.1,21.3 Q0,23.3 5.1,21.3" fill="none" stroke="#7fa76a" stroke-width="0.7"/><path d="M-5.1,41.4 Q0,43.4 5.1,41.4" fill="none" stroke="#7fa76a" stroke-width="0.7"/></g><g transform="translate(986.6,389) rotate(-16)"><path d="M0.8,0.0 L1.2,0.3 L1.6,0.6 L2.2,1.0 L2.8,1.6 L3.5,2.2 L4.0,2.9 L4.7,3.8 L5.3,4.9 L6.0,6.0 L6.6,7.2 L7.1,8.5 L7.3,9.8 L7.2,11.2 L6.7,12.6 L6.1,14.1 L5.5,15.6 L5.0,17.1 L4.9,18.6 L5.0,20.1 L5.5,21.6 L6.1,23.0 L6.6,24.5 L7.1,26.0 L7.3,27.4 L7.2,28.9 L6.8,30.5 L6.3,32.0 L5.8,33.5 L5.3,34.9 L5.1,36.3 L5.2,37.5 L5.5,38.6 L5.9,39.7 L6.2,40.7 L6.5,41.7 L6.5,42.6 L6.2,43.6 L5.8,44.5 L5.3,45.4 L4.7,46.2 L4.1,46.9 L3.5,47.5 L3.0,48.0 L2.4,48.4 L1.8,48.7 L1.2,48.9 L0.6,49.0 L0.0,49.0 L-0.6,49.0 L-1.1,48.9 L-1.7,48.7 L-2.3,48.4 L-2.8,48.0 L-3.3,47.5 L-3.9,46.9 L-4.5,46.2 L-5.0,45.4 L-5.5,44.5 L-5.9,43.6 L-6.2,42.6 L-6.1,41.7 L-5.9,40.7 L-5.6,39.7 L-5.2,38.6 L-4.9,37.5 L-4.9,36.3 L-5.1,34.9 L-5.5,33.5 L-6.0,32.0 L-6.4,30.5 L-6.8,28.9 L-6.9,27.4 L-6.7,26.0 L-6.3,24.5 L-5.8,23.0 L-5.2,21.6 L-4.8,20.1 L-4.6,18.6 L-4.8,17.1 L-5.2,15.6 L-5.8,14.1 L-6.4,12.6 L-6.8,11.2 L-6.9,9.8 L-6.7,8.5 L-6.3,7.2 L-5.7,6.0 L-5.1,4.9 L-4.4,3.8 L-3.8,2.9 L-3.3,2.2 L-2.8,1.6 L-2.2,1.0 L-1.7,0.6 L-1.2,0.3 L-0.8,0.0 L-0.4,-0.2 L-0.1,-0.2 L0.2,-0.2 L0.5,-0.1 L0.7,-0.0 L0.8,0.0 Z" fill="url(#podG)" stroke="#4b7139" stroke-width="1.05"/><path d="M2.0,4.9 Q3.4,24.5 1.6,45.1" fill="none" stroke="#6f9a5c" stroke-width="0.8"/><path d="M-5.1,18.6 Q0,20.6 5.1,18.6" fill="none" stroke="#7fa76a" stroke-width="0.7"/><path d="M-5.1,36.3 Q0,38.3 5.1,36.3" fill="none" stroke="#7fa76a" stroke-width="0.7"/></g><g transform="translate(986.6,389) rotate(41)"><path d="M0.8,0.0 L1.2,0.3 L1.6,0.6 L2.2,1.0 L2.8,1.5 L3.5,2.1 L4.0,2.8 L4.7,3.6 L5.3,4.6 L6.0,5.6 L6.6,6.8 L7.1,8.0 L7.3,9.2 L7.2,10.5 L6.7,11.8 L6.1,13.2 L5.5,14.7 L5.0,16.1 L4.9,17.5 L5.0,18.9 L5.5,20.2 L6.1,21.6 L6.6,23.0 L7.1,24.4 L7.3,25.8 L7.2,27.2 L6.8,28.6 L6.3,30.0 L5.8,31.5 L5.3,32.8 L5.1,34.0 L5.2,35.2 L5.5,36.3 L5.9,37.3 L6.2,38.2 L6.5,39.1 L6.5,40.0 L6.2,40.9 L5.8,41.8 L5.3,42.6 L4.7,43.4 L4.1,44.1 L3.5,44.6 L3.0,45.1 L2.4,45.4 L1.8,45.7 L1.2,45.9 L0.6,46.0 L0.0,46.0 L-0.6,46.0 L-1.1,45.9 L-1.7,45.7 L-2.3,45.4 L-2.8,45.1 L-3.3,44.6 L-3.9,44.1 L-4.5,43.4 L-5.0,42.6 L-5.5,41.8 L-5.9,40.9 L-6.2,40.0 L-6.1,39.1 L-5.9,38.2 L-5.6,37.3 L-5.2,36.3 L-4.9,35.2 L-4.9,34.0 L-5.1,32.8 L-5.5,31.5 L-6.0,30.0 L-6.4,28.6 L-6.8,27.2 L-6.9,25.8 L-6.7,24.4 L-6.3,23.0 L-5.8,21.6 L-5.2,20.2 L-4.8,18.9 L-4.6,17.5 L-4.8,16.1 L-5.2,14.7 L-5.8,13.2 L-6.4,11.8 L-6.8,10.5 L-6.9,9.2 L-6.7,8.0 L-6.3,6.8 L-5.7,5.6 L-5.1,4.6 L-4.4,3.6 L-3.8,2.8 L-3.3,2.1 L-2.8,1.5 L-2.2,1.0 L-1.7,0.6 L-1.2,0.3 L-0.8,0.0 L-0.4,-0.2 L-0.1,-0.2 L0.2,-0.2 L0.5,-0.1 L0.7,-0.0 L0.8,0.0 Z" fill="url(#podG)" stroke="#4b7139" stroke-width="1.05"/><path d="M2.0,4.6 Q3.4,23.0 1.6,42.3" fill="none" stroke="#6f9a5c" stroke-width="0.8"/><path d="M-5.1,17.5 Q0,19.5 5.1,17.5" fill="none" stroke="#7fa76a" stroke-width="0.7"/><path d="M-5.1,34.0 Q0,36.0 5.1,34.0" fill="none" stroke="#7fa76a" stroke-width="0.7"/></g><g transform="translate(986.6,389) rotate(7)"><path d="M0.8,0.0 L1.2,0.2 L1.6,0.5 L2.2,0.8 L2.8,1.1 L3.5,1.6 L4.0,2.2 L4.7,2.8 L5.3,3.6 L6.0,4.4 L6.6,5.3 L7.1,6.2 L7.3,7.2 L7.2,8.2 L6.7,9.3 L6.1,10.3 L5.5,11.5 L5.0,12.6 L4.9,13.7 L5.0,14.8 L5.5,15.8 L6.1,16.9 L6.6,18.0 L7.1,19.1 L7.3,20.2 L7.2,21.3 L6.8,22.4 L6.3,23.5 L5.8,24.6 L5.3,25.7 L5.1,26.6 L5.2,27.5 L5.5,28.4 L5.9,29.2 L6.2,29.9 L6.5,30.6 L6.5,31.3 L6.2,32.0 L5.8,32.7 L5.3,33.3 L4.7,33.9 L4.1,34.5 L3.5,34.9 L3.0,35.3 L2.4,35.5 L1.8,35.8 L1.2,35.9 L0.6,36.0 L0.0,36.0 L-0.6,36.0 L-1.1,35.9 L-1.7,35.8 L-2.3,35.5 L-2.8,35.3 L-3.3,34.9 L-3.9,34.5 L-4.5,33.9 L-5.0,33.3 L-5.5,32.7 L-5.9,32.0 L-6.2,31.3 L-6.1,30.6 L-5.9,29.9 L-5.6,29.2 L-5.2,28.4 L-4.9,27.5 L-4.9,26.6 L-5.1,25.7 L-5.5,24.6 L-6.0,23.5 L-6.4,22.4 L-6.8,21.3 L-6.9,20.2 L-6.7,19.1 L-6.3,18.0 L-5.8,16.9 L-5.2,15.8 L-4.8,14.8 L-4.6,13.7 L-4.8,12.6 L-5.2,11.5 L-5.8,10.3 L-6.4,9.3 L-6.8,8.2 L-6.9,7.2 L-6.7,6.2 L-6.3,5.3 L-5.7,4.4 L-5.1,3.6 L-4.4,2.8 L-3.8,2.2 L-3.3,1.6 L-2.8,1.1 L-2.2,0.8 L-1.7,0.5 L-1.2,0.2 L-0.8,0.0 L-0.4,-0.1 L-0.1,-0.2 L0.2,-0.1 L0.5,-0.1 L0.7,-0.0 L0.8,0.0 Z" fill="url(#podG)" stroke="#4b7139" stroke-width="1.05"/><path d="M2.0,3.6 Q3.4,18.0 1.6,33.1" fill="none" stroke="#6f9a5c" stroke-width="0.8"/><path d="M-5.1,13.7 Q0,15.7 5.1,13.7" fill="none" stroke="#7fa76a" stroke-width="0.7"/><path d="M-5.1,26.6 Q0,28.6 5.1,26.6" fill="none" stroke="#7fa76a" stroke-width="0.7"/></g><g transform="translate(986.6,389) rotate(15)"><path d="M0.8,0.0 L1.2,0.2 L1.6,0.6 L2.2,0.9 L2.8,1.4 L3.5,2.0 L4.0,2.6 L4.7,3.4 L5.3,4.4 L6.0,5.4 L6.6,6.5 L7.1,7.6 L7.3,8.8 L7.2,10.0 L6.7,11.3 L6.1,12.7 L5.5,14.0 L5.0,15.4 L4.9,16.7 L5.0,18.0 L5.5,19.4 L6.1,20.7 L6.6,22.0 L7.1,23.3 L7.3,24.6 L7.2,26.0 L6.8,27.4 L6.3,28.7 L5.8,30.1 L5.3,31.4 L5.1,32.6 L5.2,33.7 L5.5,34.7 L5.9,35.6 L6.2,36.6 L6.5,37.4 L6.5,38.3 L6.2,39.1 L5.8,40.0 L5.3,40.8 L4.7,41.5 L4.1,42.1 L3.5,42.7 L3.0,43.1 L2.4,43.4 L1.8,43.7 L1.2,43.9 L0.6,44.0 L0.0,44.0 L-0.6,44.0 L-1.1,43.9 L-1.7,43.7 L-2.3,43.4 L-2.8,43.1 L-3.3,42.7 L-3.9,42.1 L-4.5,41.5 L-5.0,40.8 L-5.5,40.0 L-5.9,39.1 L-6.2,38.3 L-6.1,37.4 L-5.9,36.6 L-5.6,35.6 L-5.2,34.7 L-4.9,33.7 L-4.9,32.6 L-5.1,31.4 L-5.5,30.1 L-6.0,28.7 L-6.4,27.4 L-6.8,26.0 L-6.9,24.6 L-6.7,23.3 L-6.3,22.0 L-5.8,20.7 L-5.2,19.4 L-4.8,18.0 L-4.6,16.7 L-4.8,15.4 L-5.2,14.0 L-5.8,12.6 L-6.4,11.3 L-6.8,10.0 L-6.9,8.8 L-6.7,7.6 L-6.3,6.5 L-5.7,5.4 L-5.1,4.4 L-4.4,3.4 L-3.8,2.6 L-3.3,2.0 L-2.8,1.4 L-2.2,0.9 L-1.7,0.6 L-1.2,0.2 L-0.8,0.0 L-0.4,-0.2 L-0.1,-0.2 L0.2,-0.2 L0.5,-0.1 L0.7,-0.0 L0.8,0.0 Z" fill="url(#podG)" stroke="#4b7139" stroke-width="1.05"/><path d="M2.0,4.4 Q3.4,22.0 1.6,40.5" fill="none" stroke="#6f9a5c" stroke-width="0.8"/><path d="M-5.1,16.7 Q0,18.7 5.1,16.7" fill="none" stroke="#7fa76a" stroke-width="0.7"/><path d="M-5.1,32.6 Q0,34.6 5.1,32.6" fill="none" stroke="#7fa76a" stroke-width="0.7"/></g><g transform="translate(1034.3,441) rotate(-49)"><path d="M0.8,0.0 L1.2,0.2 L1.6,0.5 L2.2,0.9 L2.8,1.4 L3.5,1.9 L4.0,2.6 L4.7,3.4 L5.3,4.3 L6.0,5.3 L6.6,6.3 L7.1,7.5 L7.3,8.6 L7.2,9.8 L6.7,11.1 L6.1,12.4 L5.5,13.7 L5.0,15.0 L4.9,16.3 L5.0,17.6 L5.5,18.9 L6.1,20.2 L6.6,21.5 L7.1,22.8 L7.3,24.1 L7.2,25.4 L6.8,26.7 L6.3,28.1 L5.8,29.4 L5.3,30.7 L5.1,31.8 L5.2,32.9 L5.5,33.9 L5.9,34.8 L6.2,35.7 L6.5,36.6 L6.5,37.4 L6.2,38.2 L5.8,39.1 L5.3,39.8 L4.7,40.5 L4.1,41.2 L3.5,41.7 L3.0,42.1 L2.4,42.5 L1.8,42.7 L1.2,42.9 L0.6,43.0 L0.0,43.0 L-0.6,43.0 L-1.1,42.9 L-1.7,42.7 L-2.3,42.5 L-2.8,42.1 L-3.3,41.7 L-3.9,41.2 L-4.5,40.5 L-5.0,39.8 L-5.5,39.1 L-5.9,38.2 L-6.2,37.4 L-6.1,36.6 L-5.9,35.7 L-5.6,34.8 L-5.2,33.9 L-4.9,32.9 L-4.9,31.8 L-5.1,30.7 L-5.5,29.4 L-6.0,28.1 L-6.4,26.7 L-6.8,25.4 L-6.9,24.1 L-6.7,22.8 L-6.3,21.5 L-5.8,20.2 L-5.2,18.9 L-4.8,17.6 L-4.6,16.3 L-4.8,15.0 L-5.2,13.7 L-5.8,12.4 L-6.4,11.1 L-6.8,9.8 L-6.9,8.6 L-6.7,7.5 L-6.3,6.3 L-5.7,5.3 L-5.1,4.3 L-4.4,3.4 L-3.8,2.6 L-3.3,1.9 L-2.8,1.4 L-2.2,0.9 L-1.7,0.5 L-1.2,0.2 L-0.8,0.0 L-0.4,-0.1 L-0.1,-0.2 L0.2,-0.2 L0.5,-0.1 L0.7,-0.0 L0.8,0.0 Z" fill="url(#podG)" stroke="#4b7139" stroke-width="1.05"/><path d="M2.0,4.3 Q3.4,21.5 1.6,39.6" fill="none" stroke="#6f9a5c" stroke-width="0.8"/><path d="M-5.1,16.3 Q0,18.3 5.1,16.3" fill="none" stroke="#7fa76a" stroke-width="0.7"/><path d="M-5.1,31.8 Q0,33.8 5.1,31.8" fill="none" stroke="#7fa76a" stroke-width="0.7"/></g><g transform="translate(1034.3,441) rotate(-27)"><path d="M0.8,0.0 L1.2,0.3 L1.6,0.6 L2.2,1.0 L2.8,1.5 L3.5,2.1 L4.0,2.9 L4.7,3.8 L5.3,4.8 L6.0,5.9 L6.6,7.1 L7.1,8.3 L7.3,9.6 L7.2,10.9 L6.7,12.3 L6.1,13.8 L5.5,15.3 L5.0,16.8 L4.9,18.2 L5.0,19.7 L5.5,21.1 L6.1,22.6 L6.6,24.0 L7.1,25.4 L7.3,26.9 L7.2,28.3 L6.8,29.8 L6.3,31.4 L5.8,32.8 L5.3,34.2 L5.1,35.5 L5.2,36.7 L5.5,37.8 L5.9,38.9 L6.2,39.9 L6.5,40.8 L6.5,41.8 L6.2,42.7 L5.8,43.6 L5.3,44.5 L4.7,45.3 L4.1,46.0 L3.5,46.6 L3.0,47.0 L2.4,47.4 L1.8,47.7 L1.2,47.9 L0.6,48.0 L0.0,48.0 L-0.6,48.0 L-1.1,47.9 L-1.7,47.7 L-2.3,47.4 L-2.8,47.0 L-3.3,46.6 L-3.9,46.0 L-4.5,45.3 L-5.0,44.5 L-5.5,43.6 L-5.9,42.7 L-6.2,41.8 L-6.1,40.8 L-5.9,39.9 L-5.6,38.9 L-5.2,37.8 L-4.9,36.7 L-4.9,35.5 L-5.1,34.2 L-5.5,32.8 L-6.0,31.4 L-6.4,29.8 L-6.8,28.3 L-6.9,26.9 L-6.7,25.4 L-6.3,24.0 L-5.8,22.6 L-5.2,21.1 L-4.8,19.7 L-4.6,18.2 L-4.8,16.8 L-5.2,15.3 L-5.8,13.8 L-6.4,12.3 L-6.8,10.9 L-6.9,9.6 L-6.7,8.3 L-6.3,7.1 L-5.7,5.9 L-5.1,4.8 L-4.4,3.8 L-3.8,2.9 L-3.3,2.1 L-2.8,1.5 L-2.2,1.0 L-1.7,0.6 L-1.2,0.3 L-0.8,0.0 L-0.4,-0.2 L-0.1,-0.2 L0.2,-0.2 L0.5,-0.1 L0.7,-0.0 L0.8,0.0 Z" fill="url(#podG)" stroke="#4b7139" stroke-width="1.05"/><path d="M2.0,4.8 Q3.4,24.0 1.6,44.2" fill="none" stroke="#6f9a5c" stroke-width="0.8"/><path d="M-5.1,18.2 Q0,20.2 5.1,18.2" fill="none" stroke="#7fa76a" stroke-width="0.7"/><path d="M-5.1,35.5 Q0,37.5 5.1,35.5" fill="none" stroke="#7fa76a" stroke-width="0.7"/></g><g transform="translate(1034.3,441) rotate(41)"><path d="M0.8,0.0 L1.2,0.3 L1.6,0.6 L2.2,1.0 L2.8,1.4 L3.5,2.0 L4.0,2.7 L4.7,3.5 L5.3,4.5 L6.0,5.5 L6.6,6.6 L7.1,7.8 L7.3,9.0 L7.2,10.2 L6.7,11.6 L6.1,12.9 L5.5,14.3 L5.0,15.7 L4.9,17.1 L5.0,18.5 L5.5,19.8 L6.1,21.2 L6.6,22.5 L7.1,23.9 L7.3,25.2 L7.2,26.6 L6.8,28.0 L6.3,29.4 L5.8,30.8 L5.3,32.1 L5.1,33.3 L5.2,34.4 L5.5,35.5 L5.9,36.4 L6.2,37.4 L6.5,38.3 L6.5,39.1 L6.2,40.0 L5.8,40.9 L5.3,41.7 L4.7,42.4 L4.1,43.1 L3.5,43.6 L3.0,44.1 L2.4,44.4 L1.8,44.7 L1.2,44.9 L0.6,45.0 L0.0,45.0 L-0.6,45.0 L-1.1,44.9 L-1.7,44.7 L-2.3,44.4 L-2.8,44.1 L-3.3,43.6 L-3.9,43.1 L-4.5,42.4 L-5.0,41.7 L-5.5,40.9 L-5.9,40.0 L-6.2,39.1 L-6.1,38.3 L-5.9,37.4 L-5.6,36.4 L-5.2,35.5 L-4.9,34.4 L-4.9,33.3 L-5.1,32.1 L-5.5,30.8 L-6.0,29.4 L-6.4,28.0 L-6.8,26.6 L-6.9,25.2 L-6.7,23.9 L-6.3,22.5 L-5.8,21.2 L-5.2,19.8 L-4.8,18.5 L-4.6,17.1 L-4.8,15.7 L-5.2,14.3 L-5.8,12.9 L-6.4,11.6 L-6.8,10.2 L-6.9,9.0 L-6.7,7.8 L-6.3,6.6 L-5.7,5.5 L-5.1,4.5 L-4.4,3.5 L-3.8,2.7 L-3.3,2.0 L-2.8,1.4 L-2.2,1.0 L-1.7,0.6 L-1.2,0.3 L-0.8,0.0 L-0.4,-0.2 L-0.1,-0.2 L0.2,-0.2 L0.5,-0.1 L0.7,-0.0 L0.8,0.0 Z" fill="url(#podG)" stroke="#4b7139" stroke-width="1.05"/><path d="M2.0,4.5 Q3.4,22.5 1.6,41.4" fill="none" stroke="#6f9a5c" stroke-width="0.8"/><path d="M-5.1,17.1 Q0,19.1 5.1,17.1" fill="none" stroke="#7fa76a" stroke-width="0.7"/><path d="M-5.1,33.3 Q0,35.3 5.1,33.3" fill="none" stroke="#7fa76a" stroke-width="0.7"/></g><g transform="translate(1034.3,441) rotate(-9)"><path d="M0.8,0.0 L1.2,0.3 L1.6,0.7 L2.2,1.2 L2.8,1.8 L3.5,2.5 L4.0,3.4 L4.7,4.4 L5.3,5.6 L6.0,6.9 L6.6,8.3 L7.1,9.7 L7.3,11.2 L7.2,12.8 L6.7,14.4 L6.1,16.1 L5.5,17.8 L5.0,19.6 L4.9,21.3 L5.0,23.0 L5.5,24.6 L6.1,26.3 L6.6,28.0 L7.1,29.7 L7.3,31.4 L7.2,33.1 L6.8,34.8 L6.3,36.6 L5.8,38.3 L5.3,39.9 L5.1,41.4 L5.2,42.8 L5.5,44.1 L5.9,45.4 L6.2,46.5 L6.5,47.6 L6.5,48.7 L6.2,49.8 L5.8,50.9 L5.3,51.9 L4.7,52.8 L4.1,53.6 L3.5,54.3 L3.0,54.9 L2.4,55.3 L1.8,55.6 L1.2,55.8 L0.6,56.0 L0.0,56.0 L-0.6,56.0 L-1.1,55.8 L-1.7,55.6 L-2.3,55.3 L-2.8,54.9 L-3.3,54.3 L-3.9,53.6 L-4.5,52.8 L-5.0,51.9 L-5.5,50.9 L-5.9,49.8 L-6.2,48.7 L-6.1,47.6 L-5.9,46.5 L-5.6,45.4 L-5.2,44.1 L-4.9,42.8 L-4.9,41.4 L-5.1,39.9 L-5.5,38.3 L-6.0,36.6 L-6.4,34.8 L-6.8,33.1 L-6.9,31.4 L-6.7,29.7 L-6.3,28.0 L-5.8,26.3 L-5.2,24.6 L-4.8,23.0 L-4.6,21.3 L-4.8,19.6 L-5.2,17.8 L-5.8,16.1 L-6.4,14.4 L-6.8,12.8 L-6.9,11.2 L-6.7,9.7 L-6.3,8.3 L-5.7,6.9 L-5.1,5.6 L-4.4,4.4 L-3.8,3.4 L-3.3,2.5 L-2.8,1.8 L-2.2,1.2 L-1.7,0.7 L-1.2,0.3 L-0.8,0.0 L-0.4,-0.2 L-0.1,-0.2 L0.2,-0.2 L0.5,-0.1 L0.7,-0.0 L0.8,0.0 Z" fill="url(#podG)" stroke="#4b7139" stroke-width="1.05"/><path d="M2.0,5.6 Q3.4,28.0 1.6,51.5" fill="none" stroke="#6f9a5c" stroke-width="0.8"/><path d="M-5.1,21.3 Q0,23.3 5.1,21.3" fill="none" stroke="#7fa76a" stroke-width="0.7"/><path d="M-5.1,41.4 Q0,43.4 5.1,41.4" fill="none" stroke="#7fa76a" stroke-width="0.7"/></g><g transform="translate(1085.8,382) rotate(-33)"><path d="M0.8,0.0 L1.2,0.3 L1.6,0.6 L2.2,1.1 L2.8,1.6 L3.5,2.2 L4.0,3.0 L4.7,3.9 L5.3,5.0 L6.0,6.1 L6.6,7.4 L7.1,8.7 L7.3,10.0 L7.2,11.4 L6.7,12.9 L6.1,14.4 L5.5,15.9 L5.0,17.5 L4.9,19.0 L5.0,20.5 L5.5,22.0 L6.1,23.5 L6.6,25.0 L7.1,26.5 L7.3,28.0 L7.2,29.5 L6.8,31.1 L6.3,32.7 L5.8,34.2 L5.3,35.6 L5.1,37.0 L5.2,38.2 L5.5,39.4 L5.9,40.5 L6.2,41.5 L6.5,42.5 L6.5,43.5 L6.2,44.5 L5.8,45.4 L5.3,46.3 L4.7,47.1 L4.1,47.9 L3.5,48.5 L3.0,49.0 L2.4,49.4 L1.8,49.7 L1.2,49.9 L0.6,50.0 L0.0,50.0 L-0.6,50.0 L-1.1,49.9 L-1.7,49.7 L-2.3,49.4 L-2.8,49.0 L-3.3,48.5 L-3.9,47.9 L-4.5,47.1 L-5.0,46.3 L-5.5,45.4 L-5.9,44.5 L-6.2,43.5 L-6.1,42.5 L-5.9,41.5 L-5.6,40.5 L-5.2,39.4 L-4.9,38.2 L-4.9,37.0 L-5.1,35.6 L-5.5,34.2 L-6.0,32.7 L-6.4,31.1 L-6.8,29.5 L-6.9,28.0 L-6.7,26.5 L-6.3,25.0 L-5.8,23.5 L-5.2,22.0 L-4.8,20.5 L-4.6,19.0 L-4.8,17.5 L-5.2,15.9 L-5.8,14.4 L-6.4,12.9 L-6.8,11.4 L-6.9,10.0 L-6.7,8.7 L-6.3,7.4 L-5.7,6.1 L-5.1,5.0 L-4.4,3.9 L-3.8,3.0 L-3.3,2.2 L-2.8,1.6 L-2.2,1.1 L-1.7,0.6 L-1.2,0.3 L-0.8,0.0 L-0.4,-0.2 L-0.1,-0.2 L0.2,-0.2 L0.5,-0.1 L0.7,-0.0 L0.8,0.0 Z" fill="url(#podG)" stroke="#4b7139" stroke-width="1.05"/><path d="M2.0,5.0 Q3.4,25.0 1.6,46.0" fill="none" stroke="#6f9a5c" stroke-width="0.8"/><path d="M-5.1,19.0 Q0,21.0 5.1,19.0" fill="none" stroke="#7fa76a" stroke-width="0.7"/><path d="M-5.1,37.0 Q0,39.0 5.1,37.0" fill="none" stroke="#7fa76a" stroke-width="0.7"/></g><g transform="translate(1085.8,382) rotate(38)"><path d="M0.8,0.0 L1.2,0.3 L1.6,0.6 L2.2,1.0 L2.8,1.5 L3.5,2.1 L4.0,2.8 L4.7,3.7 L5.3,4.7 L6.0,5.8 L6.6,6.9 L7.1,8.2 L7.3,9.4 L7.2,10.7 L6.7,12.1 L6.1,13.5 L5.5,15.0 L5.0,16.4 L4.9,17.9 L5.0,19.3 L5.5,20.7 L6.1,22.1 L6.6,23.5 L7.1,24.9 L7.3,26.3 L7.2,27.8 L6.8,29.2 L6.3,30.7 L5.8,32.1 L5.3,33.5 L5.1,34.8 L5.2,36.0 L5.5,37.0 L5.9,38.1 L6.2,39.0 L6.5,40.0 L6.5,40.9 L6.2,41.8 L5.8,42.7 L5.3,43.5 L4.7,44.3 L4.1,45.0 L3.5,45.6 L3.0,46.0 L2.4,46.4 L1.8,46.7 L1.2,46.9 L0.6,47.0 L0.0,47.0 L-0.6,47.0 L-1.1,46.9 L-1.7,46.7 L-2.3,46.4 L-2.8,46.0 L-3.3,45.6 L-3.9,45.0 L-4.5,44.3 L-5.0,43.5 L-5.5,42.7 L-5.9,41.8 L-6.2,40.9 L-6.1,40.0 L-5.9,39.0 L-5.6,38.1 L-5.2,37.0 L-4.9,36.0 L-4.9,34.8 L-5.1,33.5 L-5.5,32.1 L-6.0,30.7 L-6.4,29.2 L-6.8,27.8 L-6.9,26.3 L-6.7,24.9 L-6.3,23.5 L-5.8,22.1 L-5.2,20.7 L-4.8,19.3 L-4.6,17.9 L-4.8,16.4 L-5.2,15.0 L-5.8,13.5 L-6.4,12.1 L-6.8,10.7 L-6.9,9.4 L-6.7,8.2 L-6.3,6.9 L-5.7,5.8 L-5.1,4.7 L-4.4,3.7 L-3.8,2.8 L-3.3,2.1 L-2.8,1.5 L-2.2,1.0 L-1.7,0.6 L-1.2,0.3 L-0.8,0.0 L-0.4,-0.2 L-0.1,-0.2 L0.2,-0.2 L0.5,-0.1 L0.7,-0.0 L0.8,0.0 Z" fill="url(#podG)" stroke="#4b7139" stroke-width="1.05"/><path d="M2.0,4.7 Q3.4,23.5 1.6,43.2" fill="none" stroke="#6f9a5c" stroke-width="0.8"/><path d="M-5.1,17.9 Q0,19.9 5.1,17.9" fill="none" stroke="#7fa76a" stroke-width="0.7"/><path d="M-5.1,34.8 Q0,36.8 5.1,34.8" fill="none" stroke="#7fa76a" stroke-width="0.7"/></g><g transform="translate(1085.8,382) rotate(-12)"><path d="M0.8,0.0 L1.2,0.3 L1.6,0.7 L2.2,1.2 L2.8,1.8 L3.5,2.5 L4.0,3.3 L4.7,4.3 L5.3,5.5 L6.0,6.7 L6.6,8.1 L7.1,9.5 L7.3,11.0 L7.2,12.5 L6.7,14.1 L6.1,15.8 L5.5,17.5 L5.0,19.2 L4.9,20.9 L5.0,22.5 L5.5,24.2 L6.1,25.9 L6.6,27.5 L7.1,29.1 L7.3,30.8 L7.2,32.5 L6.8,34.2 L6.3,35.9 L5.8,37.6 L5.3,39.2 L5.1,40.7 L5.2,42.1 L5.5,43.3 L5.9,44.6 L6.2,45.7 L6.5,46.8 L6.5,47.9 L6.2,48.9 L5.8,49.9 L5.3,50.9 L4.7,51.9 L4.1,52.7 L3.5,53.4 L3.0,53.9 L2.4,54.3 L1.8,54.6 L1.2,54.8 L0.6,55.0 L0.0,55.0 L-0.6,55.0 L-1.1,54.8 L-1.7,54.6 L-2.3,54.3 L-2.8,53.9 L-3.3,53.4 L-3.9,52.7 L-4.5,51.9 L-5.0,50.9 L-5.5,49.9 L-5.9,48.9 L-6.2,47.9 L-6.1,46.8 L-5.9,45.7 L-5.6,44.5 L-5.2,43.3 L-4.9,42.1 L-4.9,40.7 L-5.1,39.2 L-5.5,37.6 L-6.0,35.9 L-6.4,34.2 L-6.8,32.5 L-6.9,30.8 L-6.7,29.2 L-6.3,27.5 L-5.8,25.8 L-5.2,24.2 L-4.8,22.5 L-4.6,20.9 L-4.8,19.2 L-5.2,17.5 L-5.8,15.8 L-6.4,14.1 L-6.8,12.5 L-6.9,11.0 L-6.7,9.5 L-6.3,8.1 L-5.7,6.7 L-5.1,5.5 L-4.4,4.3 L-3.8,3.3 L-3.3,2.5 L-2.8,1.8 L-2.2,1.2 L-1.7,0.7 L-1.2,0.3 L-0.8,0.0 L-0.4,-0.2 L-0.1,-0.2 L0.2,-0.2 L0.5,-0.1 L0.7,-0.0 L0.8,0.0 Z" fill="url(#podG)" stroke="#4b7139" stroke-width="1.05"/><path d="M2.0,5.5 Q3.4,27.5 1.6,50.6" fill="none" stroke="#6f9a5c" stroke-width="0.8"/><path d="M-5.1,20.9 Q0,22.9 5.1,20.9" fill="none" stroke="#7fa76a" stroke-width="0.7"/><path d="M-5.1,40.7 Q0,42.7 5.1,40.7" fill="none" stroke="#7fa76a" stroke-width="0.7"/></g><g transform="translate(1018.5,118.3) rotate(-103.1)"><path d="M0,0 C15.790575670316771,-26.66 44.500713252710895,-27.1932 71.77534395598532,0 C44.500713252710895,27.1932 15.790575670316771,26.66 0,0 Z" fill="url(#leafG)" stroke="#3c5a2b" stroke-width="1.2"/><path d="M2.871013758239413,0 L66.75106987906635,0 M15.8,0 L27.3,-12.5 M15.8,0 L27.3,12.5 M28.7,0 L40.2,-10.9 M28.7,0 L40.2,10.9 M41.6,0 L53.1,-9.4 M41.6,0 L53.1,9.4 M53.1,0 L64.6,-8.0 M53.1,0 L64.6,8.0" fill="none" stroke="#b5d89a" stroke-width="0.8" opacity="0.4"/></g><g transform="translate(1003.7,121.9) rotate(-158.7)"><path d="M0,0 C11.688482194023312,-17.329 32.940268001338424,-17.67558 53.12946451828778,0 C32.940268001338424,17.67558 11.688482194023312,17.329 0,0 Z" fill="url(#leafG)" stroke="#3c5a2b" stroke-width="1.2"/><path d="M2.1251785807315113,0 L49.41040200200764,0 M11.7,0 L20.2,-8.1 M11.7,0 L20.2,8.1 M21.3,0 L29.8,-7.1 M21.3,0 L29.8,7.1 M30.8,0 L39.3,-6.1 M30.8,0 L39.3,6.1 M39.3,0 L47.8,-5.2 M39.3,0 L47.8,5.2" fill="none" stroke="#b5d89a" stroke-width="0.8" opacity="0.4"/></g><g transform="translate(1028.9,125.4) rotate(-41.6)"><path d="M0,0 C11.765887131874077,-18.662 33.15840918982695,-19.035239999999998 53.48130514488217,0 C33.15840918982695,19.035239999999998 11.765887131874077,18.662 0,0 Z" fill="url(#leafG)" stroke="#3c5a2b" stroke-width="1.2"/><path d="M2.139252205795287,0 L49.737613784740425,0 M11.8,0 L20.3,-8.7 M11.8,0 L20.3,8.7 M21.4,0 L29.9,-7.7 M21.4,0 L29.9,7.7 M31.0,0 L39.6,-6.6 M31.0,0 L39.6,6.6 M39.6,0 L48.1,-5.6 M39.6,0 L48.1,5.6" fill="none" stroke="#b5d89a" stroke-width="0.8" opacity="0.4"/></g><g transform="translate(1101.5,102.6) rotate(-100.8)"><path d="M0,0 C11.490088424376896,-18.662 32.38115828688034,-19.035239999999998 52.22767465625862,0 C32.38115828688034,19.035239999999998 11.490088424376896,18.662 0,0 Z" fill="url(#leafG)" stroke="#3c5a2b" stroke-width="1.2"/><path d="M2.089106986250345,0 L48.57173743032052,0 M11.5,0 L19.8,-8.7 M11.5,0 L19.8,8.7 M20.9,0 L29.2,-7.7 M20.9,0 L29.2,7.7 M30.3,0 L38.6,-6.6 M30.3,0 L38.6,6.6 M38.6,0 L47.0,-5.6 M38.6,0 L47.0,5.6" fill="none" stroke="#b5d89a" stroke-width="0.8" opacity="0.4"/></g><g transform="translate(1107.4,114.4) rotate(-41.2)"><path d="M0,0 C15.840611099323128,-25.326999999999998 44.64172218900154,-25.83354 72.00277772419604,0 C44.64172218900154,25.83354 15.840611099323128,25.326999999999998 0,0 Z" fill="url(#leafG)" stroke="#3c5a2b" stroke-width="1.2"/><path d="M2.8801111089678417,0 L66.96258328350231,0 M15.8,0 L27.4,-11.9 M15.8,0 L27.4,11.9 M28.8,0 L40.3,-10.4 M28.8,0 L40.3,10.4 M41.8,0 L53.3,-8.9 M41.8,0 L53.3,8.9 M53.3,0 L64.8,-7.6 M53.3,0 L64.8,7.6" fill="none" stroke="#b5d89a" stroke-width="0.8" opacity="0.4"/></g><g transform="translate(1119,122) rotate(21.0)"><path d="M0,0 C11.71363137545314,-18.662 33.011142967186125,-19.035239999999998 53.243778979332454,0 C33.011142967186125,19.035239999999998 11.71363137545314,18.662 0,0 Z" fill="url(#leafG)" stroke="#3c5a2b" stroke-width="1.2"/><path d="M2.1297511591732983,0 L49.51671445077918,0 M11.7,0 L20.2,-8.7 M11.7,0 L20.2,8.7 M21.3,0 L29.8,-7.7 M21.3,0 L29.8,7.7 M30.9,0 L39.4,-6.6 M30.9,0 L39.4,6.6 M39.4,0 L47.9,-5.6 M39.4,0 L47.9,5.6" fill="none" stroke="#b5d89a" stroke-width="0.8" opacity="0.4"/></g><g transform="translate(948.8,225.6) rotate(-135.1)"><path d="M0,0 C15.898619311122575,-24.6605 44.80519987679999,-25.15371 72.26645141419353,0 C44.80519987679999,25.15371 15.898619311122575,24.6605 0,0 Z" fill="url(#leafG)" stroke="#3c5a2b" stroke-width="1.2"/><path d="M2.890658056567741,0 L67.20779981519998,0 M15.9,0 L27.5,-11.6 M15.9,0 L27.5,11.6 M28.9,0 L40.5,-10.1 M28.9,0 L40.5,10.1 M41.9,0 L53.5,-8.7 M41.9,0 L53.5,8.7 M53.5,0 L65.0,-7.4 M53.5,0 L65.0,7.4" fill="none" stroke="#b5d89a" stroke-width="0.8" opacity="0.4"/></g><g transform="translate(957.7,216.5) rotate(-73.4)"><path d="M0,0 C11.777255707506736,-17.9955 33.190447902973524,-18.35541 53.53298048866698,0 C33.190447902973524,18.35541 11.777255707506736,17.9955 0,0 Z" fill="url(#leafG)" stroke="#3c5a2b" stroke-width="1.2"/><path d="M2.1413192195466793,0 L49.78567185446029,0 M11.8,0 L20.3,-8.4 M11.8,0 L20.3,8.4 M21.4,0 L30.0,-7.4 M21.4,0 L30.0,7.4 M31.0,0 L39.6,-6.3 M31.0,0 L39.6,6.3 M39.6,0 L48.2,-5.4 M39.6,0 L48.2,5.4" fill="none" stroke="#b5d89a" stroke-width="0.8" opacity="0.4"/></g><g transform="translate(937.4,232.5) rotate(165.1)"><path d="M0,0 C11.563904012054051,-18.662 32.589184033970504,-19.035239999999998 52.56320005479114,0 C32.589184033970504,19.035239999999998 11.563904012054051,18.662 0,0 Z" fill="url(#leafG)" stroke="#3c5a2b" stroke-width="1.2"/><path d="M2.1025280021916455,0 L48.88377605095576,0 M11.6,0 L20.0,-8.7 M11.6,0 L20.0,8.7 M21.0,0 L29.4,-7.7 M21.0,0 L29.4,7.7 M30.5,0 L38.9,-6.6 M30.5,0 L38.9,6.6 M38.9,0 L47.3,-5.6 M38.9,0 L47.3,5.6" fill="none" stroke="#b5d89a" stroke-width="0.8" opacity="0.4"/></g><g transform="translate(943.6,324) rotate(-129.4)"><path d="M0,0 C11.754878136331316,-18.662 33.12738383875189,-19.035239999999998 53.431264256051435,0 C33.12738383875189,19.035239999999998 11.754878136331316,18.662 0,0 Z" fill="url(#leafG)" stroke="#3c5a2b" stroke-width="1.2"/><path d="M2.1372505702420574,0 L49.69107575812784,0 M11.8,0 L20.3,-8.7 M11.8,0 L20.3,8.7 M21.4,0 L29.9,-7.7 M21.4,0 L29.9,7.7 M31.0,0 L39.5,-6.6 M31.0,0 L39.5,6.6 M39.5,0 L48.1,-5.6 M39.5,0 L48.1,5.6" fill="none" stroke="#b5d89a" stroke-width="0.8" opacity="0.4"/></g><g transform="translate(945.7,337.7) rotate(169.8)"><path d="M0,0 C15.846262650858737,-24.6605 44.657649288783716,-25.15371 72.02846659481244,0 C44.657649288783716,25.15371 15.846262650858737,24.6605 0,0 Z" fill="url(#leafG)" stroke="#3c5a2b" stroke-width="1.2"/><path d="M2.881138663792498,0 L66.98647393317557,0 M15.8,0 L27.4,-11.6 M15.8,0 L27.4,11.6 M28.8,0 L40.3,-10.1 M28.8,0 L40.3,10.1 M41.8,0 L53.3,-8.7 M41.8,0 L53.3,8.7 M53.3,0 L64.8,-7.4 M53.3,0 L64.8,7.4" fill="none" stroke="#b5d89a" stroke-width="0.8" opacity="0.4"/></g><g transform="translate(946.8,351.5) rotate(112.1)"><path d="M0,0 C11.39814458585256,-18.662 32.12204383285721,-19.035239999999998 51.80974811751163,0 C32.12204383285721,19.035239999999998 11.39814458585256,18.662 0,0 Z" fill="url(#leafG)" stroke="#3c5a2b" stroke-width="1.2"/><path d="M2.0723899247004653,0 L48.18306574928582,0 M11.4,0 L19.7,-8.7 M11.4,0 L19.7,8.7 M20.7,0 L29.0,-7.7 M20.7,0 L29.0,7.7 M30.0,0 L38.3,-6.6 M30.0,0 L38.3,6.6 M38.3,0 L46.6,-5.6 M38.3,0 L46.6,5.6" fill="none" stroke="#b5d89a" stroke-width="0.8" opacity="0.4"/></g><g transform="translate(981,340.9) rotate(-141.9)"><path d="M0,0 C9.448967985976026,-17.329 26.62890977865971,-17.67558 42.94985448170921,0 C26.62890977865971,17.67558 9.448967985976026,17.329 0,0 Z" fill="url(#leafG)" stroke="#3c5a2b" stroke-width="1.2"/><path d="M1.7179941792683684,0 L39.94336466798957,0 M9.4,0 L16.3,-8.1 M9.4,0 L16.3,8.1 M17.2,0 L24.1,-7.1 M17.2,0 L24.1,7.1 M24.9,0 L31.8,-6.1 M24.9,0 L31.8,6.1 M31.8,0 L38.7,-5.2 M31.8,0 L38.7,5.2" fill="none" stroke="#b5d89a" stroke-width="0.8" opacity="0.4"/></g><g transform="translate(989.1,342) rotate(-83.8)"><path d="M0,0 C12.747571533433343,-21.328 35.92497432149397,-21.75456 57.94350697015156,0 C35.92497432149397,21.75456 12.747571533433343,21.328 0,0 Z" fill="url(#leafG)" stroke="#3c5a2b" stroke-width="1.2"/><path d="M2.3177402788060624,0 L53.88746148224095,0 M12.7,0 L22.0,-10.0 M12.7,0 L22.0,10.0 M23.2,0 L32.4,-8.8 M23.2,0 L32.4,8.8 M33.6,0 L42.9,-7.5 M33.6,0 L42.9,7.5 M42.9,0 L52.1,-6.4 M42.9,0 L52.1,6.4" fill="none" stroke="#b5d89a" stroke-width="0.8" opacity="0.4"/></g><g transform="translate(996.5,344) rotate(-25.7)"><path d="M0,0 C9.446304039146751,-16.662499999999998 26.621402292140843,-16.995749999999997 42.93774563248523,0 C26.621402292140843,16.995749999999997 9.446304039146751,16.662499999999998 0,0 Z" fill="url(#leafG)" stroke="#3c5a2b" stroke-width="1.2"/><path d="M1.7175098252994092,0 L39.932103438211264,0 M9.4,0 L16.3,-7.8 M9.4,0 L16.3,7.8 M17.2,0 L24.0,-6.8 M17.2,0 L24.0,6.8 M24.9,0 L31.8,-5.9 M24.9,0 L31.8,5.9 M31.8,0 L38.6,-5.0 M31.8,0 L38.6,5.0" fill="none" stroke="#b5d89a" stroke-width="0.8" opacity="0.4"/></g><g transform="translate(1061.3,350.4) rotate(-139.3)"><path d="M0,0 C8.907826895489162,-15.995999999999999 25.10387579637855,-16.31592 40.490122252223465,0 C25.10387579637855,16.31592 8.907826895489162,15.995999999999999 0,0 Z" fill="url(#leafG)" stroke="#3c5a2b" stroke-width="1.2"/><path d="M1.6196048900889386,0 L37.655813694567826,0 M8.9,0 L15.4,-7.5 M8.9,0 L15.4,7.5 M16.2,0 L22.7,-6.6 M16.2,0 L22.7,6.6 M23.5,0 L30.0,-5.6 M23.5,0 L30.0,5.6 M30.0,0 L36.4,-4.8 M30.0,0 L36.4,4.8" fill="none" stroke="#b5d89a" stroke-width="0.8" opacity="0.4"/></g><g transform="translate(1069.1,351.5) rotate(-83.2)"><path d="M0,0 C12.893670540230193,-19.995 36.33670788610328,-20.3949 58.6075933646827,0 C36.33670788610328,20.3949 12.893670540230193,19.995 0,0 Z" fill="url(#leafG)" stroke="#3c5a2b" stroke-width="1.2"/><path d="M2.344303734587308,0 L54.50506182915491,0 M12.9,0 L22.3,-9.4 M12.9,0 L22.3,9.4 M23.4,0 L32.8,-8.2 M23.4,0 L32.8,8.2 M34.0,0 L43.4,-7.0 M34.0,0 L43.4,7.0 M43.4,0 L52.7,-6.0 M43.4,0 L52.7,6.0" fill="none" stroke="#b5d89a" stroke-width="0.8" opacity="0.4"/></g><g transform="translate(1076,352.5) rotate(-25.9)"><path d="M0,0 C9.583620192808153,-15.995999999999999 27.00838417973207,-16.31592 43.56190996730979,0 C27.00838417973207,16.31592 9.583620192808153,15.995999999999999 0,0 Z" fill="url(#leafG)" stroke="#3c5a2b" stroke-width="1.2"/><path d="M1.7424763986923915,0 L40.51257626959811,0 M9.6,0 L16.6,-7.5 M9.6,0 L16.6,7.5 M17.4,0 L24.4,-6.6 M17.4,0 L24.4,6.6 M25.3,0 L32.2,-5.6 M25.3,0 L32.2,5.6 M32.2,0 L39.2,-4.8 M32.2,0 L39.2,4.8" fill="none" stroke="#b5d89a" stroke-width="0.8" opacity="0.4"/></g><g transform="translate(1122.6,329.2) rotate(-59.8)"><path d="M0,0 C11.55391743089763,-19.995 32.56104003252969,-20.3949 52.51780650408014,0 C32.56104003252969,20.3949 11.55391743089763,19.995 0,0 Z" fill="url(#leafG)" stroke="#3c5a2b" stroke-width="1.2"/><path d="M2.100712260163206,0 L48.841560048794534,0 M11.6,0 L20.0,-9.4 M11.6,0 L20.0,9.4 M21.0,0 L29.4,-8.2 M21.0,0 L29.4,8.2 M30.5,0 L38.9,-7.0 M30.5,0 L38.9,7.0 M38.9,0 L47.3,-6.0 M38.9,0 L47.3,6.0" fill="none" stroke="#b5d89a" stroke-width="0.8" opacity="0.4"/></g><g transform="translate(1121.6,337.7) rotate(0.3)"><path d="M0,0 C15.708246496665394,-25.326999999999998 44.26869467242065,-25.83354 71.40112043938815,0 C44.26869467242065,25.83354 15.708246496665394,25.326999999999998 0,0 Z" fill="url(#leafG)" stroke="#3c5a2b" stroke-width="1.2"/><path d="M2.856044817575526,0 L66.40304200863099,0 M15.7,0 L27.1,-11.9 M15.7,0 L27.1,11.9 M28.6,0 L40.0,-10.4 M28.6,0 L40.0,10.4 M41.4,0 L52.8,-8.9 M41.4,0 L52.8,8.9 M52.8,0 L64.3,-7.6 M52.8,0 L64.3,7.6" fill="none" stroke="#b5d89a" stroke-width="0.8" opacity="0.4"/></g><g transform="translate(1120.5,343) rotate(59.2)"><path d="M0,0 C12.469731191970416,-19.995 35.14196972282572,-20.3949 56.680596327138254,0 C35.14196972282572,20.3949 12.469731191970416,19.995 0,0 Z" fill="url(#leafG)" stroke="#3c5a2b" stroke-width="1.2"/><path d="M2.26722385308553,0 L52.71295458423858,0 M12.5,0 L21.5,-9.4 M12.5,0 L21.5,9.4 M22.7,0 L31.7,-8.2 M22.7,0 L31.7,8.2 M32.9,0 L41.9,-7.0 M32.9,0 L41.9,7.0 M41.9,0 L51.0,-6.0 M41.9,0 L51.0,6.0" fill="none" stroke="#b5d89a" stroke-width="0.8" opacity="0.4"/></g><path d="M859.6,3 L945.8,397 L995.9,397 L995.9,447.7 L945.8,447.7 L859.5,707 M945.8,397 L945.8,447.7" fill="none" stroke="#111" stroke-width="2.1" stroke-dasharray="6.5 6.5"/></svg></body></html>
